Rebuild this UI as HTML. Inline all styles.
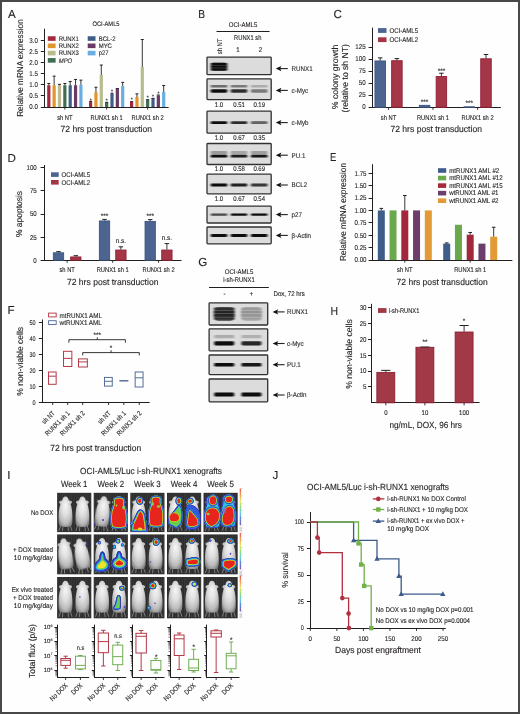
<!DOCTYPE html>
<html><head><meta charset="utf-8"><style>
html,body{margin:0;padding:0;background:#fff;}
body{width:520px;height:714px;overflow:hidden;}
svg{display:block;font-family:"Liberation Sans",sans-serif;will-change:transform;text-rendering:geometricPrecision;}
text{stroke:#231f20;stroke-width:0.12px;paint-order:stroke;}
</style></head><body>
<svg width="520" height="714" viewBox="0 0 520 714">
<rect x="0" y="0" width="520" height="714" fill="#fefefe"/>
<text x="8.00" y="17.60" font-size="11.6" textLength="7.74" lengthAdjust="spacingAndGlyphs" fill="#231f20">A</text>
<text x="198.20" y="18.00" font-size="11.6" textLength="6.81" lengthAdjust="spacingAndGlyphs" fill="#231f20">B</text>
<text x="333.60" y="18.00" font-size="11.6" textLength="8.38" lengthAdjust="spacingAndGlyphs" fill="#231f20">C</text>
<text x="7.60" y="161.50" font-size="11.6" textLength="8.38" lengthAdjust="spacingAndGlyphs" fill="#231f20">D</text>
<text x="330.00" y="160.60" font-size="11.6" textLength="6.34" lengthAdjust="spacingAndGlyphs" fill="#231f20">E</text>
<text x="7.60" y="314.00" font-size="11.6" textLength="7.09" lengthAdjust="spacingAndGlyphs" fill="#231f20">F</text>
<text x="198.20" y="265.70" font-size="11.6" textLength="9.02" lengthAdjust="spacingAndGlyphs" fill="#231f20">G</text>
<text x="330.60" y="314.60" font-size="11.6" textLength="7.54" lengthAdjust="spacingAndGlyphs" fill="#231f20">H</text>
<text x="7.20" y="479.00" font-size="11.6" textLength="3.22" lengthAdjust="spacingAndGlyphs" fill="#231f20">I</text>
<text x="272.60" y="478.80" font-size="11.6" textLength="5.80" lengthAdjust="spacingAndGlyphs" fill="#231f20">J</text>
<line x1="44.50" y1="28.70" x2="44.50" y2="108.00" stroke="#231f20" stroke-width="1.0"/>
<line x1="40.80" y1="107.50" x2="44.50" y2="107.50" stroke="#231f20" stroke-width="1.0"/>
<text x="29.34" y="109.40" font-size="7.0" textLength="8.56" lengthAdjust="spacingAndGlyphs" fill="#231f20" stroke="none">0.0</text>
<line x1="40.80" y1="95.50" x2="44.50" y2="95.50" stroke="#231f20" stroke-width="1.0"/>
<text x="29.34" y="98.30" font-size="7.0" textLength="8.56" lengthAdjust="spacingAndGlyphs" fill="#231f20" stroke="none">0.5</text>
<line x1="40.80" y1="84.50" x2="44.50" y2="84.50" stroke="#231f20" stroke-width="1.0"/>
<text x="29.34" y="87.20" font-size="7.0" textLength="8.56" lengthAdjust="spacingAndGlyphs" fill="#231f20" stroke="none">1.0</text>
<line x1="40.80" y1="73.50" x2="44.50" y2="73.50" stroke="#231f20" stroke-width="1.0"/>
<text x="29.34" y="76.10" font-size="7.0" textLength="8.56" lengthAdjust="spacingAndGlyphs" fill="#231f20" stroke="none">1.5</text>
<line x1="40.80" y1="62.50" x2="44.50" y2="62.50" stroke="#231f20" stroke-width="1.0"/>
<text x="29.34" y="65.00" font-size="7.0" textLength="8.56" lengthAdjust="spacingAndGlyphs" fill="#231f20" stroke="none">2.0</text>
<line x1="40.80" y1="51.50" x2="44.50" y2="51.50" stroke="#231f20" stroke-width="1.0"/>
<text x="29.34" y="53.90" font-size="7.0" textLength="8.56" lengthAdjust="spacingAndGlyphs" fill="#231f20" stroke="none">2.5</text>
<line x1="40.80" y1="40.50" x2="44.50" y2="40.50" stroke="#231f20" stroke-width="1.0"/>
<text x="29.34" y="42.80" font-size="7.0" textLength="8.56" lengthAdjust="spacingAndGlyphs" fill="#231f20" stroke="none">3.0</text>
<line x1="44.00" y1="107.50" x2="168.60" y2="107.50" stroke="#231f20" stroke-width="1.0"/>
<text x="22.80" y="116.80" font-size="8.7" textLength="97.50" lengthAdjust="spacingAndGlyphs" fill="#231f20" transform="rotate(-90 22.80 116.80)">Relative mRNA expression</text>
<text x="92.50" y="26.20" font-size="6.6" textLength="27.00" lengthAdjust="spacingAndGlyphs" fill="#231f20" stroke="none">OCI-AML5</text>
<rect x="47.80" y="36.25" width="7.80" height="4.60" fill="#a3283c"/>
<text x="58.70" y="40.85" font-size="6.6" textLength="20.13" lengthAdjust="spacingAndGlyphs" fill="#231f20" stroke="none">RUNX1</text>
<rect x="47.80" y="43.52" width="7.80" height="4.60" fill="#e3952d"/>
<text x="58.70" y="48.12" font-size="6.6" textLength="20.13" lengthAdjust="spacingAndGlyphs" fill="#231f20" stroke="none">RUNX2</text>
<rect x="47.80" y="50.79" width="7.80" height="4.60" fill="#b8bc8d"/>
<text x="58.70" y="55.39" font-size="6.6" textLength="20.13" lengthAdjust="spacingAndGlyphs" fill="#231f20" stroke="none">RUNX3</text>
<rect x="47.80" y="58.06" width="7.80" height="4.60" fill="#3e6f53"/>
<text x="58.70" y="62.66" font-size="6.6" textLength="13.53" lengthAdjust="spacingAndGlyphs" fill="#231f20" stroke="none" font-style="italic">MPO</text>
<rect x="87.70" y="36.25" width="7.80" height="4.60" fill="#3f5d89"/>
<text x="98.70" y="40.85" font-size="6.6" textLength="16.84" lengthAdjust="spacingAndGlyphs" fill="#231f20" stroke="none">BCL-2</text>
<rect x="87.70" y="43.52" width="7.80" height="4.60" fill="#6a3a66"/>
<text x="98.70" y="48.12" font-size="6.6" textLength="13.20" lengthAdjust="spacingAndGlyphs" fill="#231f20" stroke="none">MYC</text>
<rect x="87.70" y="50.79" width="7.80" height="4.60" fill="#68aee0"/>
<text x="98.70" y="55.39" font-size="6.6" textLength="9.91" lengthAdjust="spacingAndGlyphs" fill="#231f20" stroke="none">p27</text>
<rect x="47.20" y="85.24" width="3.20" height="21.76" fill="#a3283c"/>
<line x1="48.80" y1="85.24" x2="48.80" y2="83.47" stroke="#231f20" stroke-width="0.9"/>
<line x1="47.30" y1="83.47" x2="50.30" y2="83.47" stroke="#231f20" stroke-width="0.9900000000000001"/>
<rect x="52.55" y="85.24" width="3.20" height="21.76" fill="#e3952d"/>
<line x1="54.15" y1="85.24" x2="54.15" y2="76.14" stroke="#231f20" stroke-width="0.9"/>
<line x1="52.65" y1="76.14" x2="55.65" y2="76.14" stroke="#231f20" stroke-width="0.9900000000000001"/>
<rect x="57.90" y="85.24" width="3.20" height="21.76" fill="#b8bc8d"/>
<line x1="59.50" y1="85.24" x2="59.50" y2="84.36" stroke="#231f20" stroke-width="0.9"/>
<line x1="58.00" y1="84.36" x2="61.00" y2="84.36" stroke="#231f20" stroke-width="0.9900000000000001"/>
<rect x="63.25" y="85.24" width="3.20" height="21.76" fill="#3e6f53"/>
<line x1="64.85" y1="85.24" x2="64.85" y2="83.47" stroke="#231f20" stroke-width="0.9"/>
<line x1="63.35" y1="83.47" x2="66.35" y2="83.47" stroke="#231f20" stroke-width="0.9900000000000001"/>
<rect x="68.60" y="85.24" width="3.20" height="21.76" fill="#3f5d89"/>
<line x1="70.20" y1="85.24" x2="70.20" y2="81.47" stroke="#231f20" stroke-width="0.9"/>
<line x1="68.70" y1="81.47" x2="71.70" y2="81.47" stroke="#231f20" stroke-width="0.9900000000000001"/>
<rect x="73.95" y="85.24" width="3.20" height="21.76" fill="#6a3a66"/>
<line x1="75.55" y1="85.24" x2="75.55" y2="79.47" stroke="#231f20" stroke-width="0.9"/>
<line x1="74.05" y1="79.47" x2="77.05" y2="79.47" stroke="#231f20" stroke-width="0.9900000000000001"/>
<rect x="79.30" y="84.80" width="3.20" height="22.20" fill="#68aee0"/>
<line x1="80.90" y1="84.80" x2="80.90" y2="80.14" stroke="#231f20" stroke-width="0.9"/>
<line x1="79.40" y1="80.14" x2="82.40" y2="80.14" stroke="#231f20" stroke-width="0.9900000000000001"/>
<line x1="64.85" y1="107.00" x2="64.85" y2="109.60" stroke="#231f20" stroke-width="0.9"/>
<text x="57.14" y="120.00" font-size="6.8" textLength="15.41" lengthAdjust="spacingAndGlyphs" fill="#231f20" stroke="none">sh NT</text>
<rect x="89.00" y="102.12" width="3.20" height="4.88" fill="#a3283c"/>
<line x1="90.60" y1="102.12" x2="90.60" y2="101.45" stroke="#231f20" stroke-width="0.9"/>
<line x1="89.10" y1="101.45" x2="92.10" y2="101.45" stroke="#231f20" stroke-width="0.9900000000000001"/>
<text x="89.63" y="101.65" font-size="5.0" textLength="1.95" lengthAdjust="spacingAndGlyphs" fill="#231f20" stroke="none">*</text>
<rect x="94.35" y="92.35" width="3.20" height="14.65" fill="#e3952d"/>
<line x1="95.95" y1="92.35" x2="95.95" y2="87.24" stroke="#231f20" stroke-width="0.9"/>
<line x1="94.45" y1="87.24" x2="97.45" y2="87.24" stroke="#231f20" stroke-width="0.9900000000000001"/>
<rect x="99.70" y="75.03" width="3.20" height="31.97" fill="#b8bc8d"/>
<line x1="101.30" y1="75.03" x2="101.30" y2="65.04" stroke="#231f20" stroke-width="0.9"/>
<line x1="99.80" y1="65.04" x2="102.80" y2="65.04" stroke="#231f20" stroke-width="0.9900000000000001"/>
<rect x="105.05" y="102.12" width="3.20" height="4.88" fill="#3e6f53"/>
<line x1="105.15" y1="102.32" x2="108.15" y2="102.32" stroke="#231f20" stroke-width="0.9"/>
<text x="105.68" y="101.87" font-size="5.0" textLength="1.95" lengthAdjust="spacingAndGlyphs" fill="#231f20" stroke="none">*</text>
<rect x="110.40" y="93.90" width="3.20" height="13.10" fill="#3f5d89"/>
<line x1="112.00" y1="93.90" x2="112.00" y2="93.24" stroke="#231f20" stroke-width="0.9"/>
<line x1="110.50" y1="93.24" x2="113.50" y2="93.24" stroke="#231f20" stroke-width="0.9900000000000001"/>
<text x="111.03" y="93.44" font-size="5.0" textLength="1.95" lengthAdjust="spacingAndGlyphs" fill="#231f20" stroke="none">*</text>
<rect x="115.75" y="88.35" width="3.20" height="18.65" fill="#6a3a66"/>
<line x1="115.85" y1="88.55" x2="118.85" y2="88.55" stroke="#231f20" stroke-width="0.9"/>
<rect x="121.10" y="86.13" width="3.20" height="20.87" fill="#68aee0"/>
<line x1="122.70" y1="86.13" x2="122.70" y2="82.36" stroke="#231f20" stroke-width="0.9"/>
<line x1="121.20" y1="82.36" x2="124.20" y2="82.36" stroke="#231f20" stroke-width="0.9900000000000001"/>
<line x1="106.65" y1="107.00" x2="106.65" y2="109.60" stroke="#231f20" stroke-width="0.9"/>
<text x="90.59" y="120.00" font-size="6.8" textLength="32.12" lengthAdjust="spacingAndGlyphs" fill="#231f20" stroke="none">RUNX1 sh 1</text>
<rect x="130.00" y="101.45" width="3.20" height="5.55" fill="#a3283c"/>
<line x1="130.10" y1="101.65" x2="133.10" y2="101.65" stroke="#231f20" stroke-width="0.9"/>
<text x="130.63" y="101.21" font-size="5.0" textLength="1.95" lengthAdjust="spacingAndGlyphs" fill="#231f20" stroke="none">*</text>
<rect x="135.35" y="97.01" width="3.20" height="9.99" fill="#e3952d"/>
<line x1="136.95" y1="97.01" x2="136.95" y2="93.90" stroke="#231f20" stroke-width="0.9"/>
<line x1="135.45" y1="93.90" x2="138.45" y2="93.90" stroke="#231f20" stroke-width="0.9900000000000001"/>
<rect x="140.70" y="67.04" width="3.20" height="39.96" fill="#b8bc8d"/>
<line x1="142.30" y1="67.04" x2="142.30" y2="39.51" stroke="#231f20" stroke-width="0.9"/>
<line x1="140.80" y1="39.51" x2="143.80" y2="39.51" stroke="#231f20" stroke-width="0.9900000000000001"/>
<rect x="146.05" y="99.45" width="3.20" height="7.55" fill="#3e6f53"/>
<line x1="146.15" y1="99.65" x2="149.15" y2="99.65" stroke="#231f20" stroke-width="0.9"/>
<text x="146.68" y="99.21" font-size="5.0" textLength="1.95" lengthAdjust="spacingAndGlyphs" fill="#231f20" stroke="none">*</text>
<rect x="151.40" y="98.12" width="3.20" height="8.88" fill="#3f5d89"/>
<line x1="151.50" y1="98.32" x2="154.50" y2="98.32" stroke="#231f20" stroke-width="0.9"/>
<text x="152.03" y="97.88" font-size="5.0" textLength="1.95" lengthAdjust="spacingAndGlyphs" fill="#231f20" stroke="none">*</text>
<rect x="156.75" y="95.68" width="3.20" height="11.32" fill="#6a3a66"/>
<line x1="158.35" y1="95.68" x2="158.35" y2="95.01" stroke="#231f20" stroke-width="0.9"/>
<line x1="156.85" y1="95.01" x2="159.85" y2="95.01" stroke="#231f20" stroke-width="0.9900000000000001"/>
<text x="157.38" y="95.21" font-size="5.0" textLength="1.95" lengthAdjust="spacingAndGlyphs" fill="#231f20" stroke="none">*</text>
<rect x="162.10" y="91.90" width="3.20" height="15.10" fill="#68aee0"/>
<line x1="163.70" y1="91.90" x2="163.70" y2="85.47" stroke="#231f20" stroke-width="0.9"/>
<line x1="162.20" y1="85.47" x2="165.20" y2="85.47" stroke="#231f20" stroke-width="0.9900000000000001"/>
<line x1="147.65" y1="107.00" x2="147.65" y2="109.60" stroke="#231f20" stroke-width="0.9"/>
<text x="131.59" y="120.00" font-size="6.8" textLength="32.12" lengthAdjust="spacingAndGlyphs" fill="#231f20" stroke="none">RUNX1 sh 2</text>
<text x="60.55" y="132.10" font-size="8.85" textLength="91.50" lengthAdjust="spacingAndGlyphs" fill="#231f20">72 hrs post transduction</text>
<line x1="372.50" y1="27.70" x2="372.50" y2="108.00" stroke="#231f20" stroke-width="1.0"/>
<line x1="368.60" y1="107.50" x2="372.50" y2="107.50" stroke="#231f20" stroke-width="1.0"/>
<text x="362.17" y="109.30" font-size="7.0" textLength="3.43" lengthAdjust="spacingAndGlyphs" fill="#231f20" stroke="none">0</text>
<line x1="368.60" y1="95.50" x2="372.50" y2="95.50" stroke="#231f20" stroke-width="1.0"/>
<text x="358.75" y="97.30" font-size="7.0" textLength="6.85" lengthAdjust="spacingAndGlyphs" fill="#231f20" stroke="none">25</text>
<line x1="368.60" y1="83.50" x2="372.50" y2="83.50" stroke="#231f20" stroke-width="1.0"/>
<text x="358.75" y="85.30" font-size="7.0" textLength="6.85" lengthAdjust="spacingAndGlyphs" fill="#231f20" stroke="none">50</text>
<line x1="368.60" y1="71.50" x2="372.50" y2="71.50" stroke="#231f20" stroke-width="1.0"/>
<text x="358.75" y="73.30" font-size="7.0" textLength="6.85" lengthAdjust="spacingAndGlyphs" fill="#231f20" stroke="none">75</text>
<line x1="368.60" y1="59.50" x2="372.50" y2="59.50" stroke="#231f20" stroke-width="1.0"/>
<text x="355.32" y="61.30" font-size="7.0" textLength="10.28" lengthAdjust="spacingAndGlyphs" fill="#231f20" stroke="none">100</text>
<line x1="368.60" y1="47.50" x2="372.50" y2="47.50" stroke="#231f20" stroke-width="1.0"/>
<text x="355.32" y="49.30" font-size="7.0" textLength="10.28" lengthAdjust="spacingAndGlyphs" fill="#231f20" stroke="none">125</text>
<line x1="372.00" y1="107.50" x2="500.90" y2="107.50" stroke="#231f20" stroke-width="1.0"/>
<text x="305.70" y="77.00" font-size="8.7" textLength="64.60" lengthAdjust="spacingAndGlyphs" fill="#231f20" transform="rotate(-90 338.00 77.00)">% colony growth</text>
<text x="314.20" y="78.30" font-size="8.7" textLength="68.20" lengthAdjust="spacingAndGlyphs" fill="#231f20" transform="rotate(-90 348.30 78.30)">(relative to sh NT)</text>
<rect x="378.00" y="28.10" width="8.50" height="4.80" fill="#4b6590"/>
<text x="389.50" y="32.90" font-size="6.8" textLength="28.58" lengthAdjust="spacingAndGlyphs" fill="#231f20" stroke="none">OCI-AML5</text>
<rect x="378.00" y="37.30" width="8.50" height="4.80" fill="#a43647"/>
<text x="389.50" y="42.10" font-size="6.8" textLength="28.58" lengthAdjust="spacingAndGlyphs" fill="#231f20" stroke="none">OCI-AML2</text>
<rect x="374.95" y="60.95" width="10.50" height="46.35" fill="#4b6590" stroke="#3a5482" stroke-width="0.9"/>
<line x1="380.20" y1="60.50" x2="380.20" y2="57.86" stroke="#231f20" stroke-width="0.9"/>
<line x1="377.95" y1="57.86" x2="382.45" y2="57.86" stroke="#231f20" stroke-width="0.9900000000000001"/>
<rect x="391.65" y="60.71" width="10.50" height="46.59" fill="#a43647" stroke="#921f34" stroke-width="0.9"/>
<line x1="396.90" y1="60.26" x2="396.90" y2="58.58" stroke="#231f20" stroke-width="0.9"/>
<line x1="394.65" y1="58.58" x2="399.15" y2="58.58" stroke="#231f20" stroke-width="0.9900000000000001"/>
<line x1="388.55" y1="107.30" x2="388.55" y2="109.90" stroke="#231f20" stroke-width="0.9"/>
<text x="380.84" y="119.60" font-size="6.8" textLength="15.41" lengthAdjust="spacingAndGlyphs" fill="#231f20" stroke="none">sh NT</text>
<rect x="419.35" y="105.35" width="10.50" height="1.95" fill="#4b6590" stroke="#3a5482" stroke-width="0.9"/>
<text x="420.86" y="103.82" font-size="6.4" textLength="7.47" lengthAdjust="spacingAndGlyphs" fill="#231f20" stroke="none">***</text>
<rect x="436.15" y="76.55" width="10.50" height="30.75" fill="#a43647" stroke="#921f34" stroke-width="0.9"/>
<line x1="441.40" y1="76.10" x2="441.40" y2="73.22" stroke="#231f20" stroke-width="0.9"/>
<line x1="439.15" y1="73.22" x2="443.65" y2="73.22" stroke="#231f20" stroke-width="0.9900000000000001"/>
<text x="437.66" y="72.62" font-size="6.4" textLength="7.47" lengthAdjust="spacingAndGlyphs" fill="#231f20" stroke="none">***</text>
<line x1="433.00" y1="107.30" x2="433.00" y2="109.90" stroke="#231f20" stroke-width="0.9"/>
<text x="416.94" y="119.60" font-size="6.8" textLength="32.12" lengthAdjust="spacingAndGlyphs" fill="#231f20" stroke="none">RUNX1 sh 1</text>
<rect x="463.95" y="106.79" width="10.50" height="0.51" fill="#4b6590" stroke="#3a5482" stroke-width="0.9"/>
<text x="465.46" y="105.45" font-size="6.4" textLength="7.47" lengthAdjust="spacingAndGlyphs" fill="#231f20" stroke="none">***</text>
<rect x="480.75" y="58.79" width="10.50" height="48.51" fill="#a43647" stroke="#921f34" stroke-width="0.9"/>
<line x1="486.00" y1="58.34" x2="486.00" y2="54.50" stroke="#231f20" stroke-width="0.9"/>
<line x1="483.75" y1="54.50" x2="488.25" y2="54.50" stroke="#231f20" stroke-width="0.9900000000000001"/>
<line x1="477.60" y1="107.30" x2="477.60" y2="109.90" stroke="#231f20" stroke-width="0.9"/>
<text x="461.54" y="119.60" font-size="6.8" textLength="32.12" lengthAdjust="spacingAndGlyphs" fill="#231f20" stroke="none">RUNX1 sh 2</text>
<text x="390.45" y="132.10" font-size="8.85" textLength="91.50" lengthAdjust="spacingAndGlyphs" fill="#231f20">72 hrs post transduction</text>
<line x1="44.50" y1="165.00" x2="44.50" y2="261.00" stroke="#231f20" stroke-width="1.0"/>
<line x1="40.60" y1="260.50" x2="44.50" y2="260.50" stroke="#231f20" stroke-width="1.0"/>
<text x="33.37" y="262.60" font-size="7.0" textLength="3.43" lengthAdjust="spacingAndGlyphs" fill="#231f20" stroke="none">0</text>
<line x1="40.60" y1="237.50" x2="44.50" y2="237.50" stroke="#231f20" stroke-width="1.0"/>
<text x="29.95" y="239.53" font-size="7.0" textLength="6.85" lengthAdjust="spacingAndGlyphs" fill="#231f20" stroke="none">25</text>
<line x1="40.60" y1="214.50" x2="44.50" y2="214.50" stroke="#231f20" stroke-width="1.0"/>
<text x="29.95" y="216.45" font-size="7.0" textLength="6.85" lengthAdjust="spacingAndGlyphs" fill="#231f20" stroke="none">50</text>
<line x1="40.60" y1="190.50" x2="44.50" y2="190.50" stroke="#231f20" stroke-width="1.0"/>
<text x="29.95" y="193.37" font-size="7.0" textLength="6.85" lengthAdjust="spacingAndGlyphs" fill="#231f20" stroke="none">75</text>
<line x1="40.60" y1="167.50" x2="44.50" y2="167.50" stroke="#231f20" stroke-width="1.0"/>
<text x="26.52" y="170.30" font-size="7.0" textLength="10.28" lengthAdjust="spacingAndGlyphs" fill="#231f20" stroke="none">100</text>
<line x1="44.00" y1="260.50" x2="181.50" y2="260.50" stroke="#231f20" stroke-width="1.0"/>
<text x="-1.50" y="214.00" font-size="8.7" textLength="46.00" lengthAdjust="spacingAndGlyphs" fill="#231f20" transform="rotate(-90 21.50 214.00)">% apoptosis</text>
<rect x="51.00" y="172.30" width="7.70" height="4.60" fill="#4b6590"/>
<text x="61.50" y="176.90" font-size="6.8" textLength="28.58" lengthAdjust="spacingAndGlyphs" fill="#231f20" stroke="none">OCI-AML5</text>
<rect x="51.00" y="180.00" width="7.70" height="4.60" fill="#a43647"/>
<text x="61.50" y="184.60" font-size="6.8" textLength="28.58" lengthAdjust="spacingAndGlyphs" fill="#231f20" stroke="none">OCI-AML2</text>
<rect x="53.35" y="252.80" width="10.30" height="7.40" fill="#4b6590" stroke="#3a5482" stroke-width="0.9"/>
<line x1="58.50" y1="252.35" x2="58.50" y2="251.62" stroke="#231f20" stroke-width="0.9"/>
<line x1="56.25" y1="251.62" x2="60.75" y2="251.62" stroke="#231f20" stroke-width="0.9900000000000001"/>
<rect x="70.65" y="256.96" width="10.30" height="3.24" fill="#a43647" stroke="#921f34" stroke-width="0.9"/>
<line x1="75.80" y1="256.51" x2="75.80" y2="255.68" stroke="#231f20" stroke-width="0.9"/>
<line x1="73.55" y1="255.68" x2="78.05" y2="255.68" stroke="#231f20" stroke-width="0.9900000000000001"/>
<line x1="67.15" y1="260.20" x2="67.15" y2="262.80" stroke="#231f20" stroke-width="0.9"/>
<text x="59.44" y="272.00" font-size="6.8" textLength="15.41" lengthAdjust="spacingAndGlyphs" fill="#231f20" stroke="none">sh NT</text>
<rect x="99.35" y="220.96" width="10.30" height="39.24" fill="#4b6590" stroke="#3a5482" stroke-width="0.9"/>
<line x1="104.50" y1="220.51" x2="104.50" y2="219.40" stroke="#231f20" stroke-width="0.9"/>
<line x1="102.25" y1="219.40" x2="106.75" y2="219.40" stroke="#231f20" stroke-width="0.9900000000000001"/>
<text x="100.76" y="218.00" font-size="6.4" textLength="7.47" lengthAdjust="spacingAndGlyphs" fill="#231f20" stroke="none">***</text>
<rect x="115.75" y="250.04" width="10.30" height="10.16" fill="#a43647" stroke="#921f34" stroke-width="0.9"/>
<line x1="120.90" y1="249.59" x2="120.90" y2="246.82" stroke="#231f20" stroke-width="0.9"/>
<line x1="118.65" y1="246.82" x2="123.15" y2="246.82" stroke="#231f20" stroke-width="0.9900000000000001"/>
<text x="115.71" y="243.02" font-size="7.0" textLength="10.38" lengthAdjust="spacingAndGlyphs" fill="#231f20" stroke="none">n.s.</text>
<line x1="112.70" y1="260.20" x2="112.70" y2="262.80" stroke="#231f20" stroke-width="0.9"/>
<text x="96.64" y="272.00" font-size="6.8" textLength="32.12" lengthAdjust="spacingAndGlyphs" fill="#231f20" stroke="none">RUNX1 sh 1</text>
<rect x="145.05" y="221.42" width="10.30" height="38.78" fill="#4b6590" stroke="#3a5482" stroke-width="0.9"/>
<line x1="150.20" y1="220.97" x2="150.20" y2="219.59" stroke="#231f20" stroke-width="0.9"/>
<line x1="147.95" y1="219.59" x2="152.45" y2="219.59" stroke="#231f20" stroke-width="0.9900000000000001"/>
<text x="146.46" y="218.19" font-size="6.4" textLength="7.47" lengthAdjust="spacingAndGlyphs" fill="#231f20" stroke="none">***</text>
<rect x="161.75" y="250.04" width="10.30" height="10.16" fill="#a43647" stroke="#921f34" stroke-width="0.9"/>
<line x1="166.90" y1="249.59" x2="166.90" y2="243.59" stroke="#231f20" stroke-width="0.9"/>
<line x1="164.65" y1="243.59" x2="169.15" y2="243.59" stroke="#231f20" stroke-width="0.9900000000000001"/>
<text x="161.71" y="239.79" font-size="7.0" textLength="10.38" lengthAdjust="spacingAndGlyphs" fill="#231f20" stroke="none">n.s.</text>
<line x1="158.55" y1="260.20" x2="158.55" y2="262.80" stroke="#231f20" stroke-width="0.9"/>
<text x="142.49" y="272.00" font-size="6.8" textLength="32.12" lengthAdjust="spacingAndGlyphs" fill="#231f20" stroke="none">RUNX1 sh 2</text>
<text x="66.95" y="285.00" font-size="8.85" textLength="91.50" lengthAdjust="spacingAndGlyphs" fill="#231f20">72 hrs post transduction</text>
<line x1="372.50" y1="164.20" x2="372.50" y2="261.00" stroke="#231f20" stroke-width="1.0"/>
<line x1="368.60" y1="260.50" x2="372.50" y2="260.50" stroke="#231f20" stroke-width="1.0"/>
<text x="354.51" y="262.40" font-size="7.0" textLength="11.99" lengthAdjust="spacingAndGlyphs" fill="#231f20" stroke="none">0.00</text>
<line x1="368.60" y1="247.50" x2="372.50" y2="247.50" stroke="#231f20" stroke-width="1.0"/>
<text x="354.51" y="250.00" font-size="7.0" textLength="11.99" lengthAdjust="spacingAndGlyphs" fill="#231f20" stroke="none">0.25</text>
<line x1="368.60" y1="235.50" x2="372.50" y2="235.50" stroke="#231f20" stroke-width="1.0"/>
<text x="354.51" y="237.60" font-size="7.0" textLength="11.99" lengthAdjust="spacingAndGlyphs" fill="#231f20" stroke="none">0.50</text>
<line x1="368.60" y1="222.50" x2="372.50" y2="222.50" stroke="#231f20" stroke-width="1.0"/>
<text x="354.51" y="225.20" font-size="7.0" textLength="11.99" lengthAdjust="spacingAndGlyphs" fill="#231f20" stroke="none">0.75</text>
<line x1="368.60" y1="210.50" x2="372.50" y2="210.50" stroke="#231f20" stroke-width="1.0"/>
<text x="354.51" y="212.80" font-size="7.0" textLength="11.99" lengthAdjust="spacingAndGlyphs" fill="#231f20" stroke="none">1.00</text>
<line x1="368.60" y1="198.50" x2="372.50" y2="198.50" stroke="#231f20" stroke-width="1.0"/>
<text x="354.51" y="200.40" font-size="7.0" textLength="11.99" lengthAdjust="spacingAndGlyphs" fill="#231f20" stroke="none">1.25</text>
<line x1="368.60" y1="185.50" x2="372.50" y2="185.50" stroke="#231f20" stroke-width="1.0"/>
<text x="354.51" y="188.00" font-size="7.0" textLength="11.99" lengthAdjust="spacingAndGlyphs" fill="#231f20" stroke="none">1.50</text>
<line x1="368.60" y1="173.50" x2="372.50" y2="173.50" stroke="#231f20" stroke-width="1.0"/>
<text x="354.51" y="175.60" font-size="7.0" textLength="11.99" lengthAdjust="spacingAndGlyphs" fill="#231f20" stroke="none">1.75</text>
<line x1="372.00" y1="260.50" x2="512.40" y2="260.50" stroke="#231f20" stroke-width="1.0"/>
<text x="297.40" y="212.00" font-size="8.7" textLength="98.00" lengthAdjust="spacingAndGlyphs" fill="#231f20" transform="rotate(-90 346.40 212.00)">Relative mRNA expression</text>
<rect x="438.00" y="168.20" width="8.20" height="4.60" fill="#3f5d89"/>
<text x="449.20" y="172.80" font-size="6.8" textLength="50.05" lengthAdjust="spacingAndGlyphs" fill="#231f20" stroke="none">mtRUNX1 AML #2</text>
<rect x="438.00" y="175.75" width="8.20" height="4.60" fill="#6aa84c"/>
<text x="449.20" y="180.35" font-size="6.8" textLength="53.47" lengthAdjust="spacingAndGlyphs" fill="#231f20" stroke="none">mtRUNX1 AML #12</text>
<rect x="438.00" y="183.30" width="8.20" height="4.60" fill="#a3283c"/>
<text x="449.20" y="187.90" font-size="6.8" textLength="53.47" lengthAdjust="spacingAndGlyphs" fill="#231f20" stroke="none">mtRUNX1 AML #15</text>
<rect x="438.00" y="190.85" width="8.20" height="4.60" fill="#6b3e6b"/>
<text x="449.20" y="195.45" font-size="6.8" textLength="49.36" lengthAdjust="spacingAndGlyphs" fill="#231f20" stroke="none">wtRUNX1 AML #1</text>
<rect x="438.00" y="198.40" width="8.20" height="4.60" fill="#e29a36"/>
<text x="449.20" y="203.00" font-size="6.8" textLength="49.36" lengthAdjust="spacingAndGlyphs" fill="#231f20" stroke="none">wtRUNX1 AML #2</text>
<rect x="377.80" y="210.40" width="7.00" height="49.60" fill="#3f5d89"/>
<line x1="381.30" y1="210.40" x2="381.30" y2="208.42" stroke="#231f20" stroke-width="0.9"/>
<line x1="379.50" y1="208.42" x2="383.10" y2="208.42" stroke="#231f20" stroke-width="0.9900000000000001"/>
<rect x="389.55" y="210.40" width="7.00" height="49.60" fill="#6aa84c"/>
<rect x="401.30" y="210.40" width="7.00" height="49.60" fill="#a3283c"/>
<line x1="404.80" y1="210.40" x2="404.80" y2="195.52" stroke="#231f20" stroke-width="0.9"/>
<line x1="403.00" y1="195.52" x2="406.60" y2="195.52" stroke="#231f20" stroke-width="0.9900000000000001"/>
<rect x="413.05" y="210.40" width="7.00" height="49.60" fill="#6b3e6b"/>
<rect x="424.80" y="210.40" width="7.00" height="49.60" fill="#e29a36"/>
<line x1="404.80" y1="260.00" x2="404.80" y2="262.60" stroke="#231f20" stroke-width="0.9"/>
<text x="397.09" y="272.20" font-size="6.8" textLength="15.41" lengthAdjust="spacingAndGlyphs" fill="#231f20" stroke="none">sh NT</text>
<rect x="443.20" y="243.63" width="7.00" height="16.37" fill="#3f5d89"/>
<line x1="446.70" y1="243.63" x2="446.70" y2="242.89" stroke="#231f20" stroke-width="0.9"/>
<line x1="444.90" y1="242.89" x2="448.50" y2="242.89" stroke="#231f20" stroke-width="0.9900000000000001"/>
<rect x="454.95" y="224.78" width="7.00" height="35.22" fill="#6aa84c"/>
<rect x="466.70" y="234.70" width="7.00" height="25.30" fill="#a3283c"/>
<line x1="470.20" y1="234.70" x2="470.20" y2="232.47" stroke="#231f20" stroke-width="0.9"/>
<line x1="468.40" y1="232.47" x2="472.00" y2="232.47" stroke="#231f20" stroke-width="0.9900000000000001"/>
<rect x="478.45" y="243.63" width="7.00" height="16.37" fill="#6b3e6b"/>
<rect x="490.20" y="236.69" width="7.00" height="23.31" fill="#e29a36"/>
<line x1="493.70" y1="236.69" x2="493.70" y2="227.26" stroke="#231f20" stroke-width="0.9"/>
<line x1="491.90" y1="227.26" x2="495.50" y2="227.26" stroke="#231f20" stroke-width="0.9900000000000001"/>
<line x1="470.20" y1="260.00" x2="470.20" y2="262.60" stroke="#231f20" stroke-width="0.9"/>
<text x="454.14" y="272.20" font-size="6.8" textLength="32.12" lengthAdjust="spacingAndGlyphs" fill="#231f20" stroke="none">RUNX1 sh 1</text>
<text x="396.50" y="285.00" font-size="8.85" textLength="91.20" lengthAdjust="spacingAndGlyphs" fill="#231f20">72 hrs post transduction</text>
<line x1="371.50" y1="303.80" x2="371.50" y2="403.00" stroke="#231f20" stroke-width="1.0"/>
<line x1="368.00" y1="386.50" x2="371.50" y2="386.50" stroke="#231f20" stroke-width="1.0"/>
<text x="363.07" y="389.30" font-size="7.0" textLength="3.43" lengthAdjust="spacingAndGlyphs" fill="#231f20" stroke="none">5</text>
<line x1="368.00" y1="371.50" x2="371.50" y2="371.50" stroke="#231f20" stroke-width="1.0"/>
<text x="359.65" y="373.40" font-size="7.0" textLength="6.85" lengthAdjust="spacingAndGlyphs" fill="#231f20" stroke="none">10</text>
<line x1="368.00" y1="355.50" x2="371.50" y2="355.50" stroke="#231f20" stroke-width="1.0"/>
<text x="359.65" y="357.50" font-size="7.0" textLength="6.85" lengthAdjust="spacingAndGlyphs" fill="#231f20" stroke="none">15</text>
<line x1="368.00" y1="339.50" x2="371.50" y2="339.50" stroke="#231f20" stroke-width="1.0"/>
<text x="359.65" y="341.60" font-size="7.0" textLength="6.85" lengthAdjust="spacingAndGlyphs" fill="#231f20" stroke="none">20</text>
<line x1="368.00" y1="323.50" x2="371.50" y2="323.50" stroke="#231f20" stroke-width="1.0"/>
<text x="359.65" y="325.70" font-size="7.0" textLength="6.85" lengthAdjust="spacingAndGlyphs" fill="#231f20" stroke="none">25</text>
<line x1="368.00" y1="307.50" x2="371.50" y2="307.50" stroke="#231f20" stroke-width="1.0"/>
<text x="359.65" y="309.80" font-size="7.0" textLength="6.85" lengthAdjust="spacingAndGlyphs" fill="#231f20" stroke="none">30</text>
<line x1="371.00" y1="402.50" x2="479.60" y2="402.50" stroke="#231f20" stroke-width="1.0"/>
<text x="317.45" y="354.00" font-size="8.7" textLength="69.50" lengthAdjust="spacingAndGlyphs" fill="#231f20" transform="rotate(-90 352.20 354.00)">% non-viable cells</text>
<rect x="378.00" y="308.10" width="8.50" height="4.80" fill="#a13947"/>
<text x="388.90" y="312.80" font-size="6.8" textLength="30.47" lengthAdjust="spacingAndGlyphs" fill="#231f20" stroke="none">i-sh-RUNX1</text>
<rect x="376.85" y="372.40" width="17.90" height="30.40" fill="#a13947" stroke="#8d1f33" stroke-width="0.9"/>
<line x1="385.80" y1="371.95" x2="385.80" y2="370.36" stroke="#231f20" stroke-width="0.9"/>
<line x1="381.20" y1="370.36" x2="390.40" y2="370.36" stroke="#231f20" stroke-width="0.9900000000000001"/>
<line x1="385.80" y1="402.80" x2="385.80" y2="405.40" stroke="#231f20" stroke-width="0.9"/>
<text x="384.14" y="415.30" font-size="6.8" textLength="3.33" lengthAdjust="spacingAndGlyphs" fill="#231f20" stroke="none">0</text>
<rect x="415.95" y="347.28" width="17.90" height="55.52" fill="#a13947" stroke="#8d1f33" stroke-width="0.9"/>
<line x1="420.30" y1="347.03" x2="429.50" y2="347.03" stroke="#231f20" stroke-width="0.9"/>
<text x="422.41" y="343.96" font-size="6.4" textLength="4.98" lengthAdjust="spacingAndGlyphs" fill="#231f20" stroke="none">**</text>
<line x1="424.90" y1="402.80" x2="424.90" y2="405.40" stroke="#231f20" stroke-width="0.9"/>
<text x="421.57" y="415.30" font-size="6.8" textLength="6.66" lengthAdjust="spacingAndGlyphs" fill="#231f20" stroke="none">10</text>
<rect x="455.15" y="332.02" width="17.90" height="70.78" fill="#a13947" stroke="#8d1f33" stroke-width="0.9"/>
<line x1="464.10" y1="331.57" x2="464.10" y2="325.53" stroke="#231f20" stroke-width="0.9"/>
<line x1="459.50" y1="325.53" x2="468.70" y2="325.53" stroke="#231f20" stroke-width="0.9900000000000001"/>
<text x="462.85" y="323.13" font-size="6.4" textLength="2.49" lengthAdjust="spacingAndGlyphs" fill="#231f20" stroke="none">*</text>
<line x1="464.10" y1="402.80" x2="464.10" y2="405.40" stroke="#231f20" stroke-width="0.9"/>
<text x="459.11" y="415.30" font-size="6.8" textLength="9.98" lengthAdjust="spacingAndGlyphs" fill="#231f20" stroke="none">100</text>
<text x="389.45" y="428.00" font-size="8.85" textLength="72.50" lengthAdjust="spacingAndGlyphs" fill="#231f20">ng/mL, DOX, 96 hrs</text>
<defs>
<filter id="bl" x="-50%" y="-100%" width="200%" height="300%"><feGaussianBlur stdDeviation="1.0 0.75"/></filter>
<filter id="bl2" x="-50%" y="-100%" width="200%" height="300%"><feGaussianBlur stdDeviation="0.9"/></filter>
<filter id="bl3" x="-50%" y="-50%" width="200%" height="200%"><feGaussianBlur stdDeviation="1.3"/></filter>
<filter id="blm" x="-50%" y="-50%" width="200%" height="200%"><feGaussianBlur stdDeviation="0.7"/></filter>
</defs>
<text x="228.75" y="26.60" font-size="6.8" textLength="28.50" lengthAdjust="spacingAndGlyphs" fill="#231f20" stroke="none">OCI-AML5</text>
<line x1="216.50" y1="31.50" x2="269.60" y2="31.50" stroke="#231f20" stroke-width="1.0"/>
<text x="214.49" y="46.50" font-size="6.8" textLength="15.41" lengthAdjust="spacingAndGlyphs" fill="#231f20" stroke="none" transform="rotate(-90 222.20 46.50)">sh NT</text>
<text x="234.05" y="40.30" font-size="6.8" textLength="27.30" lengthAdjust="spacingAndGlyphs" fill="#231f20" stroke="none">RUNX1 sh</text>
<text x="236.30" y="51.50" font-size="6.8" textLength="3.40" lengthAdjust="spacingAndGlyphs" fill="#231f20" stroke="none">1</text>
<text x="258.70" y="51.50" font-size="6.8" textLength="3.40" lengthAdjust="spacingAndGlyphs" fill="#231f20" stroke="none">2</text>
<rect x="207.00" y="57.20" width="64.20" height="17.50" rx="0.8" fill="#dcdcdc" stroke="#303030" stroke-width="1.3"/>
<g filter="url(#bl)">
<rect x="210.75" y="62.50" width="16.50" height="8.40" rx="2.80" fill="#333" opacity="0.80"/>
<rect x="210.75" y="62.90" width="16.50" height="2.20" rx="0.73" fill="#0d0d0d" opacity="1.00"/>
<rect x="210.75" y="65.60" width="16.50" height="2.20" rx="0.73" fill="#0d0d0d" opacity="1.00"/>
<rect x="210.75" y="68.30" width="16.50" height="2.20" rx="0.73" fill="#0d0d0d" opacity="1.00"/>
</g>
<rect x="207.00" y="78.80" width="64.20" height="20.80" rx="0.8" fill="#dcdcdc" stroke="#303030" stroke-width="1.3"/>
<g filter="url(#bl)">
<rect x="210.75" y="85.00" width="16.50" height="2.60" rx="0.87" fill="#0d0d0d" opacity="0.55"/>
<rect x="230.75" y="85.00" width="16.50" height="2.60" rx="0.87" fill="#0d0d0d" opacity="0.45"/>
<rect x="250.95" y="85.00" width="16.50" height="2.60" rx="0.87" fill="#0d0d0d" opacity="0.22"/>
<rect x="210.75" y="89.30" width="16.50" height="3.40" rx="1.13" fill="#0d0d0d" opacity="1.00"/>
<rect x="230.75" y="89.30" width="16.50" height="3.40" rx="1.13" fill="#0d0d0d" opacity="0.85"/>
<rect x="250.95" y="89.30" width="16.50" height="3.40" rx="1.13" fill="#0d0d0d" opacity="0.45"/>
</g>
<text x="214.84" y="107.30" font-size="6.8" textLength="8.32" lengthAdjust="spacingAndGlyphs" fill="#231f20" stroke="none">1.0</text>
<text x="233.18" y="107.30" font-size="6.8" textLength="11.65" lengthAdjust="spacingAndGlyphs" fill="#231f20" stroke="none">0.51</text>
<text x="253.38" y="107.30" font-size="6.8" textLength="11.65" lengthAdjust="spacingAndGlyphs" fill="#231f20" stroke="none">0.19</text>
<rect x="207.00" y="111.20" width="64.20" height="22.00" rx="0.8" fill="#dcdcdc" stroke="#303030" stroke-width="1.3"/>
<g filter="url(#bl)">
<rect x="210.75" y="121.20" width="16.50" height="2.80" rx="0.93" fill="#0d0d0d" opacity="1.00"/>
<rect x="230.75" y="121.20" width="16.50" height="2.80" rx="0.93" fill="#0d0d0d" opacity="0.85"/>
<rect x="250.95" y="121.20" width="16.50" height="2.80" rx="0.93" fill="#0d0d0d" opacity="0.60"/>
</g>
<text x="214.84" y="139.60" font-size="6.8" textLength="8.32" lengthAdjust="spacingAndGlyphs" fill="#231f20" stroke="none">1.0</text>
<text x="233.18" y="139.60" font-size="6.8" textLength="11.65" lengthAdjust="spacingAndGlyphs" fill="#231f20" stroke="none">0.67</text>
<text x="253.38" y="139.60" font-size="6.8" textLength="11.65" lengthAdjust="spacingAndGlyphs" fill="#231f20" stroke="none">0.35</text>
<rect x="207.00" y="143.50" width="64.20" height="21.00" rx="0.8" fill="#dcdcdc" stroke="#303030" stroke-width="1.3"/>
<g filter="url(#bl)">
<rect x="210.75" y="150.95" width="16.50" height="3.50" rx="1.17" fill="#0d0d0d" opacity="0.30"/>
<rect x="230.75" y="150.95" width="16.50" height="3.50" rx="1.17" fill="#0d0d0d" opacity="0.25"/>
<rect x="250.95" y="150.95" width="16.50" height="3.50" rx="1.17" fill="#0d0d0d" opacity="0.28"/>
<rect x="210.75" y="154.80" width="16.50" height="2.80" rx="0.93" fill="#0d0d0d" opacity="1.00"/>
<rect x="230.75" y="154.80" width="16.50" height="2.80" rx="0.93" fill="#0d0d0d" opacity="0.92"/>
<rect x="250.95" y="154.80" width="16.50" height="2.80" rx="0.93" fill="#0d0d0d" opacity="0.95"/>
</g>
<text x="214.84" y="171.00" font-size="6.8" textLength="8.32" lengthAdjust="spacingAndGlyphs" fill="#231f20" stroke="none">1.0</text>
<text x="233.18" y="171.00" font-size="6.8" textLength="11.65" lengthAdjust="spacingAndGlyphs" fill="#231f20" stroke="none">0.58</text>
<text x="253.38" y="171.00" font-size="6.8" textLength="11.65" lengthAdjust="spacingAndGlyphs" fill="#231f20" stroke="none">0.69</text>
<rect x="207.00" y="174.20" width="64.20" height="19.60" rx="0.8" fill="#dcdcdc" stroke="#303030" stroke-width="1.3"/>
<g filter="url(#bl)">
<rect x="210.75" y="183.60" width="16.50" height="2.80" rx="0.93" fill="#0d0d0d" opacity="1.00"/>
<rect x="230.75" y="183.60" width="16.50" height="2.80" rx="0.93" fill="#0d0d0d" opacity="0.90"/>
<rect x="250.95" y="183.60" width="16.50" height="2.80" rx="0.93" fill="#0d0d0d" opacity="0.80"/>
</g>
<text x="214.84" y="201.40" font-size="6.8" textLength="8.32" lengthAdjust="spacingAndGlyphs" fill="#231f20" stroke="none">1.0</text>
<text x="233.18" y="201.40" font-size="6.8" textLength="11.65" lengthAdjust="spacingAndGlyphs" fill="#231f20" stroke="none">0.67</text>
<text x="253.38" y="201.40" font-size="6.8" textLength="11.65" lengthAdjust="spacingAndGlyphs" fill="#231f20" stroke="none">0.54</text>
<rect x="207.00" y="206.20" width="64.20" height="16.80" rx="0.8" fill="#dcdcdc" stroke="#303030" stroke-width="1.3"/>
<g filter="url(#bl)">
<rect x="210.75" y="213.40" width="16.50" height="2.40" rx="0.80" fill="#0d0d0d" opacity="0.70"/>
<rect x="230.75" y="213.40" width="16.50" height="2.40" rx="0.80" fill="#0d0d0d" opacity="1.00"/>
<rect x="250.95" y="213.40" width="16.50" height="2.40" rx="0.80" fill="#0d0d0d" opacity="1.00"/>
</g>
<rect x="207.00" y="227.00" width="64.20" height="16.80" rx="0.8" fill="#dcdcdc" stroke="#303030" stroke-width="1.3"/>
<g filter="url(#bl)">
<rect x="210.75" y="233.90" width="16.50" height="3.00" rx="1.00" fill="#0d0d0d" opacity="1.00"/>
<rect x="230.75" y="233.90" width="16.50" height="3.00" rx="1.00" fill="#0d0d0d" opacity="1.00"/>
<rect x="250.95" y="233.90" width="16.50" height="3.00" rx="1.00" fill="#0d0d0d" opacity="1.00"/>
</g>
<path d="M275.80 68.60 L281.40 66.00 L280.20 68.60 L281.40 71.20 Z" fill="#111"/>
<line x1="279.80" y1="68.60" x2="287.80" y2="68.60" stroke="#222" stroke-width="1.1"/>
<text x="291.60" y="71.00" font-size="6.9" textLength="21.05" lengthAdjust="spacingAndGlyphs" fill="#2a2a2a" stroke="none">RUNX1</text>
<path d="M275.80 90.40 L281.40 87.80 L280.20 90.40 L281.40 93.00 Z" fill="#111"/>
<line x1="279.80" y1="90.40" x2="287.80" y2="90.40" stroke="#222" stroke-width="1.1"/>
<text x="291.60" y="92.80" font-size="6.9" textLength="16.56" lengthAdjust="spacingAndGlyphs" fill="#2a2a2a" stroke="none">c-Myc</text>
<path d="M275.80 122.60 L281.40 120.00 L280.20 122.60 L281.40 125.20 Z" fill="#111"/>
<line x1="279.80" y1="122.60" x2="287.80" y2="122.60" stroke="#222" stroke-width="1.1"/>
<text x="291.60" y="125.00" font-size="6.9" textLength="16.90" lengthAdjust="spacingAndGlyphs" fill="#2a2a2a" stroke="none">c-Myb</text>
<path d="M275.80 155.20 L281.40 152.60 L280.20 155.20 L281.40 157.80 Z" fill="#111"/>
<line x1="279.80" y1="155.20" x2="287.80" y2="155.20" stroke="#222" stroke-width="1.1"/>
<text x="291.60" y="157.60" font-size="6.9" textLength="13.81" lengthAdjust="spacingAndGlyphs" fill="#2a2a2a" stroke="none">PU.1</text>
<path d="M275.80 185.00 L281.40 182.40 L280.20 185.00 L281.40 187.60 Z" fill="#111"/>
<line x1="279.80" y1="185.00" x2="287.80" y2="185.00" stroke="#222" stroke-width="1.1"/>
<text x="291.60" y="187.40" font-size="6.9" textLength="15.53" lengthAdjust="spacingAndGlyphs" fill="#2a2a2a" stroke="none">BCL2</text>
<path d="M275.80 214.60 L281.40 212.00 L280.20 214.60 L281.40 217.20 Z" fill="#111"/>
<line x1="279.80" y1="214.60" x2="287.80" y2="214.60" stroke="#222" stroke-width="1.1"/>
<text x="291.60" y="217.00" font-size="6.9" textLength="10.36" lengthAdjust="spacingAndGlyphs" fill="#2a2a2a" stroke="none">p27</text>
<path d="M275.80 235.40 L281.40 232.80 L280.20 235.40 L281.40 238.00 Z" fill="#111"/>
<line x1="279.80" y1="235.40" x2="287.80" y2="235.40" stroke="#222" stroke-width="1.1"/>
<text x="291.60" y="237.80" font-size="6.9" textLength="19.45" lengthAdjust="spacingAndGlyphs" fill="#2a2a2a" stroke="none">β-Actin</text>
<text x="224.75" y="274.30" font-size="6.8" textLength="28.50" lengthAdjust="spacingAndGlyphs" fill="#231f20" stroke="none">OCI-AML5</text>
<text x="223.25" y="282.40" font-size="6.8" textLength="31.50" lengthAdjust="spacingAndGlyphs" fill="#231f20" stroke="none">i-sh-RUNX1</text>
<line x1="209.00" y1="287.50" x2="268.80" y2="287.50" stroke="#231f20" stroke-width="1.0"/>
<text x="223.58" y="296.00" font-size="6.8" textLength="2.04" lengthAdjust="spacingAndGlyphs" fill="#231f20" stroke="none">-</text>
<text x="249.41" y="296.20" font-size="6.8" textLength="3.57" lengthAdjust="spacingAndGlyphs" fill="#231f20" stroke="none">+</text>
<text x="273.50" y="296.20" font-size="6.8" textLength="31.20" lengthAdjust="spacingAndGlyphs" fill="#231f20" stroke="none">Dox, 72 hrs</text>
<rect x="209.10" y="302.80" width="58.60" height="22.20" rx="0.8" fill="#dcdcdc" stroke="#303030" stroke-width="1.3"/>
<g filter="url(#bl)">
<rect x="213.70" y="307.00" width="21.00" height="14.00" rx="4.67" fill="#404040" opacity="0.78"/>
<rect x="240.90" y="307.00" width="21.00" height="14.00" rx="4.67" fill="#404040" opacity="0.25"/>
<rect x="213.70" y="307.60" width="21.00" height="2.40" rx="0.80" fill="#0d0d0d" opacity="0.60"/>
<rect x="240.90" y="307.60" width="21.00" height="2.40" rx="0.80" fill="#0d0d0d" opacity="0.15"/>
<rect x="213.70" y="310.70" width="21.00" height="2.60" rx="0.87" fill="#0d0d0d" opacity="0.70"/>
<rect x="240.90" y="310.70" width="21.00" height="2.60" rx="0.87" fill="#0d0d0d" opacity="0.20"/>
<rect x="213.70" y="314.10" width="21.00" height="2.60" rx="0.87" fill="#0d0d0d" opacity="0.70"/>
<rect x="240.90" y="314.10" width="21.00" height="2.60" rx="0.87" fill="#0d0d0d" opacity="0.18"/>
<rect x="213.70" y="317.40" width="21.00" height="2.40" rx="0.80" fill="#0d0d0d" opacity="0.60"/>
<rect x="240.90" y="317.40" width="21.00" height="2.40" rx="0.80" fill="#0d0d0d" opacity="0.12"/>
</g>
<rect x="209.10" y="328.80" width="58.60" height="22.00" rx="0.8" fill="#dcdcdc" stroke="#303030" stroke-width="1.3"/>
<g filter="url(#bl)">
<rect x="214.20" y="335.00" width="20.00" height="3.20" rx="1.07" fill="#0d0d0d" opacity="0.22"/>
<rect x="241.40" y="335.00" width="20.00" height="3.20" rx="1.07" fill="#0d0d0d" opacity="0.20"/>
<rect x="214.20" y="341.30" width="20.00" height="4.20" rx="1.40" fill="#0d0d0d" opacity="1.00"/>
<rect x="241.40" y="341.30" width="20.00" height="4.20" rx="1.40" fill="#0d0d0d" opacity="0.88"/>
</g>
<rect x="209.10" y="355.00" width="58.60" height="19.60" rx="0.8" fill="#dcdcdc" stroke="#303030" stroke-width="1.3"/>
<g filter="url(#bl)">
<rect x="214.20" y="362.90" width="20.00" height="3.60" rx="1.20" fill="#0d0d0d" opacity="1.00"/>
<rect x="241.40" y="362.90" width="20.00" height="3.60" rx="1.20" fill="#0d0d0d" opacity="0.95"/>
</g>
<rect x="209.10" y="379.00" width="58.60" height="22.80" rx="0.8" fill="#dcdcdc" stroke="#303030" stroke-width="1.3"/>
<g filter="url(#bl)">
<rect x="214.20" y="392.60" width="20.00" height="3.80" rx="1.27" fill="#0d0d0d" opacity="1.00"/>
<rect x="241.40" y="392.60" width="20.00" height="3.80" rx="1.27" fill="#0d0d0d" opacity="1.00"/>
</g>
<path d="M272.60 311.90 L278.20 309.30 L277.00 311.90 L278.20 314.50 Z" fill="#111"/>
<line x1="276.60" y1="311.90" x2="284.60" y2="311.90" stroke="#222" stroke-width="1.1"/>
<text x="287.00" y="314.30" font-size="6.9" textLength="21.05" lengthAdjust="spacingAndGlyphs" fill="#2a2a2a" stroke="none">RUNX1</text>
<path d="M272.60 343.50 L278.20 340.90 L277.00 343.50 L278.20 346.10 Z" fill="#111"/>
<line x1="276.60" y1="343.50" x2="284.60" y2="343.50" stroke="#222" stroke-width="1.1"/>
<text x="287.00" y="345.90" font-size="6.9" textLength="16.56" lengthAdjust="spacingAndGlyphs" fill="#2a2a2a" stroke="none">c-Myc</text>
<path d="M272.60 364.70 L278.20 362.10 L277.00 364.70 L278.20 367.30 Z" fill="#111"/>
<line x1="276.60" y1="364.70" x2="284.60" y2="364.70" stroke="#222" stroke-width="1.1"/>
<text x="287.00" y="367.10" font-size="6.9" textLength="13.81" lengthAdjust="spacingAndGlyphs" fill="#2a2a2a" stroke="none">PU.1</text>
<path d="M272.60 395.00 L278.20 392.40 L277.00 395.00 L278.20 397.60 Z" fill="#111"/>
<line x1="276.60" y1="395.00" x2="284.60" y2="395.00" stroke="#222" stroke-width="1.1"/>
<text x="287.00" y="397.40" font-size="6.9" textLength="19.45" lengthAdjust="spacingAndGlyphs" fill="#2a2a2a" stroke="none">β-Actin</text>
<line x1="42.50" y1="319.50" x2="42.50" y2="403.00" stroke="#231f20" stroke-width="1.0"/>
<line x1="38.90" y1="402.50" x2="42.50" y2="402.50" stroke="#231f20" stroke-width="1.0"/>
<text x="32.44" y="404.70" font-size="6.7" textLength="3.06" lengthAdjust="spacingAndGlyphs" fill="#231f20" stroke="none">0</text>
<line x1="38.90" y1="386.50" x2="42.50" y2="386.50" stroke="#231f20" stroke-width="1.0"/>
<text x="29.39" y="388.68" font-size="6.7" textLength="6.11" lengthAdjust="spacingAndGlyphs" fill="#231f20" stroke="none">10</text>
<line x1="38.90" y1="370.50" x2="42.50" y2="370.50" stroke="#231f20" stroke-width="1.0"/>
<text x="29.39" y="372.66" font-size="6.7" textLength="6.11" lengthAdjust="spacingAndGlyphs" fill="#231f20" stroke="none">20</text>
<line x1="38.90" y1="354.50" x2="42.50" y2="354.50" stroke="#231f20" stroke-width="1.0"/>
<text x="29.39" y="356.64" font-size="6.7" textLength="6.11" lengthAdjust="spacingAndGlyphs" fill="#231f20" stroke="none">30</text>
<line x1="38.90" y1="338.50" x2="42.50" y2="338.50" stroke="#231f20" stroke-width="1.0"/>
<text x="29.39" y="340.62" font-size="6.7" textLength="6.11" lengthAdjust="spacingAndGlyphs" fill="#231f20" stroke="none">40</text>
<line x1="38.90" y1="322.50" x2="42.50" y2="322.50" stroke="#231f20" stroke-width="1.0"/>
<text x="29.39" y="324.60" font-size="6.7" textLength="6.11" lengthAdjust="spacingAndGlyphs" fill="#231f20" stroke="none">50</text>
<line x1="42.00" y1="402.50" x2="149.70" y2="402.50" stroke="#231f20" stroke-width="1.0"/>
<text x="-11.40" y="361.30" font-size="8.7" textLength="68.80" lengthAdjust="spacingAndGlyphs" fill="#231f20" transform="rotate(-90 23.00 361.30)">% non-viable cells</text>
<rect x="48.6" y="313.1" width="7.6" height="3.8" fill="none" stroke="#b0303f" stroke-width="0.9"/>
<rect x="48.6" y="320.7" width="7.6" height="3.8" fill="none" stroke="#4a6696" stroke-width="0.9"/>
<text x="59.60" y="317.60" font-size="6.8" textLength="42.30" lengthAdjust="spacingAndGlyphs" fill="#231f20" stroke="none">mtRUNX1 AML</text>
<text x="59.60" y="325.00" font-size="6.8" textLength="42.30" lengthAdjust="spacingAndGlyphs" fill="#231f20" stroke="none">wtRUNX1 AML</text>
<rect x="48.55" y="372.00" width="7.60" height="12.30" fill="none" stroke="#b0303f" stroke-width="0.95"/>
<line x1="48.55" y1="376.20" x2="56.15" y2="376.20" stroke="#b0303f" stroke-width="0.95"/>
<rect x="63.55" y="351.30" width="8.30" height="15.20" fill="none" stroke="#b0303f" stroke-width="0.95"/>
<line x1="63.55" y1="358.40" x2="71.85" y2="358.40" stroke="#b0303f" stroke-width="0.95"/>
<rect x="78.55" y="358.90" width="8.80" height="8.10" fill="none" stroke="#b0303f" stroke-width="0.95"/>
<line x1="78.55" y1="361.90" x2="87.35" y2="361.90" stroke="#b0303f" stroke-width="0.95"/>
<rect x="104.45" y="377.40" width="7.80" height="8.70" fill="none" stroke="#4a6696" stroke-width="0.95"/>
<line x1="104.45" y1="381.30" x2="112.25" y2="381.30" stroke="#4a6696" stroke-width="0.95"/>
<rect x="135.15" y="372.00" width="7.90" height="15.00" fill="none" stroke="#4a6696" stroke-width="0.95"/>
<line x1="135.15" y1="377.80" x2="143.05" y2="377.80" stroke="#4a6696" stroke-width="0.95"/>
<line x1="119.40" y1="380.80" x2="128.40" y2="380.80" stroke="#4a6696" stroke-width="1.4"/>
<line x1="52.70" y1="402.40" x2="52.70" y2="405.00" stroke="#231f20" stroke-width="0.9"/>
<text x="40.07" y="413.80" font-size="6.8" textLength="15.23" lengthAdjust="spacingAndGlyphs" fill="#231f20" stroke="none" transform="rotate(-45 55.30 413.80)">sh NT</text>
<line x1="67.70" y1="402.40" x2="67.70" y2="405.00" stroke="#231f20" stroke-width="0.9"/>
<text x="38.56" y="413.80" font-size="6.8" textLength="31.74" lengthAdjust="spacingAndGlyphs" fill="#231f20" stroke="none" transform="rotate(-45 70.30 413.80)">RUNX1 sh 1</text>
<line x1="82.70" y1="402.40" x2="82.70" y2="405.00" stroke="#231f20" stroke-width="0.9"/>
<text x="53.56" y="413.80" font-size="6.8" textLength="31.74" lengthAdjust="spacingAndGlyphs" fill="#231f20" stroke="none" transform="rotate(-45 85.30 413.80)">RUNX1 sh 2</text>
<line x1="108.60" y1="402.40" x2="108.60" y2="405.00" stroke="#231f20" stroke-width="0.9"/>
<text x="95.97" y="413.80" font-size="6.8" textLength="15.23" lengthAdjust="spacingAndGlyphs" fill="#231f20" stroke="none" transform="rotate(-45 111.20 413.80)">sh NT</text>
<line x1="123.80" y1="402.40" x2="123.80" y2="405.00" stroke="#231f20" stroke-width="0.9"/>
<text x="94.66" y="413.80" font-size="6.8" textLength="31.74" lengthAdjust="spacingAndGlyphs" fill="#231f20" stroke="none" transform="rotate(-45 126.40 413.80)">RUNX1 sh 1</text>
<line x1="139.30" y1="402.40" x2="139.30" y2="405.00" stroke="#231f20" stroke-width="0.9"/>
<text x="110.16" y="413.80" font-size="6.8" textLength="31.74" lengthAdjust="spacingAndGlyphs" fill="#231f20" stroke="none" transform="rotate(-45 141.90 413.80)">RUNX1 sh 2</text>
<path d="M68.9 342.7 V339.7 H125.4 V342.7 M97.3 339.7 V337.4" stroke="#231f20" stroke-width="0.9" fill="none"/>
<text x="93.56" y="337.20" font-size="6.4" textLength="7.47" lengthAdjust="spacingAndGlyphs" fill="#231f20" stroke="none">***</text>
<path d="M82.7 355.4 V352.6 H139.3 V355.4 M111.1 352.6 V350.3" stroke="#231f20" stroke-width="0.9" fill="none"/>
<text x="109.85" y="350.00" font-size="6.4" textLength="2.49" lengthAdjust="spacingAndGlyphs" fill="#231f20" stroke="none">*</text>
<text x="50.20" y="450.50" font-size="8.85" textLength="91.00" lengthAdjust="spacingAndGlyphs" fill="#231f20">72 hrs post transduction</text>
<line x1="310.50" y1="512.00" x2="310.50" y2="629.00" stroke="#231f20" stroke-width="1.0"/>
<line x1="310.00" y1="628.50" x2="445.80" y2="628.50" stroke="#231f20" stroke-width="1.0"/>
<line x1="306.90" y1="628.50" x2="310.50" y2="628.50" stroke="#231f20" stroke-width="1.0"/>
<text x="300.84" y="630.40" font-size="6.7" textLength="3.06" lengthAdjust="spacingAndGlyphs" fill="#231f20" stroke="none">0</text>
<line x1="306.90" y1="601.50" x2="310.50" y2="601.50" stroke="#231f20" stroke-width="1.0"/>
<text x="297.79" y="603.88" font-size="6.7" textLength="6.11" lengthAdjust="spacingAndGlyphs" fill="#231f20" stroke="none">25</text>
<line x1="306.90" y1="575.50" x2="310.50" y2="575.50" stroke="#231f20" stroke-width="1.0"/>
<text x="297.79" y="577.36" font-size="6.7" textLength="6.11" lengthAdjust="spacingAndGlyphs" fill="#231f20" stroke="none">50</text>
<line x1="306.90" y1="548.50" x2="310.50" y2="548.50" stroke="#231f20" stroke-width="1.0"/>
<text x="297.79" y="550.84" font-size="6.7" textLength="6.11" lengthAdjust="spacingAndGlyphs" fill="#231f20" stroke="none">75</text>
<line x1="306.90" y1="522.50" x2="310.50" y2="522.50" stroke="#231f20" stroke-width="1.0"/>
<text x="294.73" y="524.32" font-size="6.7" textLength="9.17" lengthAdjust="spacingAndGlyphs" fill="#231f20" stroke="none">100</text>
<line x1="310.30" y1="628.10" x2="310.30" y2="630.90" stroke="#231f20" stroke-width="0.9"/>
<text x="308.57" y="641.40" font-size="6.9" textLength="3.45" lengthAdjust="spacingAndGlyphs" fill="#231f20" stroke="none">0</text>
<line x1="336.85" y1="628.10" x2="336.85" y2="630.90" stroke="#231f20" stroke-width="0.9"/>
<text x="333.40" y="641.40" font-size="6.9" textLength="6.91" lengthAdjust="spacingAndGlyphs" fill="#231f20" stroke="none">50</text>
<line x1="363.40" y1="628.10" x2="363.40" y2="630.90" stroke="#231f20" stroke-width="0.9"/>
<text x="358.22" y="641.40" font-size="6.9" textLength="10.36" lengthAdjust="spacingAndGlyphs" fill="#231f20" stroke="none">100</text>
<line x1="389.95" y1="628.10" x2="389.95" y2="630.90" stroke="#231f20" stroke-width="0.9"/>
<text x="384.77" y="641.40" font-size="6.9" textLength="10.36" lengthAdjust="spacingAndGlyphs" fill="#231f20" stroke="none">150</text>
<line x1="416.50" y1="628.10" x2="416.50" y2="630.90" stroke="#231f20" stroke-width="0.9"/>
<text x="411.32" y="641.40" font-size="6.9" textLength="10.36" lengthAdjust="spacingAndGlyphs" fill="#231f20" stroke="none">200</text>
<line x1="443.05" y1="628.10" x2="443.05" y2="630.90" stroke="#231f20" stroke-width="0.9"/>
<text x="437.87" y="641.40" font-size="6.9" textLength="10.36" lengthAdjust="spacingAndGlyphs" fill="#231f20" stroke="none">250</text>
<text x="269.85" y="570.00" font-size="8.7" textLength="35.50" lengthAdjust="spacingAndGlyphs" fill="#231f20" transform="rotate(-90 287.60 570.00)">% survival</text>
<text x="335.00" y="652.60" font-size="8.85" textLength="86.00" lengthAdjust="spacingAndGlyphs" fill="#231f20">Days post engraftment</text>
<text x="307.00" y="490.00" font-size="8.85" textLength="142.00" lengthAdjust="spacingAndGlyphs" fill="#231f20">OCI-AML5/Luc i-sh-RUNX1 xenografts</text>
<text x="375.80" y="611.60" font-size="6.8" textLength="97.70" lengthAdjust="spacingAndGlyphs" fill="#231f20" stroke="none">No DOX vs 10 mg/kg DOX p=0.001</text>
<text x="375.80" y="622.80" font-size="6.8" textLength="94.20" lengthAdjust="spacingAndGlyphs" fill="#231f20" stroke="none">No DOX vs ex vivo DOX p=0.0004</text>
<path d="M310.3 522.0 H353.6 V540.4 H377.0 V558.9 H398.9 V576.2 H401.2 V594.2 H442.8" stroke="#3d5a8a" stroke-width="1.3" fill="none"/>
<path d="M353.60 537.50 L356.30 542.30 L350.90 542.30 Z" fill="#3d5a8a"/>
<path d="M377.00 556.00 L379.70 560.80 L374.30 560.80 Z" fill="#3d5a8a"/>
<path d="M398.90 573.30 L401.60 578.10 L396.20 578.10 Z" fill="#3d5a8a"/>
<path d="M401.20 591.30 L403.90 596.10 L398.50 596.10 Z" fill="#3d5a8a"/>
<path d="M442.80 591.30 L445.50 596.10 L440.10 596.10 Z" fill="#3d5a8a"/>
<path d="M310.3 522.0 H358.5 V543.4 H361.2 V564.6 H364.2 V585.9 H371.2 V628.1" stroke="#72b04a" stroke-width="1.3" fill="none"/>
<rect x="356.30" y="541.20" width="4.40" height="4.40" fill="#72b04a"/>
<rect x="359.00" y="562.40" width="4.40" height="4.40" fill="#72b04a"/>
<rect x="362.00" y="583.70" width="4.40" height="4.40" fill="#72b04a"/>
<rect x="369.00" y="625.90" width="4.40" height="4.40" fill="#72b04a"/>
<path d="M310.3 522.0 H317.4 V537.6 H319.2 V552.6 H342.3 V598.1 H348.6 V628.1" stroke="#b0303f" stroke-width="1.3" fill="none"/>
<circle cx="317.40" cy="537.60" r="2.3" fill="#b0303f"/>
<circle cx="319.20" cy="552.60" r="2.3" fill="#b0303f"/>
<circle cx="342.30" cy="598.10" r="2.3" fill="#b0303f"/>
<circle cx="348.60" cy="613.60" r="2.3" fill="#b0303f"/>
<circle cx="348.90" cy="628.10" r="2.3" fill="#b0303f"/>
<line x1="372.80" y1="498.90" x2="384.30" y2="498.90" stroke="#b0303f" stroke-width="1.3"/>
<circle cx="378.3" cy="498.9" r="2.3" fill="#b0303f"/>
<text x="387.30" y="501.20" font-size="6.8" textLength="78.50" lengthAdjust="spacingAndGlyphs" fill="#231f20" stroke="none">i-sh-RUNX1 No DOX Control</text>
<line x1="372.80" y1="509.50" x2="384.30" y2="509.50" stroke="#72b04a" stroke-width="1.3"/>
<rect x="376.10" y="507.30" width="4.40" height="4.40" fill="#72b04a"/>
<text x="387.30" y="511.80" font-size="6.8" textLength="80.70" lengthAdjust="spacingAndGlyphs" fill="#231f20" stroke="none">i-sh-RUNX1 + 10 mg/kg DOX</text>
<line x1="372.80" y1="521.10" x2="384.30" y2="521.10" stroke="#3d5a8a" stroke-width="1.3"/>
<path d="M378.3 518.20 L381.0 523.00 L375.6 523.00 Z" fill="#3d5a8a"/>
<text x="387.30" y="523.40" font-size="6.8" textLength="77.30" lengthAdjust="spacingAndGlyphs" fill="#231f20" stroke="none">i-sh-RUNX1 + ex vivo DOX +</text>
<text x="387.30" y="531.30" font-size="6.8" textLength="41.60" lengthAdjust="spacingAndGlyphs" fill="#231f20" stroke="none">10 mg/kg DOX</text>
<defs>
<radialGradient id="mg" cx="0.5" cy="0.45" r="0.6" fx="0.5" fy="0.28">
<stop offset="0" stop-color="#f6f6f6"/><stop offset="0.45" stop-color="#dedede"/><stop offset="0.8" stop-color="#bababa"/><stop offset="1" stop-color="#858585"/></radialGradient>
<linearGradient id="cb" x1="0" y1="0" x2="0" y2="1">
<stop offset="0" stop-color="#e02020"/><stop offset="0.18" stop-color="#f08020"/><stop offset="0.35" stop-color="#e8e030"/><stop offset="0.52" stop-color="#60d050"/><stop offset="0.68" stop-color="#30c0e0"/><stop offset="0.85" stop-color="#3050d0"/><stop offset="1" stop-color="#502890"/></linearGradient>
<pattern id="stripes" width="2.3" height="10" patternUnits="userSpaceOnUse"><rect width="2.3" height="10" fill="#2c2c2c"/><rect width="0.9" height="10" fill="#3a3a3a"/></pattern>
<filter id="hb" x="-30%" y="-30%" width="160%" height="160%"><feGaussianBlur stdDeviation="0.45"/></filter>
<filter id="mb" x="-20%" y="-20%" width="140%" height="140%"><feGaussianBlur stdDeviation="0.35"/></filter>
<path id="mouse" d="M8 0.8 C10.2 0.8 11.4 2.6 11.8 5 C13.4 4.6 15.2 5.4 15.3 6.6 C15.3 7.6 14.3 8 13.6 8.2 C14.8 11 15.6 15 15.8 20 C16 26 15.8 29 14.2 30.8 C12 32 4 32 1.8 30.8 C0.2 29 0 26 0.2 20 C0.4 15 1.2 11 2.4 8.2 C1.7 8 0.7 7.6 0.7 6.6 C0.8 5.4 2.6 4.6 4.2 5 C4.6 2.6 5.8 0.8 8 0.8 Z"/>
<path id="legs" d="M3 29.5 L0.6 35.6 M5.2 31 L4.6 35.8 M10.8 31 L11.4 35.8 M13 29.5 L15.4 35.6" stroke="#8a8a8a" stroke-width="0.9" fill="none"/>
<path id="mbody" d="M8 0.5 C10 0.5 11 2 11.2 4 C11.4 6 12 7.5 13.5 9.5 C15 11.5 15.8 15 15.9 20 C16 26 15.8 30 14.5 32.5 C12 34.5 4 34.5 1.5 32.5 C0.2 30 0 26 0.1 20 C0.2 15 1 11.5 2.5 9.5 C4 7.5 4.6 6 4.8 4 C5 2 6 0.5 8 0.5 Z"/>
<filter id="h00t" x="-20%" y="-20%" width="140%" height="140%"><feFlood flood-color="#3a2a9e" result="f0"/><feComposite in="f0" in2="SourceAlpha" operator="in" result="l0"/><feMerge><feMergeNode in="l0"/></feMerge><feGaussianBlur stdDeviation="0.35"/></filter>
<filter id="h01t" x="-20%" y="-20%" width="140%" height="140%"><feFlood flood-color="#3a2a9e" result="f0"/><feComposite in="f0" in2="SourceAlpha" operator="in" result="l0"/><feMorphology in="SourceAlpha" operator="erode" radius="0.39" result="e1"/><feFlood flood-color="#2f5ae0" result="f1"/><feComposite in="f1" in2="e1" operator="in" result="l1"/><feMerge><feMergeNode in="l0"/><feMergeNode in="l1"/></feMerge><feGaussianBlur stdDeviation="0.35"/></filter>
<filter id="h02t" x="-20%" y="-20%" width="140%" height="140%"><feFlood flood-color="#3a2a9e" result="f0"/><feComposite in="f0" in2="SourceAlpha" operator="in" result="l0"/><feMorphology in="SourceAlpha" operator="erode" radius="0.39" result="e1"/><feFlood flood-color="#2f5ae0" result="f1"/><feComposite in="f1" in2="e1" operator="in" result="l1"/><feMorphology in="SourceAlpha" operator="erode" radius="0.73" result="e2"/><feFlood flood-color="#2cc2e4" result="f2"/><feComposite in="f2" in2="e2" operator="in" result="l2"/><feMerge><feMergeNode in="l0"/><feMergeNode in="l1"/><feMergeNode in="l2"/></feMerge><feGaussianBlur stdDeviation="0.35"/></filter>
<filter id="h03t" x="-20%" y="-20%" width="140%" height="140%"><feFlood flood-color="#3a2a9e" result="f0"/><feComposite in="f0" in2="SourceAlpha" operator="in" result="l0"/><feMorphology in="SourceAlpha" operator="erode" radius="0.39" result="e1"/><feFlood flood-color="#2f5ae0" result="f1"/><feComposite in="f1" in2="e1" operator="in" result="l1"/><feMorphology in="SourceAlpha" operator="erode" radius="0.73" result="e2"/><feFlood flood-color="#2cc2e4" result="f2"/><feComposite in="f2" in2="e2" operator="in" result="l2"/><feMorphology in="SourceAlpha" operator="erode" radius="1.05" result="e3"/><feFlood flood-color="#6ad044" result="f3"/><feComposite in="f3" in2="e3" operator="in" result="l3"/><feMerge><feMergeNode in="l0"/><feMergeNode in="l1"/><feMergeNode in="l2"/><feMergeNode in="l3"/></feMerge><feGaussianBlur stdDeviation="0.35"/></filter>
<filter id="h04t" x="-20%" y="-20%" width="140%" height="140%"><feFlood flood-color="#3a2a9e" result="f0"/><feComposite in="f0" in2="SourceAlpha" operator="in" result="l0"/><feMorphology in="SourceAlpha" operator="erode" radius="0.39" result="e1"/><feFlood flood-color="#2f5ae0" result="f1"/><feComposite in="f1" in2="e1" operator="in" result="l1"/><feMorphology in="SourceAlpha" operator="erode" radius="0.73" result="e2"/><feFlood flood-color="#2cc2e4" result="f2"/><feComposite in="f2" in2="e2" operator="in" result="l2"/><feMorphology in="SourceAlpha" operator="erode" radius="1.05" result="e3"/><feFlood flood-color="#6ad044" result="f3"/><feComposite in="f3" in2="e3" operator="in" result="l3"/><feMorphology in="SourceAlpha" operator="erode" radius="1.36" result="e4"/><feFlood flood-color="#f0e22c" result="f4"/><feComposite in="f4" in2="e4" operator="in" result="l4"/><feMerge><feMergeNode in="l0"/><feMergeNode in="l1"/><feMergeNode in="l2"/><feMergeNode in="l3"/><feMergeNode in="l4"/></feMerge><feGaussianBlur stdDeviation="0.35"/></filter>
<filter id="h05t" x="-20%" y="-20%" width="140%" height="140%"><feFlood flood-color="#3a2a9e" result="f0"/><feComposite in="f0" in2="SourceAlpha" operator="in" result="l0"/><feMorphology in="SourceAlpha" operator="erode" radius="0.39" result="e1"/><feFlood flood-color="#2f5ae0" result="f1"/><feComposite in="f1" in2="e1" operator="in" result="l1"/><feMorphology in="SourceAlpha" operator="erode" radius="0.73" result="e2"/><feFlood flood-color="#2cc2e4" result="f2"/><feComposite in="f2" in2="e2" operator="in" result="l2"/><feMorphology in="SourceAlpha" operator="erode" radius="1.05" result="e3"/><feFlood flood-color="#6ad044" result="f3"/><feComposite in="f3" in2="e3" operator="in" result="l3"/><feMorphology in="SourceAlpha" operator="erode" radius="1.36" result="e4"/><feFlood flood-color="#f0e22c" result="f4"/><feComposite in="f4" in2="e4" operator="in" result="l4"/><feMorphology in="SourceAlpha" operator="erode" radius="1.68" result="e5"/><feFlood flood-color="#e6281c" result="f5"/><feComposite in="f5" in2="e5" operator="in" result="l5"/><feMerge><feMergeNode in="l0"/><feMergeNode in="l1"/><feMergeNode in="l2"/><feMergeNode in="l3"/><feMergeNode in="l4"/><feMergeNode in="l5"/></feMerge><feGaussianBlur stdDeviation="0.35"/></filter>
<filter id="h11t" x="-20%" y="-20%" width="140%" height="140%"><feFlood flood-color="#2f5ae0" result="f0"/><feComposite in="f0" in2="SourceAlpha" operator="in" result="l0"/><feMerge><feMergeNode in="l0"/></feMerge><feGaussianBlur stdDeviation="0.35"/></filter>
<filter id="h12t" x="-20%" y="-20%" width="140%" height="140%"><feFlood flood-color="#2f5ae0" result="f0"/><feComposite in="f0" in2="SourceAlpha" operator="in" result="l0"/><feMorphology in="SourceAlpha" operator="erode" radius="0.39" result="e1"/><feFlood flood-color="#2cc2e4" result="f1"/><feComposite in="f1" in2="e1" operator="in" result="l1"/><feMerge><feMergeNode in="l0"/><feMergeNode in="l1"/></feMerge><feGaussianBlur stdDeviation="0.35"/></filter>
<filter id="h13t" x="-20%" y="-20%" width="140%" height="140%"><feFlood flood-color="#2f5ae0" result="f0"/><feComposite in="f0" in2="SourceAlpha" operator="in" result="l0"/><feMorphology in="SourceAlpha" operator="erode" radius="0.39" result="e1"/><feFlood flood-color="#2cc2e4" result="f1"/><feComposite in="f1" in2="e1" operator="in" result="l1"/><feMorphology in="SourceAlpha" operator="erode" radius="0.73" result="e2"/><feFlood flood-color="#6ad044" result="f2"/><feComposite in="f2" in2="e2" operator="in" result="l2"/><feMerge><feMergeNode in="l0"/><feMergeNode in="l1"/><feMergeNode in="l2"/></feMerge><feGaussianBlur stdDeviation="0.35"/></filter>
<filter id="h14t" x="-20%" y="-20%" width="140%" height="140%"><feFlood flood-color="#2f5ae0" result="f0"/><feComposite in="f0" in2="SourceAlpha" operator="in" result="l0"/><feMorphology in="SourceAlpha" operator="erode" radius="0.39" result="e1"/><feFlood flood-color="#2cc2e4" result="f1"/><feComposite in="f1" in2="e1" operator="in" result="l1"/><feMorphology in="SourceAlpha" operator="erode" radius="0.73" result="e2"/><feFlood flood-color="#6ad044" result="f2"/><feComposite in="f2" in2="e2" operator="in" result="l2"/><feMorphology in="SourceAlpha" operator="erode" radius="1.05" result="e3"/><feFlood flood-color="#f0e22c" result="f3"/><feComposite in="f3" in2="e3" operator="in" result="l3"/><feMerge><feMergeNode in="l0"/><feMergeNode in="l1"/><feMergeNode in="l2"/><feMergeNode in="l3"/></feMerge><feGaussianBlur stdDeviation="0.35"/></filter>
<filter id="h15t" x="-20%" y="-20%" width="140%" height="140%"><feFlood flood-color="#2f5ae0" result="f0"/><feComposite in="f0" in2="SourceAlpha" operator="in" result="l0"/><feMorphology in="SourceAlpha" operator="erode" radius="0.39" result="e1"/><feFlood flood-color="#2cc2e4" result="f1"/><feComposite in="f1" in2="e1" operator="in" result="l1"/><feMorphology in="SourceAlpha" operator="erode" radius="0.73" result="e2"/><feFlood flood-color="#6ad044" result="f2"/><feComposite in="f2" in2="e2" operator="in" result="l2"/><feMorphology in="SourceAlpha" operator="erode" radius="1.05" result="e3"/><feFlood flood-color="#f0e22c" result="f3"/><feComposite in="f3" in2="e3" operator="in" result="l3"/><feMorphology in="SourceAlpha" operator="erode" radius="1.36" result="e4"/><feFlood flood-color="#e6281c" result="f4"/><feComposite in="f4" in2="e4" operator="in" result="l4"/><feMerge><feMergeNode in="l0"/><feMergeNode in="l1"/><feMergeNode in="l2"/><feMergeNode in="l3"/><feMergeNode in="l4"/></feMerge><feGaussianBlur stdDeviation="0.35"/></filter>
<filter id="h22t" x="-20%" y="-20%" width="140%" height="140%"><feFlood flood-color="#2cc2e4" result="f0"/><feComposite in="f0" in2="SourceAlpha" operator="in" result="l0"/><feMerge><feMergeNode in="l0"/></feMerge><feGaussianBlur stdDeviation="0.35"/></filter>
<filter id="h23t" x="-20%" y="-20%" width="140%" height="140%"><feFlood flood-color="#2cc2e4" result="f0"/><feComposite in="f0" in2="SourceAlpha" operator="in" result="l0"/><feMorphology in="SourceAlpha" operator="erode" radius="0.39" result="e1"/><feFlood flood-color="#6ad044" result="f1"/><feComposite in="f1" in2="e1" operator="in" result="l1"/><feMerge><feMergeNode in="l0"/><feMergeNode in="l1"/></feMerge><feGaussianBlur stdDeviation="0.35"/></filter>
<filter id="h24t" x="-20%" y="-20%" width="140%" height="140%"><feFlood flood-color="#2cc2e4" result="f0"/><feComposite in="f0" in2="SourceAlpha" operator="in" result="l0"/><feMorphology in="SourceAlpha" operator="erode" radius="0.39" result="e1"/><feFlood flood-color="#6ad044" result="f1"/><feComposite in="f1" in2="e1" operator="in" result="l1"/><feMorphology in="SourceAlpha" operator="erode" radius="0.73" result="e2"/><feFlood flood-color="#f0e22c" result="f2"/><feComposite in="f2" in2="e2" operator="in" result="l2"/><feMerge><feMergeNode in="l0"/><feMergeNode in="l1"/><feMergeNode in="l2"/></feMerge><feGaussianBlur stdDeviation="0.35"/></filter>
<filter id="h25t" x="-20%" y="-20%" width="140%" height="140%"><feFlood flood-color="#2cc2e4" result="f0"/><feComposite in="f0" in2="SourceAlpha" operator="in" result="l0"/><feMorphology in="SourceAlpha" operator="erode" radius="0.39" result="e1"/><feFlood flood-color="#6ad044" result="f1"/><feComposite in="f1" in2="e1" operator="in" result="l1"/><feMorphology in="SourceAlpha" operator="erode" radius="0.73" result="e2"/><feFlood flood-color="#f0e22c" result="f2"/><feComposite in="f2" in2="e2" operator="in" result="l2"/><feMorphology in="SourceAlpha" operator="erode" radius="1.05" result="e3"/><feFlood flood-color="#e6281c" result="f3"/><feComposite in="f3" in2="e3" operator="in" result="l3"/><feMerge><feMergeNode in="l0"/><feMergeNode in="l1"/><feMergeNode in="l2"/><feMergeNode in="l3"/></feMerge><feGaussianBlur stdDeviation="0.35"/></filter>
<filter id="h33t" x="-20%" y="-20%" width="140%" height="140%"><feFlood flood-color="#6ad044" result="f0"/><feComposite in="f0" in2="SourceAlpha" operator="in" result="l0"/><feMerge><feMergeNode in="l0"/></feMerge><feGaussianBlur stdDeviation="0.35"/></filter>
<filter id="h34t" x="-20%" y="-20%" width="140%" height="140%"><feFlood flood-color="#6ad044" result="f0"/><feComposite in="f0" in2="SourceAlpha" operator="in" result="l0"/><feMorphology in="SourceAlpha" operator="erode" radius="0.39" result="e1"/><feFlood flood-color="#f0e22c" result="f1"/><feComposite in="f1" in2="e1" operator="in" result="l1"/><feMerge><feMergeNode in="l0"/><feMergeNode in="l1"/></feMerge><feGaussianBlur stdDeviation="0.35"/></filter>
<filter id="h35t" x="-20%" y="-20%" width="140%" height="140%"><feFlood flood-color="#6ad044" result="f0"/><feComposite in="f0" in2="SourceAlpha" operator="in" result="l0"/><feMorphology in="SourceAlpha" operator="erode" radius="0.39" result="e1"/><feFlood flood-color="#f0e22c" result="f1"/><feComposite in="f1" in2="e1" operator="in" result="l1"/><feMorphology in="SourceAlpha" operator="erode" radius="0.73" result="e2"/><feFlood flood-color="#e6281c" result="f2"/><feComposite in="f2" in2="e2" operator="in" result="l2"/><feMerge><feMergeNode in="l0"/><feMergeNode in="l1"/><feMergeNode in="l2"/></feMerge><feGaussianBlur stdDeviation="0.35"/></filter>
<filter id="h44t" x="-20%" y="-20%" width="140%" height="140%"><feFlood flood-color="#f0e22c" result="f0"/><feComposite in="f0" in2="SourceAlpha" operator="in" result="l0"/><feMerge><feMergeNode in="l0"/></feMerge><feGaussianBlur stdDeviation="0.35"/></filter>
<filter id="h45t" x="-20%" y="-20%" width="140%" height="140%"><feFlood flood-color="#f0e22c" result="f0"/><feComposite in="f0" in2="SourceAlpha" operator="in" result="l0"/><feMorphology in="SourceAlpha" operator="erode" radius="0.39" result="e1"/><feFlood flood-color="#e6281c" result="f1"/><feComposite in="f1" in2="e1" operator="in" result="l1"/><feMerge><feMergeNode in="l0"/><feMergeNode in="l1"/></feMerge><feGaussianBlur stdDeviation="0.35"/></filter>
<filter id="h55t" x="-20%" y="-20%" width="140%" height="140%"><feFlood flood-color="#e6281c" result="f0"/><feComposite in="f0" in2="SourceAlpha" operator="in" result="l0"/><feMerge><feMergeNode in="l0"/></feMerge><feGaussianBlur stdDeviation="0.35"/></filter>
<filter id="h00a" x="-20%" y="-20%" width="140%" height="140%"><feFlood flood-color="#3a2a9e" result="f0"/><feComposite in="f0" in2="SourceAlpha" operator="in" result="l0"/><feMerge><feMergeNode in="l0"/></feMerge><feGaussianBlur stdDeviation="0.35"/></filter>
<filter id="h01a" x="-20%" y="-20%" width="140%" height="140%"><feFlood flood-color="#3a2a9e" result="f0"/><feComposite in="f0" in2="SourceAlpha" operator="in" result="l0"/><feMorphology in="SourceAlpha" operator="erode" radius="0.55" result="e1"/><feFlood flood-color="#2f5ae0" result="f1"/><feComposite in="f1" in2="e1" operator="in" result="l1"/><feMerge><feMergeNode in="l0"/><feMergeNode in="l1"/></feMerge><feGaussianBlur stdDeviation="0.35"/></filter>
<filter id="h02a" x="-20%" y="-20%" width="140%" height="140%"><feFlood flood-color="#3a2a9e" result="f0"/><feComposite in="f0" in2="SourceAlpha" operator="in" result="l0"/><feMorphology in="SourceAlpha" operator="erode" radius="0.55" result="e1"/><feFlood flood-color="#2f5ae0" result="f1"/><feComposite in="f1" in2="e1" operator="in" result="l1"/><feMorphology in="SourceAlpha" operator="erode" radius="1.05" result="e2"/><feFlood flood-color="#2cc2e4" result="f2"/><feComposite in="f2" in2="e2" operator="in" result="l2"/><feMerge><feMergeNode in="l0"/><feMergeNode in="l1"/><feMergeNode in="l2"/></feMerge><feGaussianBlur stdDeviation="0.35"/></filter>
<filter id="h03a" x="-20%" y="-20%" width="140%" height="140%"><feFlood flood-color="#3a2a9e" result="f0"/><feComposite in="f0" in2="SourceAlpha" operator="in" result="l0"/><feMorphology in="SourceAlpha" operator="erode" radius="0.55" result="e1"/><feFlood flood-color="#2f5ae0" result="f1"/><feComposite in="f1" in2="e1" operator="in" result="l1"/><feMorphology in="SourceAlpha" operator="erode" radius="1.05" result="e2"/><feFlood flood-color="#2cc2e4" result="f2"/><feComposite in="f2" in2="e2" operator="in" result="l2"/><feMorphology in="SourceAlpha" operator="erode" radius="1.50" result="e3"/><feFlood flood-color="#6ad044" result="f3"/><feComposite in="f3" in2="e3" operator="in" result="l3"/><feMerge><feMergeNode in="l0"/><feMergeNode in="l1"/><feMergeNode in="l2"/><feMergeNode in="l3"/></feMerge><feGaussianBlur stdDeviation="0.35"/></filter>
<filter id="h04a" x="-20%" y="-20%" width="140%" height="140%"><feFlood flood-color="#3a2a9e" result="f0"/><feComposite in="f0" in2="SourceAlpha" operator="in" result="l0"/><feMorphology in="SourceAlpha" operator="erode" radius="0.55" result="e1"/><feFlood flood-color="#2f5ae0" result="f1"/><feComposite in="f1" in2="e1" operator="in" result="l1"/><feMorphology in="SourceAlpha" operator="erode" radius="1.05" result="e2"/><feFlood flood-color="#2cc2e4" result="f2"/><feComposite in="f2" in2="e2" operator="in" result="l2"/><feMorphology in="SourceAlpha" operator="erode" radius="1.50" result="e3"/><feFlood flood-color="#6ad044" result="f3"/><feComposite in="f3" in2="e3" operator="in" result="l3"/><feMorphology in="SourceAlpha" operator="erode" radius="1.95" result="e4"/><feFlood flood-color="#f0e22c" result="f4"/><feComposite in="f4" in2="e4" operator="in" result="l4"/><feMerge><feMergeNode in="l0"/><feMergeNode in="l1"/><feMergeNode in="l2"/><feMergeNode in="l3"/><feMergeNode in="l4"/></feMerge><feGaussianBlur stdDeviation="0.35"/></filter>
<filter id="h05a" x="-20%" y="-20%" width="140%" height="140%"><feFlood flood-color="#3a2a9e" result="f0"/><feComposite in="f0" in2="SourceAlpha" operator="in" result="l0"/><feMorphology in="SourceAlpha" operator="erode" radius="0.55" result="e1"/><feFlood flood-color="#2f5ae0" result="f1"/><feComposite in="f1" in2="e1" operator="in" result="l1"/><feMorphology in="SourceAlpha" operator="erode" radius="1.05" result="e2"/><feFlood flood-color="#2cc2e4" result="f2"/><feComposite in="f2" in2="e2" operator="in" result="l2"/><feMorphology in="SourceAlpha" operator="erode" radius="1.50" result="e3"/><feFlood flood-color="#6ad044" result="f3"/><feComposite in="f3" in2="e3" operator="in" result="l3"/><feMorphology in="SourceAlpha" operator="erode" radius="1.95" result="e4"/><feFlood flood-color="#f0e22c" result="f4"/><feComposite in="f4" in2="e4" operator="in" result="l4"/><feMorphology in="SourceAlpha" operator="erode" radius="2.40" result="e5"/><feFlood flood-color="#e6281c" result="f5"/><feComposite in="f5" in2="e5" operator="in" result="l5"/><feMerge><feMergeNode in="l0"/><feMergeNode in="l1"/><feMergeNode in="l2"/><feMergeNode in="l3"/><feMergeNode in="l4"/><feMergeNode in="l5"/></feMerge><feGaussianBlur stdDeviation="0.35"/></filter>
<filter id="h11a" x="-20%" y="-20%" width="140%" height="140%"><feFlood flood-color="#2f5ae0" result="f0"/><feComposite in="f0" in2="SourceAlpha" operator="in" result="l0"/><feMerge><feMergeNode in="l0"/></feMerge><feGaussianBlur stdDeviation="0.35"/></filter>
<filter id="h12a" x="-20%" y="-20%" width="140%" height="140%"><feFlood flood-color="#2f5ae0" result="f0"/><feComposite in="f0" in2="SourceAlpha" operator="in" result="l0"/><feMorphology in="SourceAlpha" operator="erode" radius="0.55" result="e1"/><feFlood flood-color="#2cc2e4" result="f1"/><feComposite in="f1" in2="e1" operator="in" result="l1"/><feMerge><feMergeNode in="l0"/><feMergeNode in="l1"/></feMerge><feGaussianBlur stdDeviation="0.35"/></filter>
<filter id="h13a" x="-20%" y="-20%" width="140%" height="140%"><feFlood flood-color="#2f5ae0" result="f0"/><feComposite in="f0" in2="SourceAlpha" operator="in" result="l0"/><feMorphology in="SourceAlpha" operator="erode" radius="0.55" result="e1"/><feFlood flood-color="#2cc2e4" result="f1"/><feComposite in="f1" in2="e1" operator="in" result="l1"/><feMorphology in="SourceAlpha" operator="erode" radius="1.05" result="e2"/><feFlood flood-color="#6ad044" result="f2"/><feComposite in="f2" in2="e2" operator="in" result="l2"/><feMerge><feMergeNode in="l0"/><feMergeNode in="l1"/><feMergeNode in="l2"/></feMerge><feGaussianBlur stdDeviation="0.35"/></filter>
<filter id="h14a" x="-20%" y="-20%" width="140%" height="140%"><feFlood flood-color="#2f5ae0" result="f0"/><feComposite in="f0" in2="SourceAlpha" operator="in" result="l0"/><feMorphology in="SourceAlpha" operator="erode" radius="0.55" result="e1"/><feFlood flood-color="#2cc2e4" result="f1"/><feComposite in="f1" in2="e1" operator="in" result="l1"/><feMorphology in="SourceAlpha" operator="erode" radius="1.05" result="e2"/><feFlood flood-color="#6ad044" result="f2"/><feComposite in="f2" in2="e2" operator="in" result="l2"/><feMorphology in="SourceAlpha" operator="erode" radius="1.50" result="e3"/><feFlood flood-color="#f0e22c" result="f3"/><feComposite in="f3" in2="e3" operator="in" result="l3"/><feMerge><feMergeNode in="l0"/><feMergeNode in="l1"/><feMergeNode in="l2"/><feMergeNode in="l3"/></feMerge><feGaussianBlur stdDeviation="0.35"/></filter>
<filter id="h15a" x="-20%" y="-20%" width="140%" height="140%"><feFlood flood-color="#2f5ae0" result="f0"/><feComposite in="f0" in2="SourceAlpha" operator="in" result="l0"/><feMorphology in="SourceAlpha" operator="erode" radius="0.55" result="e1"/><feFlood flood-color="#2cc2e4" result="f1"/><feComposite in="f1" in2="e1" operator="in" result="l1"/><feMorphology in="SourceAlpha" operator="erode" radius="1.05" result="e2"/><feFlood flood-color="#6ad044" result="f2"/><feComposite in="f2" in2="e2" operator="in" result="l2"/><feMorphology in="SourceAlpha" operator="erode" radius="1.50" result="e3"/><feFlood flood-color="#f0e22c" result="f3"/><feComposite in="f3" in2="e3" operator="in" result="l3"/><feMorphology in="SourceAlpha" operator="erode" radius="1.95" result="e4"/><feFlood flood-color="#e6281c" result="f4"/><feComposite in="f4" in2="e4" operator="in" result="l4"/><feMerge><feMergeNode in="l0"/><feMergeNode in="l1"/><feMergeNode in="l2"/><feMergeNode in="l3"/><feMergeNode in="l4"/></feMerge><feGaussianBlur stdDeviation="0.35"/></filter>
<filter id="h22a" x="-20%" y="-20%" width="140%" height="140%"><feFlood flood-color="#2cc2e4" result="f0"/><feComposite in="f0" in2="SourceAlpha" operator="in" result="l0"/><feMerge><feMergeNode in="l0"/></feMerge><feGaussianBlur stdDeviation="0.35"/></filter>
<filter id="h23a" x="-20%" y="-20%" width="140%" height="140%"><feFlood flood-color="#2cc2e4" result="f0"/><feComposite in="f0" in2="SourceAlpha" operator="in" result="l0"/><feMorphology in="SourceAlpha" operator="erode" radius="0.55" result="e1"/><feFlood flood-color="#6ad044" result="f1"/><feComposite in="f1" in2="e1" operator="in" result="l1"/><feMerge><feMergeNode in="l0"/><feMergeNode in="l1"/></feMerge><feGaussianBlur stdDeviation="0.35"/></filter>
<filter id="h24a" x="-20%" y="-20%" width="140%" height="140%"><feFlood flood-color="#2cc2e4" result="f0"/><feComposite in="f0" in2="SourceAlpha" operator="in" result="l0"/><feMorphology in="SourceAlpha" operator="erode" radius="0.55" result="e1"/><feFlood flood-color="#6ad044" result="f1"/><feComposite in="f1" in2="e1" operator="in" result="l1"/><feMorphology in="SourceAlpha" operator="erode" radius="1.05" result="e2"/><feFlood flood-color="#f0e22c" result="f2"/><feComposite in="f2" in2="e2" operator="in" result="l2"/><feMerge><feMergeNode in="l0"/><feMergeNode in="l1"/><feMergeNode in="l2"/></feMerge><feGaussianBlur stdDeviation="0.35"/></filter>
<filter id="h25a" x="-20%" y="-20%" width="140%" height="140%"><feFlood flood-color="#2cc2e4" result="f0"/><feComposite in="f0" in2="SourceAlpha" operator="in" result="l0"/><feMorphology in="SourceAlpha" operator="erode" radius="0.55" result="e1"/><feFlood flood-color="#6ad044" result="f1"/><feComposite in="f1" in2="e1" operator="in" result="l1"/><feMorphology in="SourceAlpha" operator="erode" radius="1.05" result="e2"/><feFlood flood-color="#f0e22c" result="f2"/><feComposite in="f2" in2="e2" operator="in" result="l2"/><feMorphology in="SourceAlpha" operator="erode" radius="1.50" result="e3"/><feFlood flood-color="#e6281c" result="f3"/><feComposite in="f3" in2="e3" operator="in" result="l3"/><feMerge><feMergeNode in="l0"/><feMergeNode in="l1"/><feMergeNode in="l2"/><feMergeNode in="l3"/></feMerge><feGaussianBlur stdDeviation="0.35"/></filter>
<filter id="h33a" x="-20%" y="-20%" width="140%" height="140%"><feFlood flood-color="#6ad044" result="f0"/><feComposite in="f0" in2="SourceAlpha" operator="in" result="l0"/><feMerge><feMergeNode in="l0"/></feMerge><feGaussianBlur stdDeviation="0.35"/></filter>
<filter id="h34a" x="-20%" y="-20%" width="140%" height="140%"><feFlood flood-color="#6ad044" result="f0"/><feComposite in="f0" in2="SourceAlpha" operator="in" result="l0"/><feMorphology in="SourceAlpha" operator="erode" radius="0.55" result="e1"/><feFlood flood-color="#f0e22c" result="f1"/><feComposite in="f1" in2="e1" operator="in" result="l1"/><feMerge><feMergeNode in="l0"/><feMergeNode in="l1"/></feMerge><feGaussianBlur stdDeviation="0.35"/></filter>
<filter id="h35a" x="-20%" y="-20%" width="140%" height="140%"><feFlood flood-color="#6ad044" result="f0"/><feComposite in="f0" in2="SourceAlpha" operator="in" result="l0"/><feMorphology in="SourceAlpha" operator="erode" radius="0.55" result="e1"/><feFlood flood-color="#f0e22c" result="f1"/><feComposite in="f1" in2="e1" operator="in" result="l1"/><feMorphology in="SourceAlpha" operator="erode" radius="1.05" result="e2"/><feFlood flood-color="#e6281c" result="f2"/><feComposite in="f2" in2="e2" operator="in" result="l2"/><feMerge><feMergeNode in="l0"/><feMergeNode in="l1"/><feMergeNode in="l2"/></feMerge><feGaussianBlur stdDeviation="0.35"/></filter>
<filter id="h44a" x="-20%" y="-20%" width="140%" height="140%"><feFlood flood-color="#f0e22c" result="f0"/><feComposite in="f0" in2="SourceAlpha" operator="in" result="l0"/><feMerge><feMergeNode in="l0"/></feMerge><feGaussianBlur stdDeviation="0.35"/></filter>
<filter id="h45a" x="-20%" y="-20%" width="140%" height="140%"><feFlood flood-color="#f0e22c" result="f0"/><feComposite in="f0" in2="SourceAlpha" operator="in" result="l0"/><feMorphology in="SourceAlpha" operator="erode" radius="0.55" result="e1"/><feFlood flood-color="#e6281c" result="f1"/><feComposite in="f1" in2="e1" operator="in" result="l1"/><feMerge><feMergeNode in="l0"/><feMergeNode in="l1"/></feMerge><feGaussianBlur stdDeviation="0.35"/></filter>
<filter id="h55a" x="-20%" y="-20%" width="140%" height="140%"><feFlood flood-color="#e6281c" result="f0"/><feComposite in="f0" in2="SourceAlpha" operator="in" result="l0"/><feMerge><feMergeNode in="l0"/></feMerge><feGaussianBlur stdDeviation="0.35"/></filter>
<filter id="h00b" x="-20%" y="-20%" width="140%" height="140%"><feFlood flood-color="#3a2a9e" result="f0"/><feComposite in="f0" in2="SourceAlpha" operator="in" result="l0"/><feMerge><feMergeNode in="l0"/></feMerge><feGaussianBlur stdDeviation="0.35"/></filter>
<filter id="h01b" x="-20%" y="-20%" width="140%" height="140%"><feFlood flood-color="#3a2a9e" result="f0"/><feComposite in="f0" in2="SourceAlpha" operator="in" result="l0"/><feMorphology in="SourceAlpha" operator="erode" radius="0.99" result="e1"/><feFlood flood-color="#2f5ae0" result="f1"/><feComposite in="f1" in2="e1" operator="in" result="l1"/><feMerge><feMergeNode in="l0"/><feMergeNode in="l1"/></feMerge><feGaussianBlur stdDeviation="0.35"/></filter>
<filter id="h02b" x="-20%" y="-20%" width="140%" height="140%"><feFlood flood-color="#3a2a9e" result="f0"/><feComposite in="f0" in2="SourceAlpha" operator="in" result="l0"/><feMorphology in="SourceAlpha" operator="erode" radius="0.99" result="e1"/><feFlood flood-color="#2f5ae0" result="f1"/><feComposite in="f1" in2="e1" operator="in" result="l1"/><feMorphology in="SourceAlpha" operator="erode" radius="1.89" result="e2"/><feFlood flood-color="#2cc2e4" result="f2"/><feComposite in="f2" in2="e2" operator="in" result="l2"/><feMerge><feMergeNode in="l0"/><feMergeNode in="l1"/><feMergeNode in="l2"/></feMerge><feGaussianBlur stdDeviation="0.35"/></filter>
<filter id="h03b" x="-20%" y="-20%" width="140%" height="140%"><feFlood flood-color="#3a2a9e" result="f0"/><feComposite in="f0" in2="SourceAlpha" operator="in" result="l0"/><feMorphology in="SourceAlpha" operator="erode" radius="0.99" result="e1"/><feFlood flood-color="#2f5ae0" result="f1"/><feComposite in="f1" in2="e1" operator="in" result="l1"/><feMorphology in="SourceAlpha" operator="erode" radius="1.89" result="e2"/><feFlood flood-color="#2cc2e4" result="f2"/><feComposite in="f2" in2="e2" operator="in" result="l2"/><feMorphology in="SourceAlpha" operator="erode" radius="2.70" result="e3"/><feFlood flood-color="#6ad044" result="f3"/><feComposite in="f3" in2="e3" operator="in" result="l3"/><feMerge><feMergeNode in="l0"/><feMergeNode in="l1"/><feMergeNode in="l2"/><feMergeNode in="l3"/></feMerge><feGaussianBlur stdDeviation="0.35"/></filter>
<filter id="h04b" x="-20%" y="-20%" width="140%" height="140%"><feFlood flood-color="#3a2a9e" result="f0"/><feComposite in="f0" in2="SourceAlpha" operator="in" result="l0"/><feMorphology in="SourceAlpha" operator="erode" radius="0.99" result="e1"/><feFlood flood-color="#2f5ae0" result="f1"/><feComposite in="f1" in2="e1" operator="in" result="l1"/><feMorphology in="SourceAlpha" operator="erode" radius="1.89" result="e2"/><feFlood flood-color="#2cc2e4" result="f2"/><feComposite in="f2" in2="e2" operator="in" result="l2"/><feMorphology in="SourceAlpha" operator="erode" radius="2.70" result="e3"/><feFlood flood-color="#6ad044" result="f3"/><feComposite in="f3" in2="e3" operator="in" result="l3"/><feMorphology in="SourceAlpha" operator="erode" radius="3.51" result="e4"/><feFlood flood-color="#f0e22c" result="f4"/><feComposite in="f4" in2="e4" operator="in" result="l4"/><feMerge><feMergeNode in="l0"/><feMergeNode in="l1"/><feMergeNode in="l2"/><feMergeNode in="l3"/><feMergeNode in="l4"/></feMerge><feGaussianBlur stdDeviation="0.35"/></filter>
<filter id="h05b" x="-20%" y="-20%" width="140%" height="140%"><feFlood flood-color="#3a2a9e" result="f0"/><feComposite in="f0" in2="SourceAlpha" operator="in" result="l0"/><feMorphology in="SourceAlpha" operator="erode" radius="0.99" result="e1"/><feFlood flood-color="#2f5ae0" result="f1"/><feComposite in="f1" in2="e1" operator="in" result="l1"/><feMorphology in="SourceAlpha" operator="erode" radius="1.89" result="e2"/><feFlood flood-color="#2cc2e4" result="f2"/><feComposite in="f2" in2="e2" operator="in" result="l2"/><feMorphology in="SourceAlpha" operator="erode" radius="2.70" result="e3"/><feFlood flood-color="#6ad044" result="f3"/><feComposite in="f3" in2="e3" operator="in" result="l3"/><feMorphology in="SourceAlpha" operator="erode" radius="3.51" result="e4"/><feFlood flood-color="#f0e22c" result="f4"/><feComposite in="f4" in2="e4" operator="in" result="l4"/><feMorphology in="SourceAlpha" operator="erode" radius="4.32" result="e5"/><feFlood flood-color="#e6281c" result="f5"/><feComposite in="f5" in2="e5" operator="in" result="l5"/><feMerge><feMergeNode in="l0"/><feMergeNode in="l1"/><feMergeNode in="l2"/><feMergeNode in="l3"/><feMergeNode in="l4"/><feMergeNode in="l5"/></feMerge><feGaussianBlur stdDeviation="0.35"/></filter>
<filter id="h11b" x="-20%" y="-20%" width="140%" height="140%"><feFlood flood-color="#2f5ae0" result="f0"/><feComposite in="f0" in2="SourceAlpha" operator="in" result="l0"/><feMerge><feMergeNode in="l0"/></feMerge><feGaussianBlur stdDeviation="0.35"/></filter>
<filter id="h12b" x="-20%" y="-20%" width="140%" height="140%"><feFlood flood-color="#2f5ae0" result="f0"/><feComposite in="f0" in2="SourceAlpha" operator="in" result="l0"/><feMorphology in="SourceAlpha" operator="erode" radius="0.99" result="e1"/><feFlood flood-color="#2cc2e4" result="f1"/><feComposite in="f1" in2="e1" operator="in" result="l1"/><feMerge><feMergeNode in="l0"/><feMergeNode in="l1"/></feMerge><feGaussianBlur stdDeviation="0.35"/></filter>
<filter id="h13b" x="-20%" y="-20%" width="140%" height="140%"><feFlood flood-color="#2f5ae0" result="f0"/><feComposite in="f0" in2="SourceAlpha" operator="in" result="l0"/><feMorphology in="SourceAlpha" operator="erode" radius="0.99" result="e1"/><feFlood flood-color="#2cc2e4" result="f1"/><feComposite in="f1" in2="e1" operator="in" result="l1"/><feMorphology in="SourceAlpha" operator="erode" radius="1.89" result="e2"/><feFlood flood-color="#6ad044" result="f2"/><feComposite in="f2" in2="e2" operator="in" result="l2"/><feMerge><feMergeNode in="l0"/><feMergeNode in="l1"/><feMergeNode in="l2"/></feMerge><feGaussianBlur stdDeviation="0.35"/></filter>
<filter id="h14b" x="-20%" y="-20%" width="140%" height="140%"><feFlood flood-color="#2f5ae0" result="f0"/><feComposite in="f0" in2="SourceAlpha" operator="in" result="l0"/><feMorphology in="SourceAlpha" operator="erode" radius="0.99" result="e1"/><feFlood flood-color="#2cc2e4" result="f1"/><feComposite in="f1" in2="e1" operator="in" result="l1"/><feMorphology in="SourceAlpha" operator="erode" radius="1.89" result="e2"/><feFlood flood-color="#6ad044" result="f2"/><feComposite in="f2" in2="e2" operator="in" result="l2"/><feMorphology in="SourceAlpha" operator="erode" radius="2.70" result="e3"/><feFlood flood-color="#f0e22c" result="f3"/><feComposite in="f3" in2="e3" operator="in" result="l3"/><feMerge><feMergeNode in="l0"/><feMergeNode in="l1"/><feMergeNode in="l2"/><feMergeNode in="l3"/></feMerge><feGaussianBlur stdDeviation="0.35"/></filter>
<filter id="h15b" x="-20%" y="-20%" width="140%" height="140%"><feFlood flood-color="#2f5ae0" result="f0"/><feComposite in="f0" in2="SourceAlpha" operator="in" result="l0"/><feMorphology in="SourceAlpha" operator="erode" radius="0.99" result="e1"/><feFlood flood-color="#2cc2e4" result="f1"/><feComposite in="f1" in2="e1" operator="in" result="l1"/><feMorphology in="SourceAlpha" operator="erode" radius="1.89" result="e2"/><feFlood flood-color="#6ad044" result="f2"/><feComposite in="f2" in2="e2" operator="in" result="l2"/><feMorphology in="SourceAlpha" operator="erode" radius="2.70" result="e3"/><feFlood flood-color="#f0e22c" result="f3"/><feComposite in="f3" in2="e3" operator="in" result="l3"/><feMorphology in="SourceAlpha" operator="erode" radius="3.51" result="e4"/><feFlood flood-color="#e6281c" result="f4"/><feComposite in="f4" in2="e4" operator="in" result="l4"/><feMerge><feMergeNode in="l0"/><feMergeNode in="l1"/><feMergeNode in="l2"/><feMergeNode in="l3"/><feMergeNode in="l4"/></feMerge><feGaussianBlur stdDeviation="0.35"/></filter>
<filter id="h22b" x="-20%" y="-20%" width="140%" height="140%"><feFlood flood-color="#2cc2e4" result="f0"/><feComposite in="f0" in2="SourceAlpha" operator="in" result="l0"/><feMerge><feMergeNode in="l0"/></feMerge><feGaussianBlur stdDeviation="0.35"/></filter>
<filter id="h23b" x="-20%" y="-20%" width="140%" height="140%"><feFlood flood-color="#2cc2e4" result="f0"/><feComposite in="f0" in2="SourceAlpha" operator="in" result="l0"/><feMorphology in="SourceAlpha" operator="erode" radius="0.99" result="e1"/><feFlood flood-color="#6ad044" result="f1"/><feComposite in="f1" in2="e1" operator="in" result="l1"/><feMerge><feMergeNode in="l0"/><feMergeNode in="l1"/></feMerge><feGaussianBlur stdDeviation="0.35"/></filter>
<filter id="h24b" x="-20%" y="-20%" width="140%" height="140%"><feFlood flood-color="#2cc2e4" result="f0"/><feComposite in="f0" in2="SourceAlpha" operator="in" result="l0"/><feMorphology in="SourceAlpha" operator="erode" radius="0.99" result="e1"/><feFlood flood-color="#6ad044" result="f1"/><feComposite in="f1" in2="e1" operator="in" result="l1"/><feMorphology in="SourceAlpha" operator="erode" radius="1.89" result="e2"/><feFlood flood-color="#f0e22c" result="f2"/><feComposite in="f2" in2="e2" operator="in" result="l2"/><feMerge><feMergeNode in="l0"/><feMergeNode in="l1"/><feMergeNode in="l2"/></feMerge><feGaussianBlur stdDeviation="0.35"/></filter>
<filter id="h25b" x="-20%" y="-20%" width="140%" height="140%"><feFlood flood-color="#2cc2e4" result="f0"/><feComposite in="f0" in2="SourceAlpha" operator="in" result="l0"/><feMorphology in="SourceAlpha" operator="erode" radius="0.99" result="e1"/><feFlood flood-color="#6ad044" result="f1"/><feComposite in="f1" in2="e1" operator="in" result="l1"/><feMorphology in="SourceAlpha" operator="erode" radius="1.89" result="e2"/><feFlood flood-color="#f0e22c" result="f2"/><feComposite in="f2" in2="e2" operator="in" result="l2"/><feMorphology in="SourceAlpha" operator="erode" radius="2.70" result="e3"/><feFlood flood-color="#e6281c" result="f3"/><feComposite in="f3" in2="e3" operator="in" result="l3"/><feMerge><feMergeNode in="l0"/><feMergeNode in="l1"/><feMergeNode in="l2"/><feMergeNode in="l3"/></feMerge><feGaussianBlur stdDeviation="0.35"/></filter>
<filter id="h33b" x="-20%" y="-20%" width="140%" height="140%"><feFlood flood-color="#6ad044" result="f0"/><feComposite in="f0" in2="SourceAlpha" operator="in" result="l0"/><feMerge><feMergeNode in="l0"/></feMerge><feGaussianBlur stdDeviation="0.35"/></filter>
<filter id="h34b" x="-20%" y="-20%" width="140%" height="140%"><feFlood flood-color="#6ad044" result="f0"/><feComposite in="f0" in2="SourceAlpha" operator="in" result="l0"/><feMorphology in="SourceAlpha" operator="erode" radius="0.99" result="e1"/><feFlood flood-color="#f0e22c" result="f1"/><feComposite in="f1" in2="e1" operator="in" result="l1"/><feMerge><feMergeNode in="l0"/><feMergeNode in="l1"/></feMerge><feGaussianBlur stdDeviation="0.35"/></filter>
<filter id="h35b" x="-20%" y="-20%" width="140%" height="140%"><feFlood flood-color="#6ad044" result="f0"/><feComposite in="f0" in2="SourceAlpha" operator="in" result="l0"/><feMorphology in="SourceAlpha" operator="erode" radius="0.99" result="e1"/><feFlood flood-color="#f0e22c" result="f1"/><feComposite in="f1" in2="e1" operator="in" result="l1"/><feMorphology in="SourceAlpha" operator="erode" radius="1.89" result="e2"/><feFlood flood-color="#e6281c" result="f2"/><feComposite in="f2" in2="e2" operator="in" result="l2"/><feMerge><feMergeNode in="l0"/><feMergeNode in="l1"/><feMergeNode in="l2"/></feMerge><feGaussianBlur stdDeviation="0.35"/></filter>
<filter id="h44b" x="-20%" y="-20%" width="140%" height="140%"><feFlood flood-color="#f0e22c" result="f0"/><feComposite in="f0" in2="SourceAlpha" operator="in" result="l0"/><feMerge><feMergeNode in="l0"/></feMerge><feGaussianBlur stdDeviation="0.35"/></filter>
<filter id="h45b" x="-20%" y="-20%" width="140%" height="140%"><feFlood flood-color="#f0e22c" result="f0"/><feComposite in="f0" in2="SourceAlpha" operator="in" result="l0"/><feMorphology in="SourceAlpha" operator="erode" radius="0.99" result="e1"/><feFlood flood-color="#e6281c" result="f1"/><feComposite in="f1" in2="e1" operator="in" result="l1"/><feMerge><feMergeNode in="l0"/><feMergeNode in="l1"/></feMerge><feGaussianBlur stdDeviation="0.35"/></filter>
<filter id="h55b" x="-20%" y="-20%" width="140%" height="140%"><feFlood flood-color="#e6281c" result="f0"/><feComposite in="f0" in2="SourceAlpha" operator="in" result="l0"/><feMerge><feMergeNode in="l0"/></feMerge><feGaussianBlur stdDeviation="0.35"/></filter>
<filter id="h00c" x="-20%" y="-20%" width="140%" height="140%"><feFlood flood-color="#3a2a9e" result="f0"/><feComposite in="f0" in2="SourceAlpha" operator="in" result="l0"/><feMerge><feMergeNode in="l0"/></feMerge><feGaussianBlur stdDeviation="0.35"/></filter>
<filter id="h01c" x="-20%" y="-20%" width="140%" height="140%"><feFlood flood-color="#3a2a9e" result="f0"/><feComposite in="f0" in2="SourceAlpha" operator="in" result="l0"/><feMorphology in="SourceAlpha" operator="erode" radius="1.54" result="e1"/><feFlood flood-color="#2f5ae0" result="f1"/><feComposite in="f1" in2="e1" operator="in" result="l1"/><feMerge><feMergeNode in="l0"/><feMergeNode in="l1"/></feMerge><feGaussianBlur stdDeviation="0.35"/></filter>
<filter id="h02c" x="-20%" y="-20%" width="140%" height="140%"><feFlood flood-color="#3a2a9e" result="f0"/><feComposite in="f0" in2="SourceAlpha" operator="in" result="l0"/><feMorphology in="SourceAlpha" operator="erode" radius="1.54" result="e1"/><feFlood flood-color="#2f5ae0" result="f1"/><feComposite in="f1" in2="e1" operator="in" result="l1"/><feMorphology in="SourceAlpha" operator="erode" radius="2.94" result="e2"/><feFlood flood-color="#2cc2e4" result="f2"/><feComposite in="f2" in2="e2" operator="in" result="l2"/><feMerge><feMergeNode in="l0"/><feMergeNode in="l1"/><feMergeNode in="l2"/></feMerge><feGaussianBlur stdDeviation="0.35"/></filter>
<filter id="h03c" x="-20%" y="-20%" width="140%" height="140%"><feFlood flood-color="#3a2a9e" result="f0"/><feComposite in="f0" in2="SourceAlpha" operator="in" result="l0"/><feMorphology in="SourceAlpha" operator="erode" radius="1.54" result="e1"/><feFlood flood-color="#2f5ae0" result="f1"/><feComposite in="f1" in2="e1" operator="in" result="l1"/><feMorphology in="SourceAlpha" operator="erode" radius="2.94" result="e2"/><feFlood flood-color="#2cc2e4" result="f2"/><feComposite in="f2" in2="e2" operator="in" result="l2"/><feMorphology in="SourceAlpha" operator="erode" radius="4.20" result="e3"/><feFlood flood-color="#6ad044" result="f3"/><feComposite in="f3" in2="e3" operator="in" result="l3"/><feMerge><feMergeNode in="l0"/><feMergeNode in="l1"/><feMergeNode in="l2"/><feMergeNode in="l3"/></feMerge><feGaussianBlur stdDeviation="0.35"/></filter>
<filter id="h04c" x="-20%" y="-20%" width="140%" height="140%"><feFlood flood-color="#3a2a9e" result="f0"/><feComposite in="f0" in2="SourceAlpha" operator="in" result="l0"/><feMorphology in="SourceAlpha" operator="erode" radius="1.54" result="e1"/><feFlood flood-color="#2f5ae0" result="f1"/><feComposite in="f1" in2="e1" operator="in" result="l1"/><feMorphology in="SourceAlpha" operator="erode" radius="2.94" result="e2"/><feFlood flood-color="#2cc2e4" result="f2"/><feComposite in="f2" in2="e2" operator="in" result="l2"/><feMorphology in="SourceAlpha" operator="erode" radius="4.20" result="e3"/><feFlood flood-color="#6ad044" result="f3"/><feComposite in="f3" in2="e3" operator="in" result="l3"/><feMorphology in="SourceAlpha" operator="erode" radius="5.46" result="e4"/><feFlood flood-color="#f0e22c" result="f4"/><feComposite in="f4" in2="e4" operator="in" result="l4"/><feMerge><feMergeNode in="l0"/><feMergeNode in="l1"/><feMergeNode in="l2"/><feMergeNode in="l3"/><feMergeNode in="l4"/></feMerge><feGaussianBlur stdDeviation="0.35"/></filter>
<filter id="h05c" x="-20%" y="-20%" width="140%" height="140%"><feFlood flood-color="#3a2a9e" result="f0"/><feComposite in="f0" in2="SourceAlpha" operator="in" result="l0"/><feMorphology in="SourceAlpha" operator="erode" radius="1.54" result="e1"/><feFlood flood-color="#2f5ae0" result="f1"/><feComposite in="f1" in2="e1" operator="in" result="l1"/><feMorphology in="SourceAlpha" operator="erode" radius="2.94" result="e2"/><feFlood flood-color="#2cc2e4" result="f2"/><feComposite in="f2" in2="e2" operator="in" result="l2"/><feMorphology in="SourceAlpha" operator="erode" radius="4.20" result="e3"/><feFlood flood-color="#6ad044" result="f3"/><feComposite in="f3" in2="e3" operator="in" result="l3"/><feMorphology in="SourceAlpha" operator="erode" radius="5.46" result="e4"/><feFlood flood-color="#f0e22c" result="f4"/><feComposite in="f4" in2="e4" operator="in" result="l4"/><feMorphology in="SourceAlpha" operator="erode" radius="6.72" result="e5"/><feFlood flood-color="#e6281c" result="f5"/><feComposite in="f5" in2="e5" operator="in" result="l5"/><feMerge><feMergeNode in="l0"/><feMergeNode in="l1"/><feMergeNode in="l2"/><feMergeNode in="l3"/><feMergeNode in="l4"/><feMergeNode in="l5"/></feMerge><feGaussianBlur stdDeviation="0.35"/></filter>
<filter id="h11c" x="-20%" y="-20%" width="140%" height="140%"><feFlood flood-color="#2f5ae0" result="f0"/><feComposite in="f0" in2="SourceAlpha" operator="in" result="l0"/><feMerge><feMergeNode in="l0"/></feMerge><feGaussianBlur stdDeviation="0.35"/></filter>
<filter id="h12c" x="-20%" y="-20%" width="140%" height="140%"><feFlood flood-color="#2f5ae0" result="f0"/><feComposite in="f0" in2="SourceAlpha" operator="in" result="l0"/><feMorphology in="SourceAlpha" operator="erode" radius="1.54" result="e1"/><feFlood flood-color="#2cc2e4" result="f1"/><feComposite in="f1" in2="e1" operator="in" result="l1"/><feMerge><feMergeNode in="l0"/><feMergeNode in="l1"/></feMerge><feGaussianBlur stdDeviation="0.35"/></filter>
<filter id="h13c" x="-20%" y="-20%" width="140%" height="140%"><feFlood flood-color="#2f5ae0" result="f0"/><feComposite in="f0" in2="SourceAlpha" operator="in" result="l0"/><feMorphology in="SourceAlpha" operator="erode" radius="1.54" result="e1"/><feFlood flood-color="#2cc2e4" result="f1"/><feComposite in="f1" in2="e1" operator="in" result="l1"/><feMorphology in="SourceAlpha" operator="erode" radius="2.94" result="e2"/><feFlood flood-color="#6ad044" result="f2"/><feComposite in="f2" in2="e2" operator="in" result="l2"/><feMerge><feMergeNode in="l0"/><feMergeNode in="l1"/><feMergeNode in="l2"/></feMerge><feGaussianBlur stdDeviation="0.35"/></filter>
<filter id="h14c" x="-20%" y="-20%" width="140%" height="140%"><feFlood flood-color="#2f5ae0" result="f0"/><feComposite in="f0" in2="SourceAlpha" operator="in" result="l0"/><feMorphology in="SourceAlpha" operator="erode" radius="1.54" result="e1"/><feFlood flood-color="#2cc2e4" result="f1"/><feComposite in="f1" in2="e1" operator="in" result="l1"/><feMorphology in="SourceAlpha" operator="erode" radius="2.94" result="e2"/><feFlood flood-color="#6ad044" result="f2"/><feComposite in="f2" in2="e2" operator="in" result="l2"/><feMorphology in="SourceAlpha" operator="erode" radius="4.20" result="e3"/><feFlood flood-color="#f0e22c" result="f3"/><feComposite in="f3" in2="e3" operator="in" result="l3"/><feMerge><feMergeNode in="l0"/><feMergeNode in="l1"/><feMergeNode in="l2"/><feMergeNode in="l3"/></feMerge><feGaussianBlur stdDeviation="0.35"/></filter>
<filter id="h15c" x="-20%" y="-20%" width="140%" height="140%"><feFlood flood-color="#2f5ae0" result="f0"/><feComposite in="f0" in2="SourceAlpha" operator="in" result="l0"/><feMorphology in="SourceAlpha" operator="erode" radius="1.54" result="e1"/><feFlood flood-color="#2cc2e4" result="f1"/><feComposite in="f1" in2="e1" operator="in" result="l1"/><feMorphology in="SourceAlpha" operator="erode" radius="2.94" result="e2"/><feFlood flood-color="#6ad044" result="f2"/><feComposite in="f2" in2="e2" operator="in" result="l2"/><feMorphology in="SourceAlpha" operator="erode" radius="4.20" result="e3"/><feFlood flood-color="#f0e22c" result="f3"/><feComposite in="f3" in2="e3" operator="in" result="l3"/><feMorphology in="SourceAlpha" operator="erode" radius="5.46" result="e4"/><feFlood flood-color="#e6281c" result="f4"/><feComposite in="f4" in2="e4" operator="in" result="l4"/><feMerge><feMergeNode in="l0"/><feMergeNode in="l1"/><feMergeNode in="l2"/><feMergeNode in="l3"/><feMergeNode in="l4"/></feMerge><feGaussianBlur stdDeviation="0.35"/></filter>
<filter id="h22c" x="-20%" y="-20%" width="140%" height="140%"><feFlood flood-color="#2cc2e4" result="f0"/><feComposite in="f0" in2="SourceAlpha" operator="in" result="l0"/><feMerge><feMergeNode in="l0"/></feMerge><feGaussianBlur stdDeviation="0.35"/></filter>
<filter id="h23c" x="-20%" y="-20%" width="140%" height="140%"><feFlood flood-color="#2cc2e4" result="f0"/><feComposite in="f0" in2="SourceAlpha" operator="in" result="l0"/><feMorphology in="SourceAlpha" operator="erode" radius="1.54" result="e1"/><feFlood flood-color="#6ad044" result="f1"/><feComposite in="f1" in2="e1" operator="in" result="l1"/><feMerge><feMergeNode in="l0"/><feMergeNode in="l1"/></feMerge><feGaussianBlur stdDeviation="0.35"/></filter>
<filter id="h24c" x="-20%" y="-20%" width="140%" height="140%"><feFlood flood-color="#2cc2e4" result="f0"/><feComposite in="f0" in2="SourceAlpha" operator="in" result="l0"/><feMorphology in="SourceAlpha" operator="erode" radius="1.54" result="e1"/><feFlood flood-color="#6ad044" result="f1"/><feComposite in="f1" in2="e1" operator="in" result="l1"/><feMorphology in="SourceAlpha" operator="erode" radius="2.94" result="e2"/><feFlood flood-color="#f0e22c" result="f2"/><feComposite in="f2" in2="e2" operator="in" result="l2"/><feMerge><feMergeNode in="l0"/><feMergeNode in="l1"/><feMergeNode in="l2"/></feMerge><feGaussianBlur stdDeviation="0.35"/></filter>
<filter id="h25c" x="-20%" y="-20%" width="140%" height="140%"><feFlood flood-color="#2cc2e4" result="f0"/><feComposite in="f0" in2="SourceAlpha" operator="in" result="l0"/><feMorphology in="SourceAlpha" operator="erode" radius="1.54" result="e1"/><feFlood flood-color="#6ad044" result="f1"/><feComposite in="f1" in2="e1" operator="in" result="l1"/><feMorphology in="SourceAlpha" operator="erode" radius="2.94" result="e2"/><feFlood flood-color="#f0e22c" result="f2"/><feComposite in="f2" in2="e2" operator="in" result="l2"/><feMorphology in="SourceAlpha" operator="erode" radius="4.20" result="e3"/><feFlood flood-color="#e6281c" result="f3"/><feComposite in="f3" in2="e3" operator="in" result="l3"/><feMerge><feMergeNode in="l0"/><feMergeNode in="l1"/><feMergeNode in="l2"/><feMergeNode in="l3"/></feMerge><feGaussianBlur stdDeviation="0.35"/></filter>
<filter id="h33c" x="-20%" y="-20%" width="140%" height="140%"><feFlood flood-color="#6ad044" result="f0"/><feComposite in="f0" in2="SourceAlpha" operator="in" result="l0"/><feMerge><feMergeNode in="l0"/></feMerge><feGaussianBlur stdDeviation="0.35"/></filter>
<filter id="h34c" x="-20%" y="-20%" width="140%" height="140%"><feFlood flood-color="#6ad044" result="f0"/><feComposite in="f0" in2="SourceAlpha" operator="in" result="l0"/><feMorphology in="SourceAlpha" operator="erode" radius="1.54" result="e1"/><feFlood flood-color="#f0e22c" result="f1"/><feComposite in="f1" in2="e1" operator="in" result="l1"/><feMerge><feMergeNode in="l0"/><feMergeNode in="l1"/></feMerge><feGaussianBlur stdDeviation="0.35"/></filter>
<filter id="h35c" x="-20%" y="-20%" width="140%" height="140%"><feFlood flood-color="#6ad044" result="f0"/><feComposite in="f0" in2="SourceAlpha" operator="in" result="l0"/><feMorphology in="SourceAlpha" operator="erode" radius="1.54" result="e1"/><feFlood flood-color="#f0e22c" result="f1"/><feComposite in="f1" in2="e1" operator="in" result="l1"/><feMorphology in="SourceAlpha" operator="erode" radius="2.94" result="e2"/><feFlood flood-color="#e6281c" result="f2"/><feComposite in="f2" in2="e2" operator="in" result="l2"/><feMerge><feMergeNode in="l0"/><feMergeNode in="l1"/><feMergeNode in="l2"/></feMerge><feGaussianBlur stdDeviation="0.35"/></filter>
<filter id="h44c" x="-20%" y="-20%" width="140%" height="140%"><feFlood flood-color="#f0e22c" result="f0"/><feComposite in="f0" in2="SourceAlpha" operator="in" result="l0"/><feMerge><feMergeNode in="l0"/></feMerge><feGaussianBlur stdDeviation="0.35"/></filter>
<filter id="h45c" x="-20%" y="-20%" width="140%" height="140%"><feFlood flood-color="#f0e22c" result="f0"/><feComposite in="f0" in2="SourceAlpha" operator="in" result="l0"/><feMorphology in="SourceAlpha" operator="erode" radius="1.54" result="e1"/><feFlood flood-color="#e6281c" result="f1"/><feComposite in="f1" in2="e1" operator="in" result="l1"/><feMerge><feMergeNode in="l0"/><feMergeNode in="l1"/></feMerge><feGaussianBlur stdDeviation="0.35"/></filter>
<filter id="h55c" x="-20%" y="-20%" width="140%" height="140%"><feFlood flood-color="#e6281c" result="f0"/><feComposite in="f0" in2="SourceAlpha" operator="in" result="l0"/><feMerge><feMergeNode in="l0"/></feMerge><feGaussianBlur stdDeviation="0.35"/></filter>

</defs>
<text x="80.00" y="473.70" font-size="8.85" textLength="142.00" lengthAdjust="spacingAndGlyphs" fill="#231f20">OCI-AML5/Luc i-sh-RUNX1 xenografts</text>
<text x="60.90" y="487.00" font-size="8.85" textLength="26.60" lengthAdjust="spacingAndGlyphs" fill="#231f20">Week 1</text>
<text x="97.50" y="487.00" font-size="8.85" textLength="26.60" lengthAdjust="spacingAndGlyphs" fill="#231f20">Week 2</text>
<text x="134.10" y="487.00" font-size="8.85" textLength="26.60" lengthAdjust="spacingAndGlyphs" fill="#231f20">Week 3</text>
<text x="170.80" y="487.00" font-size="8.85" textLength="26.60" lengthAdjust="spacingAndGlyphs" fill="#231f20">Week 4</text>
<text x="207.30" y="487.00" font-size="8.85" textLength="26.60" lengthAdjust="spacingAndGlyphs" fill="#231f20">Week 5</text>
<text x="30.90" y="515.10" font-size="6.8" textLength="22.40" lengthAdjust="spacingAndGlyphs" fill="#231f20" stroke="none">No DOX</text>
<text x="12.90" y="551.80" font-size="6.8" textLength="40.00" lengthAdjust="spacingAndGlyphs" fill="#231f20" stroke="none">+ DOX treated</text>
<text x="13.80" y="559.70" font-size="6.8" textLength="39.10" lengthAdjust="spacingAndGlyphs" fill="#231f20" stroke="none">10 mg/kg/day</text>
<text x="11.70" y="591.60" font-size="6.8" textLength="41.20" lengthAdjust="spacingAndGlyphs" fill="#231f20" stroke="none">Ex vivo treated</text>
<text x="12.90" y="599.50" font-size="6.8" textLength="40.00" lengthAdjust="spacingAndGlyphs" fill="#231f20" stroke="none">+ DOX treated</text>
<text x="13.80" y="607.60" font-size="6.8" textLength="39.10" lengthAdjust="spacingAndGlyphs" fill="#231f20" stroke="none">10 mg/kg/day</text>
<rect x="239.70" y="488.50" width="1.40" height="36.70" fill="url(#cb)" opacity="0.75"/>
<line x1="241.20" y1="488.50" x2="242.60" y2="488.50" stroke="#999" stroke-width="0.4"/>
<line x1="241.20" y1="495.84" x2="242.60" y2="495.84" stroke="#999" stroke-width="0.4"/>
<line x1="241.20" y1="503.18" x2="242.60" y2="503.18" stroke="#999" stroke-width="0.4"/>
<line x1="241.20" y1="510.52" x2="242.60" y2="510.52" stroke="#999" stroke-width="0.4"/>
<line x1="241.20" y1="517.86" x2="242.60" y2="517.86" stroke="#999" stroke-width="0.4"/>
<line x1="241.20" y1="525.20" x2="242.60" y2="525.20" stroke="#999" stroke-width="0.4"/>
<rect x="239.40" y="526.70" width="2.80" height="5.00" fill="#d8d8d8"/>
<rect x="239.70" y="533.00" width="1.40" height="36.30" fill="url(#cb)" opacity="0.75"/>
<line x1="241.20" y1="533.00" x2="242.60" y2="533.00" stroke="#999" stroke-width="0.4"/>
<line x1="241.20" y1="540.26" x2="242.60" y2="540.26" stroke="#999" stroke-width="0.4"/>
<line x1="241.20" y1="547.52" x2="242.60" y2="547.52" stroke="#999" stroke-width="0.4"/>
<line x1="241.20" y1="554.78" x2="242.60" y2="554.78" stroke="#999" stroke-width="0.4"/>
<line x1="241.20" y1="562.04" x2="242.60" y2="562.04" stroke="#999" stroke-width="0.4"/>
<line x1="241.20" y1="569.30" x2="242.60" y2="569.30" stroke="#999" stroke-width="0.4"/>
<rect x="239.40" y="570.80" width="2.80" height="5.00" fill="#d8d8d8"/>
<rect x="239.70" y="575.60" width="1.40" height="35.90" fill="url(#cb)" opacity="0.75"/>
<line x1="241.20" y1="575.60" x2="242.60" y2="575.60" stroke="#999" stroke-width="0.4"/>
<line x1="241.20" y1="582.78" x2="242.60" y2="582.78" stroke="#999" stroke-width="0.4"/>
<line x1="241.20" y1="589.96" x2="242.60" y2="589.96" stroke="#999" stroke-width="0.4"/>
<line x1="241.20" y1="597.14" x2="242.60" y2="597.14" stroke="#999" stroke-width="0.4"/>
<line x1="241.20" y1="604.32" x2="242.60" y2="604.32" stroke="#999" stroke-width="0.4"/>
<line x1="241.20" y1="611.50" x2="242.60" y2="611.50" stroke="#999" stroke-width="0.4"/>
<rect x="239.40" y="613.00" width="2.80" height="5.00" fill="#d8d8d8"/>
<rect x="57.10" y="492.80" width="34.20" height="39.30" fill="url(#stripes)"/>
<g transform="translate(58.40 495.70) scale(0.887 0.986)"><use href="#legs"/><use href="#mouse" fill="url(#mg)" filter="url(#mb)"/></g>
<g transform="translate(75.30 495.70) scale(0.887 0.986)"><use href="#legs"/><use href="#mouse" fill="url(#mg)" filter="url(#mb)"/></g>
<rect x="93.70" y="492.80" width="34.20" height="39.30" fill="url(#stripes)"/>
<g transform="translate(95.30 495.40) scale(0.912 0.986) rotate(6 8.0 18.0)"><use href="#legs"/><use href="#mouse" fill="url(#mg)" filter="url(#mb)"/></g>
<g transform="translate(111.50 495.70) scale(0.925 0.986)"><use href="#legs"/><use href="#mouse" fill="url(#mg)" filter="url(#mb)"/></g>
<rect x="130.30" y="492.80" width="34.20" height="39.30" fill="url(#stripes)"/>
<g transform="translate(131.60 495.70) scale(0.887 0.986)"><use href="#legs"/><use href="#mouse" fill="url(#mg)" filter="url(#mb)"/></g>
<g transform="translate(148.50 495.70) scale(0.887 0.986)"><use href="#legs"/><use href="#mouse" fill="url(#mg)" filter="url(#mb)"/></g>
<rect x="167.00" y="492.80" width="34.20" height="39.30" fill="url(#stripes)"/>
<g transform="translate(168.30 495.70) scale(0.887 0.986)"><use href="#legs"/><use href="#mouse" fill="url(#mg)" filter="url(#mb)"/></g>
<g transform="translate(185.20 495.70) scale(0.887 0.986)"><use href="#legs"/><use href="#mouse" fill="url(#mg)" filter="url(#mb)"/></g>
<rect x="203.50" y="492.80" width="34.20" height="39.30" fill="url(#stripes)"/>
<g transform="translate(204.80 495.70) scale(0.887 0.986)"><use href="#legs"/><use href="#mouse" fill="url(#mg)" filter="url(#mb)"/></g>
<g transform="translate(221.70 495.70) scale(0.887 0.986)"><use href="#legs"/><use href="#mouse" fill="url(#mg)" filter="url(#mb)"/></g>
<rect x="57.10" y="534.40" width="34.20" height="39.90" fill="url(#stripes)"/>
<g transform="translate(58.10 537.40) scale(0.912 1.001) rotate(-8 8.0 18.0)"><use href="#legs"/><use href="#mouse" fill="url(#mg)" filter="url(#mb)"/></g>
<g transform="translate(74.70 537.40) scale(0.912 1.001) rotate(-12 8.0 18.0)"><use href="#legs"/><use href="#mouse" fill="url(#mg)" filter="url(#mb)"/></g>
<rect x="93.70" y="534.40" width="34.20" height="39.90" fill="url(#stripes)"/>
<g transform="translate(95.00 537.30) scale(0.887 1.001)"><use href="#legs"/><use href="#mouse" fill="url(#mg)" filter="url(#mb)"/></g>
<g transform="translate(111.90 537.30) scale(0.887 1.001)"><use href="#legs"/><use href="#mouse" fill="url(#mg)" filter="url(#mb)"/></g>
<rect x="130.30" y="534.40" width="34.20" height="39.90" fill="url(#stripes)"/>
<g transform="translate(131.60 537.30) scale(0.887 1.001)"><use href="#legs"/><use href="#mouse" fill="url(#mg)" filter="url(#mb)"/></g>
<g transform="translate(148.50 537.30) scale(0.887 1.001)"><use href="#legs"/><use href="#mouse" fill="url(#mg)" filter="url(#mb)"/></g>
<rect x="167.00" y="534.40" width="34.20" height="39.90" fill="url(#stripes)"/>
<g transform="translate(168.30 537.30) scale(0.887 1.001)"><use href="#legs"/><use href="#mouse" fill="url(#mg)" filter="url(#mb)"/></g>
<g transform="translate(185.20 537.30) scale(0.887 1.001)"><use href="#legs"/><use href="#mouse" fill="url(#mg)" filter="url(#mb)"/></g>
<rect x="203.50" y="534.40" width="34.20" height="39.90" fill="url(#stripes)"/>
<g transform="translate(204.80 537.30) scale(0.887 1.001)"><use href="#legs"/><use href="#mouse" fill="url(#mg)" filter="url(#mb)"/></g>
<g transform="translate(221.70 537.30) scale(0.887 1.001)"><use href="#legs"/><use href="#mouse" fill="url(#mg)" filter="url(#mb)"/></g>
<rect x="57.10" y="577.00" width="34.20" height="41.30" fill="url(#stripes)"/>
<g transform="translate(58.40 579.90) scale(0.887 1.036)"><use href="#legs"/><use href="#mouse" fill="url(#mg)" filter="url(#mb)"/></g>
<g transform="translate(75.30 579.90) scale(0.887 1.036)"><use href="#legs"/><use href="#mouse" fill="url(#mg)" filter="url(#mb)"/></g>
<rect x="93.70" y="577.00" width="34.20" height="41.30" fill="url(#stripes)"/>
<g transform="translate(95.00 579.90) scale(0.887 1.036)"><use href="#legs"/><use href="#mouse" fill="url(#mg)" filter="url(#mb)"/></g>
<g transform="translate(111.90 579.90) scale(0.887 1.036)"><use href="#legs"/><use href="#mouse" fill="url(#mg)" filter="url(#mb)"/></g>
<rect x="130.30" y="577.00" width="34.20" height="41.30" fill="url(#stripes)"/>
<g transform="translate(131.60 579.90) scale(0.887 1.036)"><use href="#legs"/><use href="#mouse" fill="url(#mg)" filter="url(#mb)"/></g>
<g transform="translate(148.50 579.90) scale(0.887 1.036)"><use href="#legs"/><use href="#mouse" fill="url(#mg)" filter="url(#mb)"/></g>
<rect x="167.00" y="577.00" width="34.20" height="41.30" fill="url(#stripes)"/>
<g transform="translate(168.30 579.90) scale(0.887 1.036)"><use href="#legs"/><use href="#mouse" fill="url(#mg)" filter="url(#mb)"/></g>
<g transform="translate(185.20 579.90) scale(0.887 1.036)"><use href="#legs"/><use href="#mouse" fill="url(#mg)" filter="url(#mb)"/></g>
<rect x="203.50" y="577.00" width="34.20" height="41.30" fill="url(#stripes)"/>
<g transform="translate(204.80 579.90) scale(0.887 1.036)"><use href="#legs"/><use href="#mouse" fill="url(#mg)" filter="url(#mb)"/></g>
<g transform="translate(221.70 579.90) scale(0.887 1.036)"><use href="#legs"/><use href="#mouse" fill="url(#mg)" filter="url(#mb)"/></g>
<ellipse cx="103.00" cy="520.00" rx="0.90" ry="1.10" fill="#4a30b0" filter="url(#hb)"/>
<ellipse cx="94.60" cy="524.00" rx="0.70" ry="0.90" fill="#4a30b0" filter="url(#hb)"/>
<clipPath id="cp1"><path d="M118.90 496.80 C124.61 496.80 125.09 499.38 124.61 501.95 C124.14 505.17 125.70 506.46 126.89 510.97 C127.74 516.12 127.91 522.56 126.38 527.39 C124.00 529.32 113.80 529.32 111.42 527.39 C109.89 522.56 110.06 516.12 110.91 510.97 C112.10 506.46 113.66 505.17 113.19 501.95 C112.71 499.38 113.19 496.80 118.90 496.80 Z"/></clipPath>
<g filter="url(#hb)"><g clip-path="url(#cp1)">
<path d="M118.90 496.80 C124.61 496.80 125.09 499.38 124.61 501.95 C124.14 505.17 125.70 506.46 126.89 510.97 C127.74 516.12 127.91 522.56 126.38 527.39 C124.00 529.32 113.80 529.32 111.42 527.39 C109.89 522.56 110.06 516.12 110.91 510.97 C112.10 506.46 113.66 505.17 113.19 501.95 C112.71 499.38 113.19 496.80 118.90 496.80 Z" fill="#e6281c"/>
<path d="M118.90 496.80 C124.61 496.80 125.09 499.38 124.61 501.95 C124.14 505.17 125.70 506.46 126.89 510.97 C127.74 516.12 127.91 522.56 126.38 527.39 C124.00 529.32 113.80 529.32 111.42 527.39 C109.89 522.56 110.06 516.12 110.91 510.97 C112.10 506.46 113.66 505.17 113.19 501.95 C112.71 499.38 113.19 496.80 118.90 496.80 Z" fill="none" stroke="#f0e22c" stroke-width="3.36"/>
<path d="M118.90 496.80 C124.61 496.80 125.09 499.38 124.61 501.95 C124.14 505.17 125.70 506.46 126.89 510.97 C127.74 516.12 127.91 522.56 126.38 527.39 C124.00 529.32 113.80 529.32 111.42 527.39 C109.89 522.56 110.06 516.12 110.91 510.97 C112.10 506.46 113.66 505.17 113.19 501.95 C112.71 499.38 113.19 496.80 118.90 496.80 Z" fill="none" stroke="#6ad044" stroke-width="2.73"/>
<path d="M118.90 496.80 C124.61 496.80 125.09 499.38 124.61 501.95 C124.14 505.17 125.70 506.46 126.89 510.97 C127.74 516.12 127.91 522.56 126.38 527.39 C124.00 529.32 113.80 529.32 111.42 527.39 C109.89 522.56 110.06 516.12 110.91 510.97 C112.10 506.46 113.66 505.17 113.19 501.95 C112.71 499.38 113.19 496.80 118.90 496.80 Z" fill="none" stroke="#2cc2e4" stroke-width="2.10"/>
<path d="M118.90 496.80 C124.61 496.80 125.09 499.38 124.61 501.95 C124.14 505.17 125.70 506.46 126.89 510.97 C127.74 516.12 127.91 522.56 126.38 527.39 C124.00 529.32 113.80 529.32 111.42 527.39 C109.89 522.56 110.06 516.12 110.91 510.97 C112.10 506.46 113.66 505.17 113.19 501.95 C112.71 499.38 113.19 496.80 118.90 496.80 Z" fill="none" stroke="#2f5ae0" stroke-width="1.47"/>
<path d="M118.90 496.80 C124.61 496.80 125.09 499.38 124.61 501.95 C124.14 505.17 125.70 506.46 126.89 510.97 C127.74 516.12 127.91 522.56 126.38 527.39 C124.00 529.32 113.80 529.32 111.42 527.39 C109.89 522.56 110.06 516.12 110.91 510.97 C112.10 506.46 113.66 505.17 113.19 501.95 C112.71 499.38 113.19 496.80 118.90 496.80 Z" fill="none" stroke="#3a2a9e" stroke-width="0.77"/>
</g></g>
<ellipse cx="123.60" cy="507.50" rx="1.40" ry="2.00" fill="#7ad060" filter="url(#hb)"/>
<ellipse cx="116.50" cy="505.50" rx="0.80" ry="1.00" fill="#a8d860" filter="url(#hb)"/>
<clipPath id="cp2"><ellipse cx="139.80" cy="500.90" rx="3.40" ry="3.80"/></clipPath>
<g filter="url(#hb)"><g clip-path="url(#cp2)">
<ellipse cx="139.80" cy="500.90" rx="3.40" ry="3.80" fill="#e6281c"/>
<ellipse cx="139.80" cy="500.90" rx="3.40" ry="3.80" fill="none" stroke="#f0e22c" stroke-width="3.36"/>
<ellipse cx="139.80" cy="500.90" rx="3.40" ry="3.80" fill="none" stroke="#6ad044" stroke-width="2.73"/>
<ellipse cx="139.80" cy="500.90" rx="3.40" ry="3.80" fill="none" stroke="#2cc2e4" stroke-width="2.10"/>
<ellipse cx="139.80" cy="500.90" rx="3.40" ry="3.80" fill="none" stroke="#2f5ae0" stroke-width="1.47"/>
<ellipse cx="139.80" cy="500.90" rx="3.40" ry="3.80" fill="none" stroke="#3a2a9e" stroke-width="0.77"/>
</g></g>
<clipPath id="cp3"><path d="M140.3 509.4 C143.6 509.4 145.2 514 145.8 518 C146.3 522 147.4 526 147.2 531.8 L131.2 531.8 C130.4 528 130.8 524 133.4 520 C135.5 516 137.3 509.4 140.3 509.4 Z"/></clipPath>
<g filter="url(#hb)"><g clip-path="url(#cp3)">
<path d="M140.3 509.4 C143.6 509.4 145.2 514 145.8 518 C146.3 522 147.4 526 147.2 531.8 L131.2 531.8 C130.4 528 130.8 524 133.4 520 C135.5 516 137.3 509.4 140.3 509.4 Z" fill="#e6281c"/>
<path d="M140.3 509.4 C143.6 509.4 145.2 514 145.8 518 C146.3 522 147.4 526 147.2 531.8 L131.2 531.8 C130.4 528 130.8 524 133.4 520 C135.5 516 137.3 509.4 140.3 509.4 Z" fill="none" stroke="#f0e22c" stroke-width="4.80"/>
<path d="M140.3 509.4 C143.6 509.4 145.2 514 145.8 518 C146.3 522 147.4 526 147.2 531.8 L131.2 531.8 C130.4 528 130.8 524 133.4 520 C135.5 516 137.3 509.4 140.3 509.4 Z" fill="none" stroke="#6ad044" stroke-width="3.90"/>
<path d="M140.3 509.4 C143.6 509.4 145.2 514 145.8 518 C146.3 522 147.4 526 147.2 531.8 L131.2 531.8 C130.4 528 130.8 524 133.4 520 C135.5 516 137.3 509.4 140.3 509.4 Z" fill="none" stroke="#2cc2e4" stroke-width="3.00"/>
<path d="M140.3 509.4 C143.6 509.4 145.2 514 145.8 518 C146.3 522 147.4 526 147.2 531.8 L131.2 531.8 C130.4 528 130.8 524 133.4 520 C135.5 516 137.3 509.4 140.3 509.4 Z" fill="none" stroke="#2f5ae0" stroke-width="2.10"/>
<path d="M140.3 509.4 C143.6 509.4 145.2 514 145.8 518 C146.3 522 147.4 526 147.2 531.8 L131.2 531.8 C130.4 528 130.8 524 133.4 520 C135.5 516 137.3 509.4 140.3 509.4 Z" fill="none" stroke="#3a2a9e" stroke-width="1.10"/>
</g></g>
<ellipse cx="140.00" cy="529.00" rx="2.20" ry="1.60" fill="#f0e22c" filter="url(#hb)"/>
<ellipse cx="139.50" cy="530.20" rx="1.20" ry="0.90" fill="#6ad044" filter="url(#hb)"/>
<clipPath id="cp4"><ellipse cx="131.90" cy="523.20" rx="1.60" ry="1.80"/></clipPath>
<g filter="url(#hb)"><g clip-path="url(#cp4)">
<ellipse cx="131.90" cy="523.20" rx="1.60" ry="1.80" fill="#f0e22c"/>
<ellipse cx="131.90" cy="523.20" rx="1.60" ry="1.80" fill="none" stroke="#6ad044" stroke-width="2.73"/>
<ellipse cx="131.90" cy="523.20" rx="1.60" ry="1.80" fill="none" stroke="#2cc2e4" stroke-width="2.10"/>
<ellipse cx="131.90" cy="523.20" rx="1.60" ry="1.80" fill="none" stroke="#2f5ae0" stroke-width="1.47"/>
<ellipse cx="131.90" cy="523.20" rx="1.60" ry="1.80" fill="none" stroke="#3a2a9e" stroke-width="0.77"/>
</g></g>
<clipPath id="cp5"><path d="M156.10 495.80 C161.41 495.80 161.85 498.34 161.41 500.89 C160.97 504.07 162.42 505.34 163.53 509.79 C164.32 514.88 164.47 521.24 163.05 526.01 C160.84 527.92 151.36 527.92 149.15 526.01 C147.73 521.24 147.88 514.88 148.67 509.79 C149.78 505.34 151.23 504.07 150.79 500.89 C150.35 498.34 150.79 495.80 156.10 495.80 Z"/></clipPath>
<g filter="url(#hb)"><g clip-path="url(#cp5)">
<path d="M156.10 495.80 C161.41 495.80 161.85 498.34 161.41 500.89 C160.97 504.07 162.42 505.34 163.53 509.79 C164.32 514.88 164.47 521.24 163.05 526.01 C160.84 527.92 151.36 527.92 149.15 526.01 C147.73 521.24 147.88 514.88 148.67 509.79 C149.78 505.34 151.23 504.07 150.79 500.89 C150.35 498.34 150.79 495.80 156.10 495.80 Z" fill="#e6281c"/>
<path d="M156.10 495.80 C161.41 495.80 161.85 498.34 161.41 500.89 C160.97 504.07 162.42 505.34 163.53 509.79 C164.32 514.88 164.47 521.24 163.05 526.01 C160.84 527.92 151.36 527.92 149.15 526.01 C147.73 521.24 147.88 514.88 148.67 509.79 C149.78 505.34 151.23 504.07 150.79 500.89 C150.35 498.34 150.79 495.80 156.10 495.80 Z" fill="none" stroke="#f0e22c" stroke-width="3.36"/>
<path d="M156.10 495.80 C161.41 495.80 161.85 498.34 161.41 500.89 C160.97 504.07 162.42 505.34 163.53 509.79 C164.32 514.88 164.47 521.24 163.05 526.01 C160.84 527.92 151.36 527.92 149.15 526.01 C147.73 521.24 147.88 514.88 148.67 509.79 C149.78 505.34 151.23 504.07 150.79 500.89 C150.35 498.34 150.79 495.80 156.10 495.80 Z" fill="none" stroke="#6ad044" stroke-width="2.73"/>
<path d="M156.10 495.80 C161.41 495.80 161.85 498.34 161.41 500.89 C160.97 504.07 162.42 505.34 163.53 509.79 C164.32 514.88 164.47 521.24 163.05 526.01 C160.84 527.92 151.36 527.92 149.15 526.01 C147.73 521.24 147.88 514.88 148.67 509.79 C149.78 505.34 151.23 504.07 150.79 500.89 C150.35 498.34 150.79 495.80 156.10 495.80 Z" fill="none" stroke="#2cc2e4" stroke-width="2.10"/>
<path d="M156.10 495.80 C161.41 495.80 161.85 498.34 161.41 500.89 C160.97 504.07 162.42 505.34 163.53 509.79 C164.32 514.88 164.47 521.24 163.05 526.01 C160.84 527.92 151.36 527.92 149.15 526.01 C147.73 521.24 147.88 514.88 148.67 509.79 C149.78 505.34 151.23 504.07 150.79 500.89 C150.35 498.34 150.79 495.80 156.10 495.80 Z" fill="none" stroke="#2f5ae0" stroke-width="1.47"/>
<path d="M156.10 495.80 C161.41 495.80 161.85 498.34 161.41 500.89 C160.97 504.07 162.42 505.34 163.53 509.79 C164.32 514.88 164.47 521.24 163.05 526.01 C160.84 527.92 151.36 527.92 149.15 526.01 C147.73 521.24 147.88 514.88 148.67 509.79 C149.78 505.34 151.23 504.07 150.79 500.89 C150.35 498.34 150.79 495.80 156.10 495.80 Z" fill="none" stroke="#3a2a9e" stroke-width="0.77"/>
</g></g>
<ellipse cx="152.80" cy="504.00" rx="1.30" ry="1.80" fill="#7ad060" filter="url(#hb)"/>
<ellipse cx="158.50" cy="506.50" rx="1.60" ry="1.20" fill="#8ad050" filter="url(#hb)"/>
<clipPath id="cp6"><path d="M178.4 504.6 C180.8 504.6 182.2 509 182.4 513 C182.6 517 182.6 521 181.4 524 C179.4 526.2 177.8 526.6 176.3 529.2 C174.8 526.6 171.8 526.2 169.0 524.8 C167.6 522 168.2 518 170.2 515 C172.8 512 176.0 508.5 178.4 504.6 Z"/></clipPath>
<g filter="url(#hb)"><g clip-path="url(#cp6)">
<path d="M178.4 504.6 C180.8 504.6 182.2 509 182.4 513 C182.6 517 182.6 521 181.4 524 C179.4 526.2 177.8 526.6 176.3 529.2 C174.8 526.6 171.8 526.2 169.0 524.8 C167.6 522 168.2 518 170.2 515 C172.8 512 176.0 508.5 178.4 504.6 Z" fill="#6ad044"/>
<path d="M178.4 504.6 C180.8 504.6 182.2 509 182.4 513 C182.6 517 182.6 521 181.4 524 C179.4 526.2 177.8 526.6 176.3 529.2 C174.8 526.6 171.8 526.2 169.0 524.8 C167.6 522 168.2 518 170.2 515 C172.8 512 176.0 508.5 178.4 504.6 Z" fill="none" stroke="#2cc2e4" stroke-width="3.00"/>
<path d="M178.4 504.6 C180.8 504.6 182.2 509 182.4 513 C182.6 517 182.6 521 181.4 524 C179.4 526.2 177.8 526.6 176.3 529.2 C174.8 526.6 171.8 526.2 169.0 524.8 C167.6 522 168.2 518 170.2 515 C172.8 512 176.0 508.5 178.4 504.6 Z" fill="none" stroke="#2f5ae0" stroke-width="2.10"/>
<path d="M178.4 504.6 C180.8 504.6 182.2 509 182.4 513 C182.6 517 182.6 521 181.4 524 C179.4 526.2 177.8 526.6 176.3 529.2 C174.8 526.6 171.8 526.2 169.0 524.8 C167.6 522 168.2 518 170.2 515 C172.8 512 176.0 508.5 178.4 504.6 Z" fill="none" stroke="#3a2a9e" stroke-width="1.10"/>
</g></g>
<clipPath id="cp7"><path d="M174.0 512.4 C177.6 512.4 179.8 515 179.6 518 C179.4 521.0 176.6 522.0 173.5 521.8 C170.2 521.6 168.8 520.2 169.2 517.4 C169.6 514.6 171.4 512.4 174.0 512.4 Z"/></clipPath>
<g filter="url(#hb)"><g clip-path="url(#cp7)">
<path d="M174.0 512.4 C177.6 512.4 179.8 515 179.6 518 C179.4 521.0 176.6 522.0 173.5 521.8 C170.2 521.6 168.8 520.2 169.2 517.4 C169.6 514.6 171.4 512.4 174.0 512.4 Z" fill="#e6281c"/>
<path d="M174.0 512.4 C177.6 512.4 179.8 515 179.6 518 C179.4 521.0 176.6 522.0 173.5 521.8 C170.2 521.6 168.8 520.2 169.2 517.4 C169.6 514.6 171.4 512.4 174.0 512.4 Z" fill="none" stroke="#f0e22c" stroke-width="1.10"/>
</g></g>
<clipPath id="cp8"><ellipse cx="178.80" cy="500.90" rx="3.30" ry="4.00"/></clipPath>
<g filter="url(#hb)"><g clip-path="url(#cp8)">
<ellipse cx="178.80" cy="500.90" rx="3.30" ry="4.00" fill="#e6281c"/>
<ellipse cx="178.80" cy="500.90" rx="3.30" ry="4.00" fill="none" stroke="#f0e22c" stroke-width="3.36"/>
<ellipse cx="178.80" cy="500.90" rx="3.30" ry="4.00" fill="none" stroke="#6ad044" stroke-width="2.73"/>
<ellipse cx="178.80" cy="500.90" rx="3.30" ry="4.00" fill="none" stroke="#2cc2e4" stroke-width="2.10"/>
<ellipse cx="178.80" cy="500.90" rx="3.30" ry="4.00" fill="none" stroke="#2f5ae0" stroke-width="1.47"/>
<ellipse cx="178.80" cy="500.90" rx="3.30" ry="4.00" fill="none" stroke="#3a2a9e" stroke-width="0.77"/>
</g></g>
<clipPath id="cp9"><path d="M189.0 504.2 C193.5 504.2 198.8 508 200.2 514 C201.2 519 200.8 524 199.4 527.2 C196.8 530.2 191.0 530.4 187.2 529.2 C185.0 527.8 184.6 524 185.0 520 C185.4 515 185.2 509 186.3 506.4 C187.0 504.8 188.0 504.2 189.0 504.2 Z"/></clipPath>
<g filter="url(#hb)"><g clip-path="url(#cp9)">
<path d="M189.0 504.2 C193.5 504.2 198.8 508 200.2 514 C201.2 519 200.8 524 199.4 527.2 C196.8 530.2 191.0 530.4 187.2 529.2 C185.0 527.8 184.6 524 185.0 520 C185.4 515 185.2 509 186.3 506.4 C187.0 504.8 188.0 504.2 189.0 504.2 Z" fill="#2f5ae0"/>
<path d="M189.0 504.2 C193.5 504.2 198.8 508 200.2 514 C201.2 519 200.8 524 199.4 527.2 C196.8 530.2 191.0 530.4 187.2 529.2 C185.0 527.8 184.6 524 185.0 520 C185.4 515 185.2 509 186.3 506.4 C187.0 504.8 188.0 504.2 189.0 504.2 Z" fill="none" stroke="#3a2a9e" stroke-width="1.10"/>
</g></g>
<clipPath id="cp10"><path d="M189.4 509.0 C191.8 509.0 193.4 512.5 195.8 515.0 C198.6 517.6 199.8 521.2 199.4 524.8 C197.4 528.0 192.0 528.4 188.4 527.6 C186.2 526.6 186.0 522.6 186.6 518.8 C187.2 514.6 187.6 509.0 189.4 509.0 Z"/></clipPath>
<g filter="url(#hb)"><g clip-path="url(#cp10)">
<path d="M189.4 509.0 C191.8 509.0 193.4 512.5 195.8 515.0 C198.6 517.6 199.8 521.2 199.4 524.8 C197.4 528.0 192.0 528.4 188.4 527.6 C186.2 526.6 186.0 522.6 186.6 518.8 C187.2 514.6 187.6 509.0 189.4 509.0 Z" fill="#e6281c"/>
<path d="M189.4 509.0 C191.8 509.0 193.4 512.5 195.8 515.0 C198.6 517.6 199.8 521.2 199.4 524.8 C197.4 528.0 192.0 528.4 188.4 527.6 C186.2 526.6 186.0 522.6 186.6 518.8 C187.2 514.6 187.6 509.0 189.4 509.0 Z" fill="none" stroke="#f0e22c" stroke-width="3.36"/>
<path d="M189.4 509.0 C191.8 509.0 193.4 512.5 195.8 515.0 C198.6 517.6 199.8 521.2 199.4 524.8 C197.4 528.0 192.0 528.4 188.4 527.6 C186.2 526.6 186.0 522.6 186.6 518.8 C187.2 514.6 187.6 509.0 189.4 509.0 Z" fill="none" stroke="#6ad044" stroke-width="2.73"/>
<path d="M189.4 509.0 C191.8 509.0 193.4 512.5 195.8 515.0 C198.6 517.6 199.8 521.2 199.4 524.8 C197.4 528.0 192.0 528.4 188.4 527.6 C186.2 526.6 186.0 522.6 186.6 518.8 C187.2 514.6 187.6 509.0 189.4 509.0 Z" fill="none" stroke="#2cc2e4" stroke-width="2.10"/>
<path d="M189.4 509.0 C191.8 509.0 193.4 512.5 195.8 515.0 C198.6 517.6 199.8 521.2 199.4 524.8 C197.4 528.0 192.0 528.4 188.4 527.6 C186.2 526.6 186.0 522.6 186.6 518.8 C187.2 514.6 187.6 509.0 189.4 509.0 Z" fill="none" stroke="#2f5ae0" stroke-width="1.47"/>
<path d="M189.4 509.0 C191.8 509.0 193.4 512.5 195.8 515.0 C198.6 517.6 199.8 521.2 199.4 524.8 C197.4 528.0 192.0 528.4 188.4 527.6 C186.2 526.6 186.0 522.6 186.6 518.8 C187.2 514.6 187.6 509.0 189.4 509.0 Z" fill="none" stroke="#3a2a9e" stroke-width="0.77"/>
</g></g>
<clipPath id="cp11"><ellipse cx="190.10" cy="501.20" rx="3.60" ry="3.10" transform="rotate(-20 190.10 501.20)"/></clipPath>
<g filter="url(#hb)"><g clip-path="url(#cp11)">
<ellipse cx="190.10" cy="501.20" rx="3.60" ry="3.10" transform="rotate(-20 190.10 501.20)" fill="#e6281c"/>
<ellipse cx="190.10" cy="501.20" rx="3.60" ry="3.10" transform="rotate(-20 190.10 501.20)" fill="none" stroke="#f0e22c" stroke-width="3.36"/>
<ellipse cx="190.10" cy="501.20" rx="3.60" ry="3.10" transform="rotate(-20 190.10 501.20)" fill="none" stroke="#6ad044" stroke-width="2.73"/>
<ellipse cx="190.10" cy="501.20" rx="3.60" ry="3.10" transform="rotate(-20 190.10 501.20)" fill="none" stroke="#2cc2e4" stroke-width="2.10"/>
<ellipse cx="190.10" cy="501.20" rx="3.60" ry="3.10" transform="rotate(-20 190.10 501.20)" fill="none" stroke="#2f5ae0" stroke-width="1.47"/>
<ellipse cx="190.10" cy="501.20" rx="3.60" ry="3.10" transform="rotate(-20 190.10 501.20)" fill="none" stroke="#3a2a9e" stroke-width="0.77"/>
</g></g>
<clipPath id="cp12"><path d="M212.50 495.40 C218.68 495.40 219.19 498.02 218.68 500.65 C218.16 503.93 219.14 505.24 220.30 509.83 C221.13 515.08 221.30 521.64 219.80 526.56 C217.48 528.53 207.52 528.53 205.20 526.56 C203.70 521.64 203.87 515.08 204.70 509.83 C205.86 505.24 206.84 503.93 206.32 500.65 C205.81 498.02 206.32 495.40 212.50 495.40 Z"/></clipPath>
<g filter="url(#hb)"><g clip-path="url(#cp12)">
<path d="M212.50 495.40 C218.68 495.40 219.19 498.02 218.68 500.65 C218.16 503.93 219.14 505.24 220.30 509.83 C221.13 515.08 221.30 521.64 219.80 526.56 C217.48 528.53 207.52 528.53 205.20 526.56 C203.70 521.64 203.87 515.08 204.70 509.83 C205.86 505.24 206.84 503.93 206.32 500.65 C205.81 498.02 206.32 495.40 212.50 495.40 Z" fill="#2cc2e4"/>
<path d="M212.50 495.40 C218.68 495.40 219.19 498.02 218.68 500.65 C218.16 503.93 219.14 505.24 220.30 509.83 C221.13 515.08 221.30 521.64 219.80 526.56 C217.48 528.53 207.52 528.53 205.20 526.56 C203.70 521.64 203.87 515.08 204.70 509.83 C205.86 505.24 206.84 503.93 206.32 500.65 C205.81 498.02 206.32 495.40 212.50 495.40 Z" fill="none" stroke="#2f5ae0" stroke-width="2.10"/>
<path d="M212.50 495.40 C218.68 495.40 219.19 498.02 218.68 500.65 C218.16 503.93 219.14 505.24 220.30 509.83 C221.13 515.08 221.30 521.64 219.80 526.56 C217.48 528.53 207.52 528.53 205.20 526.56 C203.70 521.64 203.87 515.08 204.70 509.83 C205.86 505.24 206.84 503.93 206.32 500.65 C205.81 498.02 206.32 495.40 212.50 495.40 Z" fill="none" stroke="#3a2a9e" stroke-width="1.10"/>
</g></g>
<clipPath id="cp13"><path d="M228.50 494.40 C234.38 494.40 234.87 497.04 234.38 499.68 C233.89 502.98 234.82 504.30 235.93 508.92 C236.72 514.20 236.87 520.80 235.45 525.75 C233.24 527.73 223.76 527.73 221.55 525.75 C220.13 520.80 220.28 514.20 221.07 508.92 C222.18 504.30 223.11 502.98 222.62 499.68 C222.13 497.04 222.62 494.40 228.50 494.40 Z"/></clipPath>
<g filter="url(#hb)"><g clip-path="url(#cp13)">
<path d="M228.50 494.40 C234.38 494.40 234.87 497.04 234.38 499.68 C233.89 502.98 234.82 504.30 235.93 508.92 C236.72 514.20 236.87 520.80 235.45 525.75 C233.24 527.73 223.76 527.73 221.55 525.75 C220.13 520.80 220.28 514.20 221.07 508.92 C222.18 504.30 223.11 502.98 222.62 499.68 C222.13 497.04 222.62 494.40 228.50 494.40 Z" fill="#2cc2e4"/>
<path d="M228.50 494.40 C234.38 494.40 234.87 497.04 234.38 499.68 C233.89 502.98 234.82 504.30 235.93 508.92 C236.72 514.20 236.87 520.80 235.45 525.75 C233.24 527.73 223.76 527.73 221.55 525.75 C220.13 520.80 220.28 514.20 221.07 508.92 C222.18 504.30 223.11 502.98 222.62 499.68 C222.13 497.04 222.62 494.40 228.50 494.40 Z" fill="none" stroke="#2f5ae0" stroke-width="2.10"/>
<path d="M228.50 494.40 C234.38 494.40 234.87 497.04 234.38 499.68 C233.89 502.98 234.82 504.30 235.93 508.92 C236.72 514.20 236.87 520.80 235.45 525.75 C233.24 527.73 223.76 527.73 221.55 525.75 C220.13 520.80 220.28 514.20 221.07 508.92 C222.18 504.30 223.11 502.98 222.62 499.68 C222.13 497.04 222.62 494.40 228.50 494.40 Z" fill="none" stroke="#3a2a9e" stroke-width="1.10"/>
</g></g>
<clipPath id="cp14"><ellipse cx="213.00" cy="500.40" rx="5.00" ry="5.90"/></clipPath>
<g filter="url(#hb)"><g clip-path="url(#cp14)">
<ellipse cx="213.00" cy="500.40" rx="5.00" ry="5.90" fill="#e6281c"/>
<ellipse cx="213.00" cy="500.40" rx="5.00" ry="5.90" fill="none" stroke="#f0e22c" stroke-width="3.36"/>
<ellipse cx="213.00" cy="500.40" rx="5.00" ry="5.90" fill="none" stroke="#6ad044" stroke-width="2.73"/>
<ellipse cx="213.00" cy="500.40" rx="5.00" ry="5.90" fill="none" stroke="#2cc2e4" stroke-width="2.10"/>
<ellipse cx="213.00" cy="500.40" rx="5.00" ry="5.90" fill="none" stroke="#2f5ae0" stroke-width="1.47"/>
<ellipse cx="213.00" cy="500.40" rx="5.00" ry="5.90" fill="none" stroke="#3a2a9e" stroke-width="0.77"/>
</g></g>
<clipPath id="cp15"><path d="M212.5 506.6 C217.5 506.6 220.8 510 220.8 516 C220.8 521.5 218.5 525 213.5 527.0 C211.5 528.5 211.0 528.5 209.5 527.0 C205.5 525.0 204.0 521.5 204.0 516.5 C204.0 510.5 207.5 506.6 212.5 506.6 Z"/></clipPath>
<g filter="url(#hb)"><g clip-path="url(#cp15)">
<path d="M212.5 506.6 C217.5 506.6 220.8 510 220.8 516 C220.8 521.5 218.5 525 213.5 527.0 C211.5 528.5 211.0 528.5 209.5 527.0 C205.5 525.0 204.0 521.5 204.0 516.5 C204.0 510.5 207.5 506.6 212.5 506.6 Z" fill="#e6281c"/>
<path d="M212.5 506.6 C217.5 506.6 220.8 510 220.8 516 C220.8 521.5 218.5 525 213.5 527.0 C211.5 528.5 211.0 528.5 209.5 527.0 C205.5 525.0 204.0 521.5 204.0 516.5 C204.0 510.5 207.5 506.6 212.5 506.6 Z" fill="none" stroke="#f0e22c" stroke-width="3.36"/>
<path d="M212.5 506.6 C217.5 506.6 220.8 510 220.8 516 C220.8 521.5 218.5 525 213.5 527.0 C211.5 528.5 211.0 528.5 209.5 527.0 C205.5 525.0 204.0 521.5 204.0 516.5 C204.0 510.5 207.5 506.6 212.5 506.6 Z" fill="none" stroke="#6ad044" stroke-width="2.73"/>
<path d="M212.5 506.6 C217.5 506.6 220.8 510 220.8 516 C220.8 521.5 218.5 525 213.5 527.0 C211.5 528.5 211.0 528.5 209.5 527.0 C205.5 525.0 204.0 521.5 204.0 516.5 C204.0 510.5 207.5 506.6 212.5 506.6 Z" fill="none" stroke="#2cc2e4" stroke-width="2.10"/>
<path d="M212.5 506.6 C217.5 506.6 220.8 510 220.8 516 C220.8 521.5 218.5 525 213.5 527.0 C211.5 528.5 211.0 528.5 209.5 527.0 C205.5 525.0 204.0 521.5 204.0 516.5 C204.0 510.5 207.5 506.6 212.5 506.6 Z" fill="none" stroke="#2f5ae0" stroke-width="1.47"/>
<path d="M212.5 506.6 C217.5 506.6 220.8 510 220.8 516 C220.8 521.5 218.5 525 213.5 527.0 C211.5 528.5 211.0 528.5 209.5 527.0 C205.5 525.0 204.0 521.5 204.0 516.5 C204.0 510.5 207.5 506.6 212.5 506.6 Z" fill="none" stroke="#3a2a9e" stroke-width="0.77"/>
</g></g>
<ellipse cx="208.20" cy="514.00" rx="1.60" ry="1.20" fill="#8ad050" filter="url(#hb)"/>
<clipPath id="cp16"><ellipse cx="229.00" cy="499.40" rx="4.90" ry="4.60"/></clipPath>
<g filter="url(#hb)"><g clip-path="url(#cp16)">
<ellipse cx="229.00" cy="499.40" rx="4.90" ry="4.60" fill="#e6281c"/>
<ellipse cx="229.00" cy="499.40" rx="4.90" ry="4.60" fill="none" stroke="#f0e22c" stroke-width="3.36"/>
<ellipse cx="229.00" cy="499.40" rx="4.90" ry="4.60" fill="none" stroke="#6ad044" stroke-width="2.73"/>
<ellipse cx="229.00" cy="499.40" rx="4.90" ry="4.60" fill="none" stroke="#2cc2e4" stroke-width="2.10"/>
<ellipse cx="229.00" cy="499.40" rx="4.90" ry="4.60" fill="none" stroke="#2f5ae0" stroke-width="1.47"/>
<ellipse cx="229.00" cy="499.40" rx="4.90" ry="4.60" fill="none" stroke="#3a2a9e" stroke-width="0.77"/>
</g></g>
<clipPath id="cp17"><path d="M229.5 505.0 C233.0 505.0 235.2 509 235.4 514 C235.8 519 235.0 523 231.5 525.5 C228.5 527.2 225.0 527.0 222.5 525.0 C220.6 522.5 220.6 518.5 221.4 515.0 C222.4 511.0 225.0 505.0 229.5 505.0 Z"/></clipPath>
<g filter="url(#hb)"><g clip-path="url(#cp17)">
<path d="M229.5 505.0 C233.0 505.0 235.2 509 235.4 514 C235.8 519 235.0 523 231.5 525.5 C228.5 527.2 225.0 527.0 222.5 525.0 C220.6 522.5 220.6 518.5 221.4 515.0 C222.4 511.0 225.0 505.0 229.5 505.0 Z" fill="#e6281c"/>
<path d="M229.5 505.0 C233.0 505.0 235.2 509 235.4 514 C235.8 519 235.0 523 231.5 525.5 C228.5 527.2 225.0 527.0 222.5 525.0 C220.6 522.5 220.6 518.5 221.4 515.0 C222.4 511.0 225.0 505.0 229.5 505.0 Z" fill="none" stroke="#f0e22c" stroke-width="3.36"/>
<path d="M229.5 505.0 C233.0 505.0 235.2 509 235.4 514 C235.8 519 235.0 523 231.5 525.5 C228.5 527.2 225.0 527.0 222.5 525.0 C220.6 522.5 220.6 518.5 221.4 515.0 C222.4 511.0 225.0 505.0 229.5 505.0 Z" fill="none" stroke="#6ad044" stroke-width="2.73"/>
<path d="M229.5 505.0 C233.0 505.0 235.2 509 235.4 514 C235.8 519 235.0 523 231.5 525.5 C228.5 527.2 225.0 527.0 222.5 525.0 C220.6 522.5 220.6 518.5 221.4 515.0 C222.4 511.0 225.0 505.0 229.5 505.0 Z" fill="none" stroke="#2cc2e4" stroke-width="2.10"/>
<path d="M229.5 505.0 C233.0 505.0 235.2 509 235.4 514 C235.8 519 235.0 523 231.5 525.5 C228.5 527.2 225.0 527.0 222.5 525.0 C220.6 522.5 220.6 518.5 221.4 515.0 C222.4 511.0 225.0 505.0 229.5 505.0 Z" fill="none" stroke="#2f5ae0" stroke-width="1.47"/>
<path d="M229.5 505.0 C233.0 505.0 235.2 509 235.4 514 C235.8 519 235.0 523 231.5 525.5 C228.5 527.2 225.0 527.0 222.5 525.0 C220.6 522.5 220.6 518.5 221.4 515.0 C222.4 511.0 225.0 505.0 229.5 505.0 Z" fill="none" stroke="#3a2a9e" stroke-width="0.77"/>
</g></g>
<ellipse cx="224.20" cy="510.50" rx="1.80" ry="2.50" fill="#8070c0" filter="url(#hb)"/>
<ellipse cx="86.50" cy="544.00" rx="0.70" ry="0.70" fill="#5a40c0" filter="url(#hb)"/>
<clipPath id="cp18"><ellipse cx="99.60" cy="542.80" rx="1.40" ry="1.70"/></clipPath>
<g filter="url(#hb)"><g clip-path="url(#cp18)">
<ellipse cx="99.60" cy="542.80" rx="1.40" ry="1.70" fill="#2cc2e4"/>
<ellipse cx="99.60" cy="542.80" rx="1.40" ry="1.70" fill="none" stroke="#2f5ae0" stroke-width="1.47"/>
<ellipse cx="99.60" cy="542.80" rx="1.40" ry="1.70" fill="none" stroke="#3a2a9e" stroke-width="0.77"/>
</g></g>
<clipPath id="cp19"><path d="M102.4 551.5 C104.4 551.5 105.2 555 105.6 558.5 C107.5 560 109.8 561.5 109.8 564.5 C109.8 568 107.5 570.5 104.5 571.4 C102 572 98 572 95.5 571 C93.8 569 93.9 565.5 95.5 563 C96.6 561.2 98.8 560 99.2 558.5 C99.6 555 100.4 551.5 102.4 551.5 Z"/></clipPath>
<g filter="url(#hb)"><g clip-path="url(#cp19)">
<path d="M102.4 551.5 C104.4 551.5 105.2 555 105.6 558.5 C107.5 560 109.8 561.5 109.8 564.5 C109.8 568 107.5 570.5 104.5 571.4 C102 572 98 572 95.5 571 C93.8 569 93.9 565.5 95.5 563 C96.6 561.2 98.8 560 99.2 558.5 C99.6 555 100.4 551.5 102.4 551.5 Z" fill="#f0e22c"/>
<path d="M102.4 551.5 C104.4 551.5 105.2 555 105.6 558.5 C107.5 560 109.8 561.5 109.8 564.5 C109.8 568 107.5 570.5 104.5 571.4 C102 572 98 572 95.5 571 C93.8 569 93.9 565.5 95.5 563 C96.6 561.2 98.8 560 99.2 558.5 C99.6 555 100.4 551.5 102.4 551.5 Z" fill="none" stroke="#6ad044" stroke-width="7.02"/>
<path d="M102.4 551.5 C104.4 551.5 105.2 555 105.6 558.5 C107.5 560 109.8 561.5 109.8 564.5 C109.8 568 107.5 570.5 104.5 571.4 C102 572 98 572 95.5 571 C93.8 569 93.9 565.5 95.5 563 C96.6 561.2 98.8 560 99.2 558.5 C99.6 555 100.4 551.5 102.4 551.5 Z" fill="none" stroke="#2cc2e4" stroke-width="5.40"/>
<path d="M102.4 551.5 C104.4 551.5 105.2 555 105.6 558.5 C107.5 560 109.8 561.5 109.8 564.5 C109.8 568 107.5 570.5 104.5 571.4 C102 572 98 572 95.5 571 C93.8 569 93.9 565.5 95.5 563 C96.6 561.2 98.8 560 99.2 558.5 C99.6 555 100.4 551.5 102.4 551.5 Z" fill="none" stroke="#2f5ae0" stroke-width="3.78"/>
<path d="M102.4 551.5 C104.4 551.5 105.2 555 105.6 558.5 C107.5 560 109.8 561.5 109.8 564.5 C109.8 568 107.5 570.5 104.5 571.4 C102 572 98 572 95.5 571 C93.8 569 93.9 565.5 95.5 563 C96.6 561.2 98.8 560 99.2 558.5 C99.6 555 100.4 551.5 102.4 551.5 Z" fill="none" stroke="#3a2a9e" stroke-width="1.98"/>
</g></g>
<clipPath id="cp20"><ellipse cx="118.00" cy="541.20" rx="2.20" ry="2.40"/></clipPath>
<g filter="url(#hb)"><g clip-path="url(#cp20)">
<ellipse cx="118.00" cy="541.20" rx="2.20" ry="2.40" fill="#6ad044"/>
<ellipse cx="118.00" cy="541.20" rx="2.20" ry="2.40" fill="none" stroke="#2cc2e4" stroke-width="2.10"/>
<ellipse cx="118.00" cy="541.20" rx="2.20" ry="2.40" fill="none" stroke="#2f5ae0" stroke-width="1.47"/>
<ellipse cx="118.00" cy="541.20" rx="2.20" ry="2.40" fill="none" stroke="#3a2a9e" stroke-width="0.77"/>
</g></g>
<clipPath id="cp21"><ellipse cx="114.30" cy="546.90" rx="1.60" ry="2.20"/></clipPath>
<g filter="url(#hb)"><g clip-path="url(#cp21)">
<ellipse cx="114.30" cy="546.90" rx="1.60" ry="2.20" fill="#2cc2e4"/>
<ellipse cx="114.30" cy="546.90" rx="1.60" ry="2.20" fill="none" stroke="#2f5ae0" stroke-width="1.47"/>
<ellipse cx="114.30" cy="546.90" rx="1.60" ry="2.20" fill="none" stroke="#3a2a9e" stroke-width="0.77"/>
</g></g>
<clipPath id="cp22"><ellipse cx="122.30" cy="544.90" rx="1.40" ry="1.60"/></clipPath>
<g filter="url(#hb)"><g clip-path="url(#cp22)">
<ellipse cx="122.30" cy="544.90" rx="1.40" ry="1.60" fill="#2cc2e4"/>
<ellipse cx="122.30" cy="544.90" rx="1.40" ry="1.60" fill="none" stroke="#2f5ae0" stroke-width="1.47"/>
<ellipse cx="122.30" cy="544.90" rx="1.40" ry="1.60" fill="none" stroke="#3a2a9e" stroke-width="0.77"/>
</g></g>
<clipPath id="cp23"><path d="M119.0 551.0 C121.0 551.0 121.8 554.5 122.4 557.0 C124.6 558.0 127.6 559.5 127.6 563.0 C127.6 567.0 124.5 569.5 119.5 569.8 C115.5 570.0 111.2 568.0 111.2 563.5 C111.2 560.0 114.0 558.5 116.0 557.0 C116.6 554.5 117.2 551.0 119.0 551.0 Z"/></clipPath>
<g filter="url(#hb)"><g clip-path="url(#cp23)">
<path d="M119.0 551.0 C121.0 551.0 121.8 554.5 122.4 557.0 C124.6 558.0 127.6 559.5 127.6 563.0 C127.6 567.0 124.5 569.5 119.5 569.8 C115.5 570.0 111.2 568.0 111.2 563.5 C111.2 560.0 114.0 558.5 116.0 557.0 C116.6 554.5 117.2 551.0 119.0 551.0 Z" fill="#e6281c"/>
<path d="M119.0 551.0 C121.0 551.0 121.8 554.5 122.4 557.0 C124.6 558.0 127.6 559.5 127.6 563.0 C127.6 567.0 124.5 569.5 119.5 569.8 C115.5 570.0 111.2 568.0 111.2 563.5 C111.2 560.0 114.0 558.5 116.0 557.0 C116.6 554.5 117.2 551.0 119.0 551.0 Z" fill="none" stroke="#f0e22c" stroke-width="8.64"/>
<path d="M119.0 551.0 C121.0 551.0 121.8 554.5 122.4 557.0 C124.6 558.0 127.6 559.5 127.6 563.0 C127.6 567.0 124.5 569.5 119.5 569.8 C115.5 570.0 111.2 568.0 111.2 563.5 C111.2 560.0 114.0 558.5 116.0 557.0 C116.6 554.5 117.2 551.0 119.0 551.0 Z" fill="none" stroke="#6ad044" stroke-width="7.02"/>
<path d="M119.0 551.0 C121.0 551.0 121.8 554.5 122.4 557.0 C124.6 558.0 127.6 559.5 127.6 563.0 C127.6 567.0 124.5 569.5 119.5 569.8 C115.5 570.0 111.2 568.0 111.2 563.5 C111.2 560.0 114.0 558.5 116.0 557.0 C116.6 554.5 117.2 551.0 119.0 551.0 Z" fill="none" stroke="#2cc2e4" stroke-width="5.40"/>
<path d="M119.0 551.0 C121.0 551.0 121.8 554.5 122.4 557.0 C124.6 558.0 127.6 559.5 127.6 563.0 C127.6 567.0 124.5 569.5 119.5 569.8 C115.5 570.0 111.2 568.0 111.2 563.5 C111.2 560.0 114.0 558.5 116.0 557.0 C116.6 554.5 117.2 551.0 119.0 551.0 Z" fill="none" stroke="#2f5ae0" stroke-width="3.78"/>
<path d="M119.0 551.0 C121.0 551.0 121.8 554.5 122.4 557.0 C124.6 558.0 127.6 559.5 127.6 563.0 C127.6 567.0 124.5 569.5 119.5 569.8 C115.5 570.0 111.2 568.0 111.2 563.5 C111.2 560.0 114.0 558.5 116.0 557.0 C116.6 554.5 117.2 551.0 119.0 551.0 Z" fill="none" stroke="#3a2a9e" stroke-width="1.98"/>
</g></g>
<clipPath id="cp24"><ellipse cx="156.20" cy="542.10" rx="3.40" ry="3.60"/></clipPath>
<g filter="url(#hb)"><g clip-path="url(#cp24)">
<ellipse cx="156.20" cy="542.10" rx="3.40" ry="3.60" fill="#e6281c"/>
<ellipse cx="156.20" cy="542.10" rx="3.40" ry="3.60" fill="none" stroke="#f0e22c" stroke-width="3.36"/>
<ellipse cx="156.20" cy="542.10" rx="3.40" ry="3.60" fill="none" stroke="#6ad044" stroke-width="2.73"/>
<ellipse cx="156.20" cy="542.10" rx="3.40" ry="3.60" fill="none" stroke="#2cc2e4" stroke-width="2.10"/>
<ellipse cx="156.20" cy="542.10" rx="3.40" ry="3.60" fill="none" stroke="#2f5ae0" stroke-width="1.47"/>
<ellipse cx="156.20" cy="542.10" rx="3.40" ry="3.60" fill="none" stroke="#3a2a9e" stroke-width="0.77"/>
</g></g>
<ellipse cx="150.50" cy="562.00" rx="0.80" ry="0.80" fill="#6040c0" filter="url(#hb)"/>
<clipPath id="cp25"><ellipse cx="191.70" cy="541.00" rx="3.00" ry="2.60"/></clipPath>
<g filter="url(#hb)"><g clip-path="url(#cp25)">
<ellipse cx="191.70" cy="541.00" rx="3.00" ry="2.60" fill="#e6281c"/>
<ellipse cx="191.70" cy="541.00" rx="3.00" ry="2.60" fill="none" stroke="#f0e22c" stroke-width="3.36"/>
<ellipse cx="191.70" cy="541.00" rx="3.00" ry="2.60" fill="none" stroke="#6ad044" stroke-width="2.73"/>
<ellipse cx="191.70" cy="541.00" rx="3.00" ry="2.60" fill="none" stroke="#2cc2e4" stroke-width="2.10"/>
<ellipse cx="191.70" cy="541.00" rx="3.00" ry="2.60" fill="none" stroke="#2f5ae0" stroke-width="1.47"/>
<ellipse cx="191.70" cy="541.00" rx="3.00" ry="2.60" fill="none" stroke="#3a2a9e" stroke-width="0.77"/>
</g></g>
<clipPath id="cp26"><path d="M185.6 559.5 C187.0 557.5 189.5 558.5 191.5 557.6 C194.0 556.8 197.0 557.2 199.4 558.5 C200.8 560.5 200.6 564.5 198.6 565.8 C195.5 566.8 190.5 566.6 187.0 566.2 C185.0 565.5 184.8 561.5 185.6 559.5 Z"/></clipPath>
<g filter="url(#hb)"><g clip-path="url(#cp26)">
<path d="M185.6 559.5 C187.0 557.5 189.5 558.5 191.5 557.6 C194.0 556.8 197.0 557.2 199.4 558.5 C200.8 560.5 200.6 564.5 198.6 565.8 C195.5 566.8 190.5 566.6 187.0 566.2 C185.0 565.5 184.8 561.5 185.6 559.5 Z" fill="#e6281c"/>
<path d="M185.6 559.5 C187.0 557.5 189.5 558.5 191.5 557.6 C194.0 556.8 197.0 557.2 199.4 558.5 C200.8 560.5 200.6 564.5 198.6 565.8 C195.5 566.8 190.5 566.6 187.0 566.2 C185.0 565.5 184.8 561.5 185.6 559.5 Z" fill="none" stroke="#f0e22c" stroke-width="4.80"/>
<path d="M185.6 559.5 C187.0 557.5 189.5 558.5 191.5 557.6 C194.0 556.8 197.0 557.2 199.4 558.5 C200.8 560.5 200.6 564.5 198.6 565.8 C195.5 566.8 190.5 566.6 187.0 566.2 C185.0 565.5 184.8 561.5 185.6 559.5 Z" fill="none" stroke="#6ad044" stroke-width="3.90"/>
<path d="M185.6 559.5 C187.0 557.5 189.5 558.5 191.5 557.6 C194.0 556.8 197.0 557.2 199.4 558.5 C200.8 560.5 200.6 564.5 198.6 565.8 C195.5 566.8 190.5 566.6 187.0 566.2 C185.0 565.5 184.8 561.5 185.6 559.5 Z" fill="none" stroke="#2cc2e4" stroke-width="3.00"/>
<path d="M185.6 559.5 C187.0 557.5 189.5 558.5 191.5 557.6 C194.0 556.8 197.0 557.2 199.4 558.5 C200.8 560.5 200.6 564.5 198.6 565.8 C195.5 566.8 190.5 566.6 187.0 566.2 C185.0 565.5 184.8 561.5 185.6 559.5 Z" fill="none" stroke="#2f5ae0" stroke-width="2.10"/>
<path d="M185.6 559.5 C187.0 557.5 189.5 558.5 191.5 557.6 C194.0 556.8 197.0 557.2 199.4 558.5 C200.8 560.5 200.6 564.5 198.6 565.8 C195.5 566.8 190.5 566.6 187.0 566.2 C185.0 565.5 184.8 561.5 185.6 559.5 Z" fill="none" stroke="#3a2a9e" stroke-width="1.10"/>
</g></g>
<clipPath id="cp27"><ellipse cx="210.20" cy="540.60" rx="1.20" ry="1.20"/></clipPath>
<g filter="url(#hb)"><g clip-path="url(#cp27)">
<ellipse cx="210.20" cy="540.60" rx="1.20" ry="1.20" fill="#2cc2e4"/>
<ellipse cx="210.20" cy="540.60" rx="1.20" ry="1.20" fill="none" stroke="#2f5ae0" stroke-width="1.47"/>
<ellipse cx="210.20" cy="540.60" rx="1.20" ry="1.20" fill="none" stroke="#3a2a9e" stroke-width="0.77"/>
</g></g>
<clipPath id="cp28"><ellipse cx="230.50" cy="541.00" rx="3.20" ry="2.60"/></clipPath>
<g filter="url(#hb)"><g clip-path="url(#cp28)">
<ellipse cx="230.50" cy="541.00" rx="3.20" ry="2.60" fill="#e6281c"/>
<ellipse cx="230.50" cy="541.00" rx="3.20" ry="2.60" fill="none" stroke="#f0e22c" stroke-width="3.36"/>
<ellipse cx="230.50" cy="541.00" rx="3.20" ry="2.60" fill="none" stroke="#6ad044" stroke-width="2.73"/>
<ellipse cx="230.50" cy="541.00" rx="3.20" ry="2.60" fill="none" stroke="#2cc2e4" stroke-width="2.10"/>
<ellipse cx="230.50" cy="541.00" rx="3.20" ry="2.60" fill="none" stroke="#2f5ae0" stroke-width="1.47"/>
<ellipse cx="230.50" cy="541.00" rx="3.20" ry="2.60" fill="none" stroke="#3a2a9e" stroke-width="0.77"/>
</g></g>
<ellipse cx="230.50" cy="553.80" rx="0.80" ry="1.00" fill="#5a40c0" filter="url(#hb)"/>
<ellipse cx="222.80" cy="559.90" rx="0.80" ry="1.00" fill="#5a40c0" filter="url(#hb)"/>
<clipPath id="cp29"><path d="M221.6 561.5 C222.5 558.8 226.0 558.4 229.0 558.2 C232.5 558.0 236.0 558.6 237.0 561.0 C237.8 564.0 236.5 567.5 233.5 568.8 C231.0 570.0 229.5 571.5 228.5 571.6 C227.5 571.5 225.5 569.8 223.5 568.8 C221.5 567.5 220.8 564.0 221.6 561.5 Z"/></clipPath>
<g filter="url(#hb)"><g clip-path="url(#cp29)">
<path d="M221.6 561.5 C222.5 558.8 226.0 558.4 229.0 558.2 C232.5 558.0 236.0 558.6 237.0 561.0 C237.8 564.0 236.5 567.5 233.5 568.8 C231.0 570.0 229.5 571.5 228.5 571.6 C227.5 571.5 225.5 569.8 223.5 568.8 C221.5 567.5 220.8 564.0 221.6 561.5 Z" fill="#e6281c"/>
<path d="M221.6 561.5 C222.5 558.8 226.0 558.4 229.0 558.2 C232.5 558.0 236.0 558.6 237.0 561.0 C237.8 564.0 236.5 567.5 233.5 568.8 C231.0 570.0 229.5 571.5 228.5 571.6 C227.5 571.5 225.5 569.8 223.5 568.8 C221.5 567.5 220.8 564.0 221.6 561.5 Z" fill="none" stroke="#f0e22c" stroke-width="4.80"/>
<path d="M221.6 561.5 C222.5 558.8 226.0 558.4 229.0 558.2 C232.5 558.0 236.0 558.6 237.0 561.0 C237.8 564.0 236.5 567.5 233.5 568.8 C231.0 570.0 229.5 571.5 228.5 571.6 C227.5 571.5 225.5 569.8 223.5 568.8 C221.5 567.5 220.8 564.0 221.6 561.5 Z" fill="none" stroke="#6ad044" stroke-width="3.90"/>
<path d="M221.6 561.5 C222.5 558.8 226.0 558.4 229.0 558.2 C232.5 558.0 236.0 558.6 237.0 561.0 C237.8 564.0 236.5 567.5 233.5 568.8 C231.0 570.0 229.5 571.5 228.5 571.6 C227.5 571.5 225.5 569.8 223.5 568.8 C221.5 567.5 220.8 564.0 221.6 561.5 Z" fill="none" stroke="#2cc2e4" stroke-width="3.00"/>
<path d="M221.6 561.5 C222.5 558.8 226.0 558.4 229.0 558.2 C232.5 558.0 236.0 558.6 237.0 561.0 C237.8 564.0 236.5 567.5 233.5 568.8 C231.0 570.0 229.5 571.5 228.5 571.6 C227.5 571.5 225.5 569.8 223.5 568.8 C221.5 567.5 220.8 564.0 221.6 561.5 Z" fill="none" stroke="#2f5ae0" stroke-width="2.10"/>
<path d="M221.6 561.5 C222.5 558.8 226.0 558.4 229.0 558.2 C232.5 558.0 236.0 558.6 237.0 561.0 C237.8 564.0 236.5 567.5 233.5 568.8 C231.0 570.0 229.5 571.5 228.5 571.6 C227.5 571.5 225.5 569.8 223.5 568.8 C221.5 567.5 220.8 564.0 221.6 561.5 Z" fill="none" stroke="#3a2a9e" stroke-width="1.10"/>
</g></g>
<ellipse cx="79.90" cy="597.00" rx="0.80" ry="0.80" fill="#6040c0" filter="url(#hb)"/>
<clipPath id="cp30"><ellipse cx="121.90" cy="588.20" rx="2.60" ry="2.40"/></clipPath>
<g filter="url(#hb)"><g clip-path="url(#cp30)">
<ellipse cx="121.90" cy="588.20" rx="2.60" ry="2.40" fill="#e6281c"/>
<ellipse cx="121.90" cy="588.20" rx="2.60" ry="2.40" fill="none" stroke="#f0e22c" stroke-width="3.36"/>
<ellipse cx="121.90" cy="588.20" rx="2.60" ry="2.40" fill="none" stroke="#6ad044" stroke-width="2.73"/>
<ellipse cx="121.90" cy="588.20" rx="2.60" ry="2.40" fill="none" stroke="#2cc2e4" stroke-width="2.10"/>
<ellipse cx="121.90" cy="588.20" rx="2.60" ry="2.40" fill="none" stroke="#2f5ae0" stroke-width="1.47"/>
<ellipse cx="121.90" cy="588.20" rx="2.60" ry="2.40" fill="none" stroke="#3a2a9e" stroke-width="0.77"/>
</g></g>
<clipPath id="cp31"><path d="M118.0 595.0 C120.0 594.6 121.2 597 121.0 600 C120.8 603 121.4 606 120.5 608.6 C119.0 610.0 116.5 609.8 114.0 609.4 C112.8 608.5 113.6 606.0 115.0 604.5 C116.0 601.5 116.2 595.4 118.0 595.0 Z"/></clipPath>
<g filter="url(#hb)"><g clip-path="url(#cp31)">
<path d="M118.0 595.0 C120.0 594.6 121.2 597 121.0 600 C120.8 603 121.4 606 120.5 608.6 C119.0 610.0 116.5 609.8 114.0 609.4 C112.8 608.5 113.6 606.0 115.0 604.5 C116.0 601.5 116.2 595.4 118.0 595.0 Z" fill="#6ad044"/>
<path d="M118.0 595.0 C120.0 594.6 121.2 597 121.0 600 C120.8 603 121.4 606 120.5 608.6 C119.0 610.0 116.5 609.8 114.0 609.4 C112.8 608.5 113.6 606.0 115.0 604.5 C116.0 601.5 116.2 595.4 118.0 595.0 Z" fill="none" stroke="#2cc2e4" stroke-width="3.00"/>
<path d="M118.0 595.0 C120.0 594.6 121.2 597 121.0 600 C120.8 603 121.4 606 120.5 608.6 C119.0 610.0 116.5 609.8 114.0 609.4 C112.8 608.5 113.6 606.0 115.0 604.5 C116.0 601.5 116.2 595.4 118.0 595.0 Z" fill="none" stroke="#2f5ae0" stroke-width="2.10"/>
<path d="M118.0 595.0 C120.0 594.6 121.2 597 121.0 600 C120.8 603 121.4 606 120.5 608.6 C119.0 610.0 116.5 609.8 114.0 609.4 C112.8 608.5 113.6 606.0 115.0 604.5 C116.0 601.5 116.2 595.4 118.0 595.0 Z" fill="none" stroke="#3a2a9e" stroke-width="1.10"/>
</g></g>
<ellipse cx="124.50" cy="607.00" rx="0.80" ry="0.90" fill="#5040c0" filter="url(#hb)"/>
<clipPath id="cp32"><ellipse cx="152.80" cy="585.70" rx="3.50" ry="3.50"/></clipPath>
<g filter="url(#hb)"><g clip-path="url(#cp32)">
<ellipse cx="152.80" cy="585.70" rx="3.50" ry="3.50" fill="#e6281c"/>
<ellipse cx="152.80" cy="585.70" rx="3.50" ry="3.50" fill="none" stroke="#f0e22c" stroke-width="3.36"/>
<ellipse cx="152.80" cy="585.70" rx="3.50" ry="3.50" fill="none" stroke="#6ad044" stroke-width="2.73"/>
<ellipse cx="152.80" cy="585.70" rx="3.50" ry="3.50" fill="none" stroke="#2cc2e4" stroke-width="2.10"/>
<ellipse cx="152.80" cy="585.70" rx="3.50" ry="3.50" fill="none" stroke="#2f5ae0" stroke-width="1.47"/>
<ellipse cx="152.80" cy="585.70" rx="3.50" ry="3.50" fill="none" stroke="#3a2a9e" stroke-width="0.77"/>
</g></g>
<clipPath id="cp33"><ellipse cx="149.00" cy="607.80" rx="1.80" ry="1.80"/></clipPath>
<g filter="url(#hb)"><g clip-path="url(#cp33)">
<ellipse cx="149.00" cy="607.80" rx="1.80" ry="1.80" fill="#6ad044"/>
<ellipse cx="149.00" cy="607.80" rx="1.80" ry="1.80" fill="none" stroke="#2cc2e4" stroke-width="2.10"/>
<ellipse cx="149.00" cy="607.80" rx="1.80" ry="1.80" fill="none" stroke="#2f5ae0" stroke-width="1.47"/>
<ellipse cx="149.00" cy="607.80" rx="1.80" ry="1.80" fill="none" stroke="#3a2a9e" stroke-width="0.77"/>
</g></g>
<ellipse cx="155.00" cy="603.30" rx="0.80" ry="0.80" fill="#6040c0" filter="url(#hb)"/>
<clipPath id="cp34"><ellipse cx="194.40" cy="584.10" rx="2.80" ry="2.60"/></clipPath>
<g filter="url(#hb)"><g clip-path="url(#cp34)">
<ellipse cx="194.40" cy="584.10" rx="2.80" ry="2.60" fill="#f0e22c"/>
<ellipse cx="194.40" cy="584.10" rx="2.80" ry="2.60" fill="none" stroke="#6ad044" stroke-width="2.73"/>
<ellipse cx="194.40" cy="584.10" rx="2.80" ry="2.60" fill="none" stroke="#2cc2e4" stroke-width="2.10"/>
<ellipse cx="194.40" cy="584.10" rx="2.80" ry="2.60" fill="none" stroke="#2f5ae0" stroke-width="1.47"/>
<ellipse cx="194.40" cy="584.10" rx="2.80" ry="2.60" fill="none" stroke="#3a2a9e" stroke-width="0.77"/>
</g></g>
<clipPath id="cp35"><ellipse cx="229.80" cy="585.30" rx="2.20" ry="2.00"/></clipPath>
<g filter="url(#hb)"><g clip-path="url(#cp35)">
<ellipse cx="229.80" cy="585.30" rx="2.20" ry="2.00" fill="#f0e22c"/>
<ellipse cx="229.80" cy="585.30" rx="2.20" ry="2.00" fill="none" stroke="#6ad044" stroke-width="2.73"/>
<ellipse cx="229.80" cy="585.30" rx="2.20" ry="2.00" fill="none" stroke="#2cc2e4" stroke-width="2.10"/>
<ellipse cx="229.80" cy="585.30" rx="2.20" ry="2.00" fill="none" stroke="#2f5ae0" stroke-width="1.47"/>
<ellipse cx="229.80" cy="585.30" rx="2.20" ry="2.00" fill="none" stroke="#3a2a9e" stroke-width="0.77"/>
</g></g>
<text x="8.20" y="651.00" font-size="8.7" textLength="54.00" lengthAdjust="spacingAndGlyphs" fill="#231f20" transform="rotate(-90 35.20 651.00)">Total flux (p/s)</text>
<line x1="57.50" y1="624.60" x2="57.50" y2="678.00" stroke="#231f20" stroke-width="1.0"/>
<line x1="57.00" y1="677.50" x2="89.20" y2="677.50" stroke="#231f20" stroke-width="1.0"/>
<line x1="54.40" y1="670.50" x2="57.50" y2="670.50" stroke="#231f20" stroke-width="1.0"/>
<text x="52.40" y="671.90" font-size="6.0" text-anchor="end" fill="#231f20">10<tspan dy="-2.4" font-size="3.6">6</tspan></text>
<line x1="54.40" y1="655.50" x2="57.50" y2="655.50" stroke="#231f20" stroke-width="1.0"/>
<text x="52.40" y="657.60" font-size="6.0" text-anchor="end" fill="#231f20">10<tspan dy="-2.4" font-size="3.6">7</tspan></text>
<line x1="54.40" y1="641.50" x2="57.50" y2="641.50" stroke="#231f20" stroke-width="1.0"/>
<text x="52.40" y="643.30" font-size="6.0" text-anchor="end" fill="#231f20">10<tspan dy="-2.4" font-size="3.6">8</tspan></text>
<line x1="54.40" y1="627.50" x2="57.50" y2="627.50" stroke="#231f20" stroke-width="1.0"/>
<text x="52.40" y="629.00" font-size="6.0" text-anchor="end" fill="#231f20">10<tspan dy="-2.4" font-size="3.6">9</tspan></text>
<line x1="55.40" y1="675.79" x2="57.00" y2="675.79" stroke="#231f20" stroke-width="0.6"/>
<line x1="55.40" y1="674.40" x2="57.00" y2="674.40" stroke="#231f20" stroke-width="0.6"/>
<line x1="55.40" y1="673.27" x2="57.00" y2="673.27" stroke="#231f20" stroke-width="0.6"/>
<line x1="55.40" y1="672.32" x2="57.00" y2="672.32" stroke="#231f20" stroke-width="0.6"/>
<line x1="55.40" y1="671.49" x2="57.00" y2="671.49" stroke="#231f20" stroke-width="0.6"/>
<line x1="55.40" y1="670.75" x2="57.00" y2="670.75" stroke="#231f20" stroke-width="0.6"/>
<line x1="55.40" y1="665.80" x2="57.00" y2="665.80" stroke="#231f20" stroke-width="0.6"/>
<line x1="55.40" y1="663.28" x2="57.00" y2="663.28" stroke="#231f20" stroke-width="0.6"/>
<line x1="55.40" y1="661.49" x2="57.00" y2="661.49" stroke="#231f20" stroke-width="0.6"/>
<line x1="55.40" y1="660.10" x2="57.00" y2="660.10" stroke="#231f20" stroke-width="0.6"/>
<line x1="55.40" y1="658.97" x2="57.00" y2="658.97" stroke="#231f20" stroke-width="0.6"/>
<line x1="55.40" y1="658.02" x2="57.00" y2="658.02" stroke="#231f20" stroke-width="0.6"/>
<line x1="55.40" y1="657.19" x2="57.00" y2="657.19" stroke="#231f20" stroke-width="0.6"/>
<line x1="55.40" y1="656.45" x2="57.00" y2="656.45" stroke="#231f20" stroke-width="0.6"/>
<line x1="55.40" y1="651.50" x2="57.00" y2="651.50" stroke="#231f20" stroke-width="0.6"/>
<line x1="55.40" y1="648.98" x2="57.00" y2="648.98" stroke="#231f20" stroke-width="0.6"/>
<line x1="55.40" y1="647.19" x2="57.00" y2="647.19" stroke="#231f20" stroke-width="0.6"/>
<line x1="55.40" y1="645.80" x2="57.00" y2="645.80" stroke="#231f20" stroke-width="0.6"/>
<line x1="55.40" y1="644.67" x2="57.00" y2="644.67" stroke="#231f20" stroke-width="0.6"/>
<line x1="55.40" y1="643.72" x2="57.00" y2="643.72" stroke="#231f20" stroke-width="0.6"/>
<line x1="55.40" y1="642.89" x2="57.00" y2="642.89" stroke="#231f20" stroke-width="0.6"/>
<line x1="55.40" y1="642.15" x2="57.00" y2="642.15" stroke="#231f20" stroke-width="0.6"/>
<line x1="55.40" y1="637.20" x2="57.00" y2="637.20" stroke="#231f20" stroke-width="0.6"/>
<line x1="55.40" y1="634.68" x2="57.00" y2="634.68" stroke="#231f20" stroke-width="0.6"/>
<line x1="55.40" y1="632.89" x2="57.00" y2="632.89" stroke="#231f20" stroke-width="0.6"/>
<line x1="55.40" y1="631.50" x2="57.00" y2="631.50" stroke="#231f20" stroke-width="0.6"/>
<line x1="55.40" y1="630.37" x2="57.00" y2="630.37" stroke="#231f20" stroke-width="0.6"/>
<line x1="55.40" y1="629.42" x2="57.00" y2="629.42" stroke="#231f20" stroke-width="0.6"/>
<line x1="55.40" y1="628.59" x2="57.00" y2="628.59" stroke="#231f20" stroke-width="0.6"/>
<line x1="55.40" y1="627.85" x2="57.00" y2="627.85" stroke="#231f20" stroke-width="0.6"/>
<line x1="94.50" y1="624.60" x2="94.50" y2="678.00" stroke="#231f20" stroke-width="1.0"/>
<line x1="94.00" y1="677.50" x2="126.20" y2="677.50" stroke="#231f20" stroke-width="1.0"/>
<line x1="91.70" y1="670.50" x2="94.50" y2="670.50" stroke="#231f20" stroke-width="1.0"/>
<line x1="91.70" y1="655.50" x2="94.50" y2="655.50" stroke="#231f20" stroke-width="1.0"/>
<line x1="91.70" y1="641.50" x2="94.50" y2="641.50" stroke="#231f20" stroke-width="1.0"/>
<line x1="91.70" y1="627.50" x2="94.50" y2="627.50" stroke="#231f20" stroke-width="1.0"/>
<line x1="92.70" y1="675.79" x2="94.30" y2="675.79" stroke="#231f20" stroke-width="0.6"/>
<line x1="92.70" y1="674.40" x2="94.30" y2="674.40" stroke="#231f20" stroke-width="0.6"/>
<line x1="92.70" y1="673.27" x2="94.30" y2="673.27" stroke="#231f20" stroke-width="0.6"/>
<line x1="92.70" y1="672.32" x2="94.30" y2="672.32" stroke="#231f20" stroke-width="0.6"/>
<line x1="92.70" y1="671.49" x2="94.30" y2="671.49" stroke="#231f20" stroke-width="0.6"/>
<line x1="92.70" y1="670.75" x2="94.30" y2="670.75" stroke="#231f20" stroke-width="0.6"/>
<line x1="92.70" y1="665.80" x2="94.30" y2="665.80" stroke="#231f20" stroke-width="0.6"/>
<line x1="92.70" y1="663.28" x2="94.30" y2="663.28" stroke="#231f20" stroke-width="0.6"/>
<line x1="92.70" y1="661.49" x2="94.30" y2="661.49" stroke="#231f20" stroke-width="0.6"/>
<line x1="92.70" y1="660.10" x2="94.30" y2="660.10" stroke="#231f20" stroke-width="0.6"/>
<line x1="92.70" y1="658.97" x2="94.30" y2="658.97" stroke="#231f20" stroke-width="0.6"/>
<line x1="92.70" y1="658.02" x2="94.30" y2="658.02" stroke="#231f20" stroke-width="0.6"/>
<line x1="92.70" y1="657.19" x2="94.30" y2="657.19" stroke="#231f20" stroke-width="0.6"/>
<line x1="92.70" y1="656.45" x2="94.30" y2="656.45" stroke="#231f20" stroke-width="0.6"/>
<line x1="92.70" y1="651.50" x2="94.30" y2="651.50" stroke="#231f20" stroke-width="0.6"/>
<line x1="92.70" y1="648.98" x2="94.30" y2="648.98" stroke="#231f20" stroke-width="0.6"/>
<line x1="92.70" y1="647.19" x2="94.30" y2="647.19" stroke="#231f20" stroke-width="0.6"/>
<line x1="92.70" y1="645.80" x2="94.30" y2="645.80" stroke="#231f20" stroke-width="0.6"/>
<line x1="92.70" y1="644.67" x2="94.30" y2="644.67" stroke="#231f20" stroke-width="0.6"/>
<line x1="92.70" y1="643.72" x2="94.30" y2="643.72" stroke="#231f20" stroke-width="0.6"/>
<line x1="92.70" y1="642.89" x2="94.30" y2="642.89" stroke="#231f20" stroke-width="0.6"/>
<line x1="92.70" y1="642.15" x2="94.30" y2="642.15" stroke="#231f20" stroke-width="0.6"/>
<line x1="92.70" y1="637.20" x2="94.30" y2="637.20" stroke="#231f20" stroke-width="0.6"/>
<line x1="92.70" y1="634.68" x2="94.30" y2="634.68" stroke="#231f20" stroke-width="0.6"/>
<line x1="92.70" y1="632.89" x2="94.30" y2="632.89" stroke="#231f20" stroke-width="0.6"/>
<line x1="92.70" y1="631.50" x2="94.30" y2="631.50" stroke="#231f20" stroke-width="0.6"/>
<line x1="92.70" y1="630.37" x2="94.30" y2="630.37" stroke="#231f20" stroke-width="0.6"/>
<line x1="92.70" y1="629.42" x2="94.30" y2="629.42" stroke="#231f20" stroke-width="0.6"/>
<line x1="92.70" y1="628.59" x2="94.30" y2="628.59" stroke="#231f20" stroke-width="0.6"/>
<line x1="92.70" y1="627.85" x2="94.30" y2="627.85" stroke="#231f20" stroke-width="0.6"/>
<line x1="132.50" y1="624.60" x2="132.50" y2="678.00" stroke="#231f20" stroke-width="1.0"/>
<line x1="132.00" y1="677.50" x2="164.50" y2="677.50" stroke="#231f20" stroke-width="1.0"/>
<line x1="129.90" y1="670.50" x2="132.50" y2="670.50" stroke="#231f20" stroke-width="1.0"/>
<line x1="129.90" y1="655.50" x2="132.50" y2="655.50" stroke="#231f20" stroke-width="1.0"/>
<line x1="129.90" y1="641.50" x2="132.50" y2="641.50" stroke="#231f20" stroke-width="1.0"/>
<line x1="129.90" y1="627.50" x2="132.50" y2="627.50" stroke="#231f20" stroke-width="1.0"/>
<line x1="130.90" y1="675.79" x2="132.50" y2="675.79" stroke="#231f20" stroke-width="0.6"/>
<line x1="130.90" y1="674.40" x2="132.50" y2="674.40" stroke="#231f20" stroke-width="0.6"/>
<line x1="130.90" y1="673.27" x2="132.50" y2="673.27" stroke="#231f20" stroke-width="0.6"/>
<line x1="130.90" y1="672.32" x2="132.50" y2="672.32" stroke="#231f20" stroke-width="0.6"/>
<line x1="130.90" y1="671.49" x2="132.50" y2="671.49" stroke="#231f20" stroke-width="0.6"/>
<line x1="130.90" y1="670.75" x2="132.50" y2="670.75" stroke="#231f20" stroke-width="0.6"/>
<line x1="130.90" y1="665.80" x2="132.50" y2="665.80" stroke="#231f20" stroke-width="0.6"/>
<line x1="130.90" y1="663.28" x2="132.50" y2="663.28" stroke="#231f20" stroke-width="0.6"/>
<line x1="130.90" y1="661.49" x2="132.50" y2="661.49" stroke="#231f20" stroke-width="0.6"/>
<line x1="130.90" y1="660.10" x2="132.50" y2="660.10" stroke="#231f20" stroke-width="0.6"/>
<line x1="130.90" y1="658.97" x2="132.50" y2="658.97" stroke="#231f20" stroke-width="0.6"/>
<line x1="130.90" y1="658.02" x2="132.50" y2="658.02" stroke="#231f20" stroke-width="0.6"/>
<line x1="130.90" y1="657.19" x2="132.50" y2="657.19" stroke="#231f20" stroke-width="0.6"/>
<line x1="130.90" y1="656.45" x2="132.50" y2="656.45" stroke="#231f20" stroke-width="0.6"/>
<line x1="130.90" y1="651.50" x2="132.50" y2="651.50" stroke="#231f20" stroke-width="0.6"/>
<line x1="130.90" y1="648.98" x2="132.50" y2="648.98" stroke="#231f20" stroke-width="0.6"/>
<line x1="130.90" y1="647.19" x2="132.50" y2="647.19" stroke="#231f20" stroke-width="0.6"/>
<line x1="130.90" y1="645.80" x2="132.50" y2="645.80" stroke="#231f20" stroke-width="0.6"/>
<line x1="130.90" y1="644.67" x2="132.50" y2="644.67" stroke="#231f20" stroke-width="0.6"/>
<line x1="130.90" y1="643.72" x2="132.50" y2="643.72" stroke="#231f20" stroke-width="0.6"/>
<line x1="130.90" y1="642.89" x2="132.50" y2="642.89" stroke="#231f20" stroke-width="0.6"/>
<line x1="130.90" y1="642.15" x2="132.50" y2="642.15" stroke="#231f20" stroke-width="0.6"/>
<line x1="130.90" y1="637.20" x2="132.50" y2="637.20" stroke="#231f20" stroke-width="0.6"/>
<line x1="130.90" y1="634.68" x2="132.50" y2="634.68" stroke="#231f20" stroke-width="0.6"/>
<line x1="130.90" y1="632.89" x2="132.50" y2="632.89" stroke="#231f20" stroke-width="0.6"/>
<line x1="130.90" y1="631.50" x2="132.50" y2="631.50" stroke="#231f20" stroke-width="0.6"/>
<line x1="130.90" y1="630.37" x2="132.50" y2="630.37" stroke="#231f20" stroke-width="0.6"/>
<line x1="130.90" y1="629.42" x2="132.50" y2="629.42" stroke="#231f20" stroke-width="0.6"/>
<line x1="130.90" y1="628.59" x2="132.50" y2="628.59" stroke="#231f20" stroke-width="0.6"/>
<line x1="130.90" y1="627.85" x2="132.50" y2="627.85" stroke="#231f20" stroke-width="0.6"/>
<line x1="170.50" y1="624.60" x2="170.50" y2="678.00" stroke="#231f20" stroke-width="1.0"/>
<line x1="170.00" y1="677.50" x2="201.30" y2="677.50" stroke="#231f20" stroke-width="1.0"/>
<line x1="167.40" y1="670.50" x2="170.50" y2="670.50" stroke="#231f20" stroke-width="1.0"/>
<line x1="167.40" y1="655.50" x2="170.50" y2="655.50" stroke="#231f20" stroke-width="1.0"/>
<line x1="167.40" y1="641.50" x2="170.50" y2="641.50" stroke="#231f20" stroke-width="1.0"/>
<line x1="167.40" y1="627.50" x2="170.50" y2="627.50" stroke="#231f20" stroke-width="1.0"/>
<line x1="168.40" y1="675.79" x2="170.00" y2="675.79" stroke="#231f20" stroke-width="0.6"/>
<line x1="168.40" y1="674.40" x2="170.00" y2="674.40" stroke="#231f20" stroke-width="0.6"/>
<line x1="168.40" y1="673.27" x2="170.00" y2="673.27" stroke="#231f20" stroke-width="0.6"/>
<line x1="168.40" y1="672.32" x2="170.00" y2="672.32" stroke="#231f20" stroke-width="0.6"/>
<line x1="168.40" y1="671.49" x2="170.00" y2="671.49" stroke="#231f20" stroke-width="0.6"/>
<line x1="168.40" y1="670.75" x2="170.00" y2="670.75" stroke="#231f20" stroke-width="0.6"/>
<line x1="168.40" y1="665.80" x2="170.00" y2="665.80" stroke="#231f20" stroke-width="0.6"/>
<line x1="168.40" y1="663.28" x2="170.00" y2="663.28" stroke="#231f20" stroke-width="0.6"/>
<line x1="168.40" y1="661.49" x2="170.00" y2="661.49" stroke="#231f20" stroke-width="0.6"/>
<line x1="168.40" y1="660.10" x2="170.00" y2="660.10" stroke="#231f20" stroke-width="0.6"/>
<line x1="168.40" y1="658.97" x2="170.00" y2="658.97" stroke="#231f20" stroke-width="0.6"/>
<line x1="168.40" y1="658.02" x2="170.00" y2="658.02" stroke="#231f20" stroke-width="0.6"/>
<line x1="168.40" y1="657.19" x2="170.00" y2="657.19" stroke="#231f20" stroke-width="0.6"/>
<line x1="168.40" y1="656.45" x2="170.00" y2="656.45" stroke="#231f20" stroke-width="0.6"/>
<line x1="168.40" y1="651.50" x2="170.00" y2="651.50" stroke="#231f20" stroke-width="0.6"/>
<line x1="168.40" y1="648.98" x2="170.00" y2="648.98" stroke="#231f20" stroke-width="0.6"/>
<line x1="168.40" y1="647.19" x2="170.00" y2="647.19" stroke="#231f20" stroke-width="0.6"/>
<line x1="168.40" y1="645.80" x2="170.00" y2="645.80" stroke="#231f20" stroke-width="0.6"/>
<line x1="168.40" y1="644.67" x2="170.00" y2="644.67" stroke="#231f20" stroke-width="0.6"/>
<line x1="168.40" y1="643.72" x2="170.00" y2="643.72" stroke="#231f20" stroke-width="0.6"/>
<line x1="168.40" y1="642.89" x2="170.00" y2="642.89" stroke="#231f20" stroke-width="0.6"/>
<line x1="168.40" y1="642.15" x2="170.00" y2="642.15" stroke="#231f20" stroke-width="0.6"/>
<line x1="168.40" y1="637.20" x2="170.00" y2="637.20" stroke="#231f20" stroke-width="0.6"/>
<line x1="168.40" y1="634.68" x2="170.00" y2="634.68" stroke="#231f20" stroke-width="0.6"/>
<line x1="168.40" y1="632.89" x2="170.00" y2="632.89" stroke="#231f20" stroke-width="0.6"/>
<line x1="168.40" y1="631.50" x2="170.00" y2="631.50" stroke="#231f20" stroke-width="0.6"/>
<line x1="168.40" y1="630.37" x2="170.00" y2="630.37" stroke="#231f20" stroke-width="0.6"/>
<line x1="168.40" y1="629.42" x2="170.00" y2="629.42" stroke="#231f20" stroke-width="0.6"/>
<line x1="168.40" y1="628.59" x2="170.00" y2="628.59" stroke="#231f20" stroke-width="0.6"/>
<line x1="168.40" y1="627.85" x2="170.00" y2="627.85" stroke="#231f20" stroke-width="0.6"/>
<line x1="206.50" y1="624.60" x2="206.50" y2="678.00" stroke="#231f20" stroke-width="1.0"/>
<line x1="206.00" y1="677.50" x2="239.50" y2="677.50" stroke="#231f20" stroke-width="1.0"/>
<line x1="204.20" y1="670.50" x2="206.50" y2="670.50" stroke="#231f20" stroke-width="1.0"/>
<line x1="204.20" y1="655.50" x2="206.50" y2="655.50" stroke="#231f20" stroke-width="1.0"/>
<line x1="204.20" y1="641.50" x2="206.50" y2="641.50" stroke="#231f20" stroke-width="1.0"/>
<line x1="204.20" y1="627.50" x2="206.50" y2="627.50" stroke="#231f20" stroke-width="1.0"/>
<line x1="205.20" y1="675.79" x2="206.80" y2="675.79" stroke="#231f20" stroke-width="0.6"/>
<line x1="205.20" y1="674.40" x2="206.80" y2="674.40" stroke="#231f20" stroke-width="0.6"/>
<line x1="205.20" y1="673.27" x2="206.80" y2="673.27" stroke="#231f20" stroke-width="0.6"/>
<line x1="205.20" y1="672.32" x2="206.80" y2="672.32" stroke="#231f20" stroke-width="0.6"/>
<line x1="205.20" y1="671.49" x2="206.80" y2="671.49" stroke="#231f20" stroke-width="0.6"/>
<line x1="205.20" y1="670.75" x2="206.80" y2="670.75" stroke="#231f20" stroke-width="0.6"/>
<line x1="205.20" y1="665.80" x2="206.80" y2="665.80" stroke="#231f20" stroke-width="0.6"/>
<line x1="205.20" y1="663.28" x2="206.80" y2="663.28" stroke="#231f20" stroke-width="0.6"/>
<line x1="205.20" y1="661.49" x2="206.80" y2="661.49" stroke="#231f20" stroke-width="0.6"/>
<line x1="205.20" y1="660.10" x2="206.80" y2="660.10" stroke="#231f20" stroke-width="0.6"/>
<line x1="205.20" y1="658.97" x2="206.80" y2="658.97" stroke="#231f20" stroke-width="0.6"/>
<line x1="205.20" y1="658.02" x2="206.80" y2="658.02" stroke="#231f20" stroke-width="0.6"/>
<line x1="205.20" y1="657.19" x2="206.80" y2="657.19" stroke="#231f20" stroke-width="0.6"/>
<line x1="205.20" y1="656.45" x2="206.80" y2="656.45" stroke="#231f20" stroke-width="0.6"/>
<line x1="205.20" y1="651.50" x2="206.80" y2="651.50" stroke="#231f20" stroke-width="0.6"/>
<line x1="205.20" y1="648.98" x2="206.80" y2="648.98" stroke="#231f20" stroke-width="0.6"/>
<line x1="205.20" y1="647.19" x2="206.80" y2="647.19" stroke="#231f20" stroke-width="0.6"/>
<line x1="205.20" y1="645.80" x2="206.80" y2="645.80" stroke="#231f20" stroke-width="0.6"/>
<line x1="205.20" y1="644.67" x2="206.80" y2="644.67" stroke="#231f20" stroke-width="0.6"/>
<line x1="205.20" y1="643.72" x2="206.80" y2="643.72" stroke="#231f20" stroke-width="0.6"/>
<line x1="205.20" y1="642.89" x2="206.80" y2="642.89" stroke="#231f20" stroke-width="0.6"/>
<line x1="205.20" y1="642.15" x2="206.80" y2="642.15" stroke="#231f20" stroke-width="0.6"/>
<line x1="205.20" y1="637.20" x2="206.80" y2="637.20" stroke="#231f20" stroke-width="0.6"/>
<line x1="205.20" y1="634.68" x2="206.80" y2="634.68" stroke="#231f20" stroke-width="0.6"/>
<line x1="205.20" y1="632.89" x2="206.80" y2="632.89" stroke="#231f20" stroke-width="0.6"/>
<line x1="205.20" y1="631.50" x2="206.80" y2="631.50" stroke="#231f20" stroke-width="0.6"/>
<line x1="205.20" y1="630.37" x2="206.80" y2="630.37" stroke="#231f20" stroke-width="0.6"/>
<line x1="205.20" y1="629.42" x2="206.80" y2="629.42" stroke="#231f20" stroke-width="0.6"/>
<line x1="205.20" y1="628.59" x2="206.80" y2="628.59" stroke="#231f20" stroke-width="0.6"/>
<line x1="205.20" y1="627.85" x2="206.80" y2="627.85" stroke="#231f20" stroke-width="0.6"/>
<line x1="65.60" y1="656.20" x2="65.60" y2="658.50" stroke="#b0303f" stroke-width="0.95"/>
<line x1="65.60" y1="665.40" x2="65.60" y2="668.20" stroke="#b0303f" stroke-width="0.95"/>
<line x1="63.52" y1="656.20" x2="67.68" y2="656.20" stroke="#b0303f" stroke-width="0.95"/>
<line x1="63.52" y1="668.20" x2="67.68" y2="668.20" stroke="#b0303f" stroke-width="0.95"/>
<rect x="60.85" y="658.50" width="9.50" height="6.90" fill="none" stroke="#b0303f" stroke-width="0.95"/>
<line x1="60.85" y1="660.30" x2="70.35" y2="660.30" stroke="#b0303f" stroke-width="0.95"/>
<line x1="80.40" y1="655.50" x2="80.40" y2="656.20" stroke="#6aaa4c" stroke-width="0.95"/>
<line x1="80.40" y1="668.90" x2="80.40" y2="669.60" stroke="#6aaa4c" stroke-width="0.95"/>
<line x1="78.24" y1="655.50" x2="82.56" y2="655.50" stroke="#6aaa4c" stroke-width="0.95"/>
<line x1="78.24" y1="669.60" x2="82.56" y2="669.60" stroke="#6aaa4c" stroke-width="0.95"/>
<rect x="75.45" y="656.20" width="9.90" height="12.70" fill="none" stroke="#6aaa4c" stroke-width="0.95"/>
<line x1="75.45" y1="665.40" x2="85.35" y2="665.40" stroke="#6aaa4c" stroke-width="0.95"/>
<line x1="103.35" y1="630.30" x2="103.35" y2="633.00" stroke="#b0303f" stroke-width="0.95"/>
<line x1="103.35" y1="652.70" x2="103.35" y2="666.00" stroke="#b0303f" stroke-width="0.95"/>
<line x1="101.13" y1="630.30" x2="105.57" y2="630.30" stroke="#b0303f" stroke-width="0.95"/>
<line x1="101.13" y1="666.00" x2="105.57" y2="666.00" stroke="#b0303f" stroke-width="0.95"/>
<rect x="98.25" y="633.00" width="10.20" height="19.70" fill="none" stroke="#b0303f" stroke-width="0.95"/>
<line x1="98.25" y1="641.60" x2="108.45" y2="641.60" stroke="#b0303f" stroke-width="0.95"/>
<line x1="117.75" y1="642.30" x2="117.75" y2="645.10" stroke="#6aaa4c" stroke-width="0.95"/>
<line x1="117.75" y1="664.70" x2="117.75" y2="670.50" stroke="#6aaa4c" stroke-width="0.95"/>
<line x1="115.57" y1="642.30" x2="119.93" y2="642.30" stroke="#6aaa4c" stroke-width="0.95"/>
<line x1="115.57" y1="670.50" x2="119.93" y2="670.50" stroke="#6aaa4c" stroke-width="0.95"/>
<rect x="112.75" y="645.10" width="10.00" height="19.60" fill="none" stroke="#6aaa4c" stroke-width="0.95"/>
<line x1="112.75" y1="656.60" x2="122.75" y2="656.60" stroke="#6aaa4c" stroke-width="0.95"/>
<line x1="141.15" y1="630.50" x2="141.15" y2="633.30" stroke="#b0303f" stroke-width="0.95"/>
<line x1="141.15" y1="653.00" x2="141.15" y2="670.50" stroke="#b0303f" stroke-width="0.95"/>
<line x1="138.89" y1="630.50" x2="143.41" y2="630.50" stroke="#b0303f" stroke-width="0.95"/>
<line x1="138.89" y1="670.50" x2="143.41" y2="670.50" stroke="#b0303f" stroke-width="0.95"/>
<rect x="135.95" y="633.30" width="10.40" height="19.70" fill="none" stroke="#b0303f" stroke-width="0.95"/>
<line x1="135.95" y1="636.30" x2="146.35" y2="636.30" stroke="#b0303f" stroke-width="0.95"/>
<line x1="155.90" y1="658.30" x2="155.90" y2="660.50" stroke="#6aaa4c" stroke-width="0.95"/>
<line x1="155.90" y1="670.20" x2="155.90" y2="673.00" stroke="#6aaa4c" stroke-width="0.95"/>
<line x1="153.74" y1="658.30" x2="158.06" y2="658.30" stroke="#6aaa4c" stroke-width="0.95"/>
<line x1="153.74" y1="673.00" x2="158.06" y2="673.00" stroke="#6aaa4c" stroke-width="0.95"/>
<rect x="150.95" y="660.50" width="9.90" height="9.70" fill="none" stroke="#6aaa4c" stroke-width="0.95"/>
<line x1="150.95" y1="669.60" x2="160.85" y2="669.60" stroke="#6aaa4c" stroke-width="0.95"/>
<line x1="179.15" y1="633.00" x2="179.15" y2="635.00" stroke="#b0303f" stroke-width="0.95"/>
<line x1="179.15" y1="655.50" x2="179.15" y2="669.50" stroke="#b0303f" stroke-width="0.95"/>
<line x1="177.01" y1="633.00" x2="181.29" y2="633.00" stroke="#b0303f" stroke-width="0.95"/>
<line x1="177.01" y1="669.50" x2="181.29" y2="669.50" stroke="#b0303f" stroke-width="0.95"/>
<rect x="174.25" y="635.00" width="9.80" height="20.50" fill="none" stroke="#b0303f" stroke-width="0.95"/>
<line x1="174.25" y1="638.80" x2="184.05" y2="638.80" stroke="#b0303f" stroke-width="0.95"/>
<line x1="193.65" y1="649.30" x2="193.65" y2="659.30" stroke="#6aaa4c" stroke-width="0.95"/>
<line x1="193.65" y1="670.50" x2="193.65" y2="672.00" stroke="#6aaa4c" stroke-width="0.95"/>
<line x1="191.51" y1="649.30" x2="195.79" y2="649.30" stroke="#6aaa4c" stroke-width="0.95"/>
<line x1="191.51" y1="672.00" x2="195.79" y2="672.00" stroke="#6aaa4c" stroke-width="0.95"/>
<rect x="188.75" y="659.30" width="9.80" height="11.20" fill="none" stroke="#6aaa4c" stroke-width="0.95"/>
<line x1="188.75" y1="668.00" x2="198.55" y2="668.00" stroke="#6aaa4c" stroke-width="0.95"/>
<line x1="216.15" y1="630.00" x2="216.15" y2="630.80" stroke="#b0303f" stroke-width="0.95"/>
<line x1="216.15" y1="637.00" x2="216.15" y2="672.50" stroke="#b0303f" stroke-width="0.95"/>
<line x1="213.89" y1="630.00" x2="218.41" y2="630.00" stroke="#b0303f" stroke-width="0.95"/>
<line x1="213.89" y1="672.50" x2="218.41" y2="672.50" stroke="#b0303f" stroke-width="0.95"/>
<rect x="210.95" y="630.80" width="10.40" height="6.20" fill="none" stroke="#b0303f" stroke-width="0.95"/>
<line x1="210.95" y1="633.30" x2="221.35" y2="633.30" stroke="#b0303f" stroke-width="0.95"/>
<line x1="231.15" y1="642.00" x2="231.15" y2="653.30" stroke="#6aaa4c" stroke-width="0.95"/>
<line x1="231.15" y1="668.80" x2="231.15" y2="672.00" stroke="#6aaa4c" stroke-width="0.95"/>
<line x1="229.01" y1="642.00" x2="233.29" y2="642.00" stroke="#6aaa4c" stroke-width="0.95"/>
<line x1="229.01" y1="672.00" x2="233.29" y2="672.00" stroke="#6aaa4c" stroke-width="0.95"/>
<rect x="226.25" y="653.30" width="9.80" height="15.50" fill="none" stroke="#6aaa4c" stroke-width="0.95"/>
<line x1="226.25" y1="655.80" x2="236.05" y2="655.80" stroke="#6aaa4c" stroke-width="0.95"/>
<line x1="65.60" y1="677.40" x2="65.60" y2="680.00" stroke="#231f20" stroke-width="0.9"/>
<text x="46.23" y="686.00" font-size="6.8" textLength="21.77" lengthAdjust="spacingAndGlyphs" fill="#231f20" stroke="none" transform="rotate(-45 68.00 686.00)">No DOX</text>
<line x1="80.40" y1="677.40" x2="80.40" y2="680.00" stroke="#231f20" stroke-width="0.9"/>
<text x="70.13" y="686.00" font-size="6.8" textLength="12.67" lengthAdjust="spacingAndGlyphs" fill="#231f20" stroke="none" transform="rotate(-45 82.80 686.00)">DOX</text>
<line x1="103.35" y1="677.40" x2="103.35" y2="680.00" stroke="#231f20" stroke-width="0.9"/>
<text x="83.98" y="686.00" font-size="6.8" textLength="21.77" lengthAdjust="spacingAndGlyphs" fill="#231f20" stroke="none" transform="rotate(-45 105.75 686.00)">No DOX</text>
<line x1="117.75" y1="677.40" x2="117.75" y2="680.00" stroke="#231f20" stroke-width="0.9"/>
<text x="107.48" y="686.00" font-size="6.8" textLength="12.67" lengthAdjust="spacingAndGlyphs" fill="#231f20" stroke="none" transform="rotate(-45 120.15 686.00)">DOX</text>
<line x1="141.15" y1="677.40" x2="141.15" y2="680.00" stroke="#231f20" stroke-width="0.9"/>
<text x="121.78" y="686.00" font-size="6.8" textLength="21.77" lengthAdjust="spacingAndGlyphs" fill="#231f20" stroke="none" transform="rotate(-45 143.55 686.00)">No DOX</text>
<line x1="155.90" y1="677.40" x2="155.90" y2="680.00" stroke="#231f20" stroke-width="0.9"/>
<text x="145.63" y="686.00" font-size="6.8" textLength="12.67" lengthAdjust="spacingAndGlyphs" fill="#231f20" stroke="none" transform="rotate(-45 158.30 686.00)">DOX</text>
<line x1="179.15" y1="677.40" x2="179.15" y2="680.00" stroke="#231f20" stroke-width="0.9"/>
<text x="159.78" y="686.00" font-size="6.8" textLength="21.77" lengthAdjust="spacingAndGlyphs" fill="#231f20" stroke="none" transform="rotate(-45 181.55 686.00)">No DOX</text>
<line x1="193.65" y1="677.40" x2="193.65" y2="680.00" stroke="#231f20" stroke-width="0.9"/>
<text x="183.38" y="686.00" font-size="6.8" textLength="12.67" lengthAdjust="spacingAndGlyphs" fill="#231f20" stroke="none" transform="rotate(-45 196.05 686.00)">DOX</text>
<line x1="216.15" y1="677.40" x2="216.15" y2="680.00" stroke="#231f20" stroke-width="0.9"/>
<text x="196.78" y="686.00" font-size="6.8" textLength="21.77" lengthAdjust="spacingAndGlyphs" fill="#231f20" stroke="none" transform="rotate(-45 218.55 686.00)">No DOX</text>
<line x1="231.15" y1="677.40" x2="231.15" y2="680.00" stroke="#231f20" stroke-width="0.9"/>
<text x="220.88" y="686.00" font-size="6.8" textLength="12.67" lengthAdjust="spacingAndGlyphs" fill="#231f20" stroke="none" transform="rotate(-45 233.55 686.00)">DOX</text>
<text x="76.76" y="649.90" font-size="6.6" textLength="7.48" lengthAdjust="spacingAndGlyphs" fill="#231f20" stroke="none">n.s</text>
<text x="114.26" y="637.60" font-size="6.6" textLength="7.48" lengthAdjust="spacingAndGlyphs" fill="#231f20" stroke="none">n.s</text>
<text x="155.05" y="659.20" font-size="6.4" textLength="2.49" lengthAdjust="spacingAndGlyphs" fill="#231f20" stroke="none">*</text>
<text x="192.55" y="648.70" font-size="6.4" textLength="2.49" lengthAdjust="spacingAndGlyphs" fill="#231f20" stroke="none">*</text>
<text x="230.05" y="642.40" font-size="6.4" textLength="2.49" lengthAdjust="spacingAndGlyphs" fill="#231f20" stroke="none">*</text>
<rect x="1" y="1" width="518" height="712" fill="none" stroke="#484848" stroke-width="2"/>
</svg></body></html>
